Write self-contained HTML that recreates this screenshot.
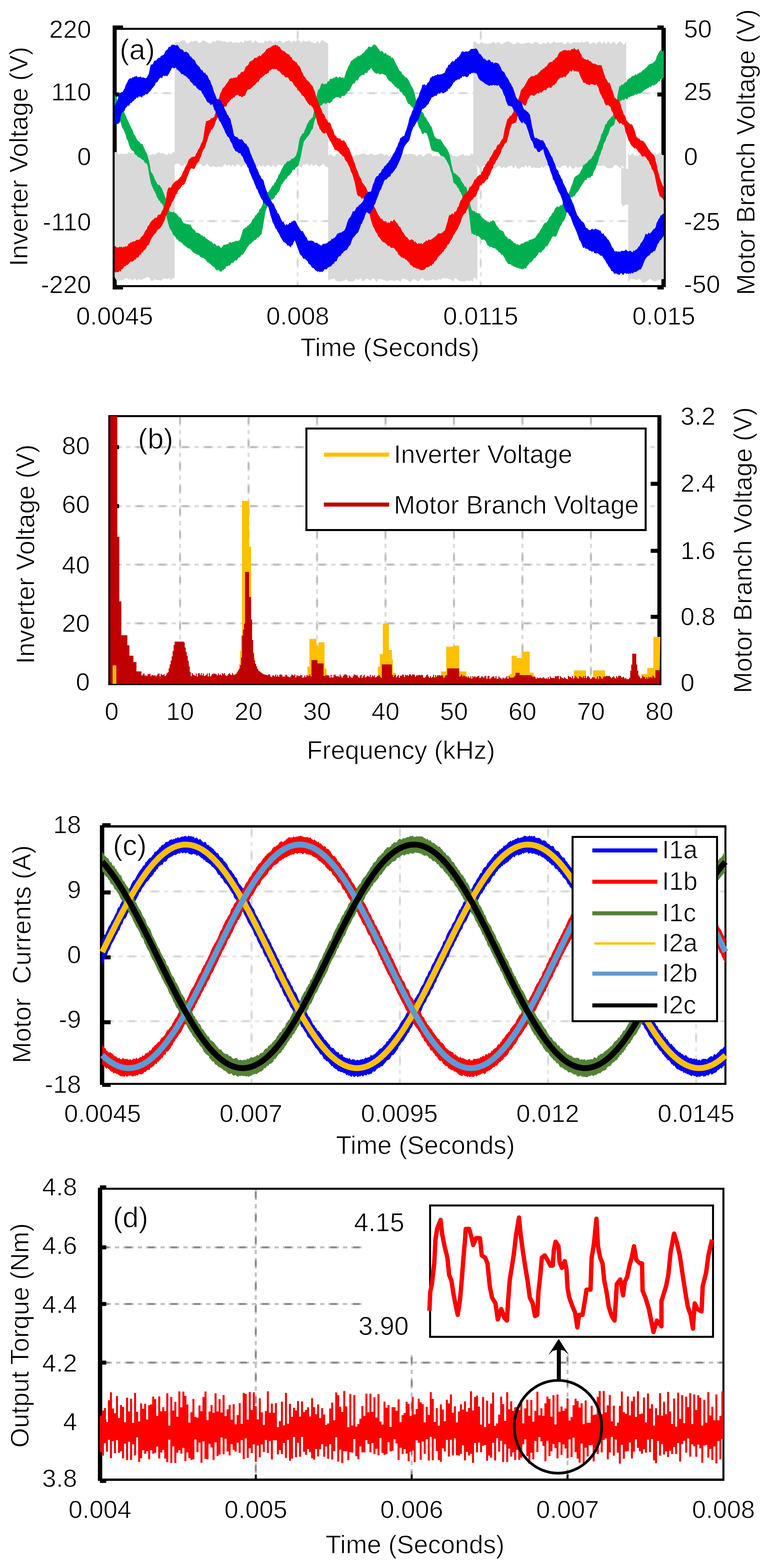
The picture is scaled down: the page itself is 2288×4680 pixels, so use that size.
<!DOCTYPE html>
<html><head><meta charset="utf-8"><title>figure</title>
<style>
html,body{margin:0;padding:0;background:#fff;}
svg{display:block;}
svg text{font-family:"Liberation Sans",Arial,sans-serif;fill:#000;stroke:#fff;stroke-width:1.2px;}
</style></head><body>
<svg width="2288" height="4680" viewBox="0 0 2288 4680">
<rect x="0" y="0" width="2288" height="4680" fill="#fff"/>
<line x1="888" y1="89" x2="888" y2="851" stroke="#E8E8E8" stroke-width="6" stroke-dasharray="31 12 13 12" stroke-dashoffset="-0"/>
<line x1="888" y1="89" x2="888" y2="851" stroke="#D6D6D6" stroke-width="6" stroke-dasharray="19 49" stroke-dashoffset="-6"/>
<line x1="1434" y1="89" x2="1434" y2="851" stroke="#E8E8E8" stroke-width="6" stroke-dasharray="31 12 13 12" stroke-dashoffset="-0"/>
<line x1="1434" y1="89" x2="1434" y2="851" stroke="#D6D6D6" stroke-width="6" stroke-dasharray="19 49" stroke-dashoffset="-6"/>
<line x1="348" y1="278" x2="1980" y2="278" stroke="#E8E8E8" stroke-width="6" stroke-dasharray="31 12 13 12" stroke-dashoffset="-65.8"/>
<line x1="348" y1="278" x2="1980" y2="278" stroke="#D6D6D6" stroke-width="6" stroke-dasharray="19 49" stroke-dashoffset="-71.8"/>
<line x1="348" y1="660" x2="1980" y2="660" stroke="#E8E8E8" stroke-width="6" stroke-dasharray="31 12 13 12" stroke-dashoffset="-65.8"/>
<line x1="348" y1="660" x2="1980" y2="660" stroke="#D6D6D6" stroke-width="6" stroke-dasharray="19 49" stroke-dashoffset="-71.8"/>
<rect x="336" y="76" width="12" height="788" fill="#000"/>
<rect x="1973" y="83" width="13" height="774" fill="#000"/>
<rect x="336" y="83" width="1650" height="6" fill="#000"/>
<rect x="336" y="851" width="1650" height="6" fill="#000"/>
<rect x="336" y="76" width="31" height="13" fill="#000"/>
<rect x="336" y="851" width="31" height="13" fill="#000"/>
<rect x="1961" y="76" width="19" height="7" fill="#000"/>
<rect x="1961" y="857" width="19" height="7" fill="#000"/>
<rect x="348" y="276" width="7" height="12" fill="#000"/>
<rect x="1961" y="276" width="12" height="12" fill="#000"/>
<rect x="348" y="463" width="7" height="12" fill="#000"/>
<rect x="1961" y="463" width="12" height="12" fill="#000"/>
<rect x="348" y="654" width="7" height="12" fill="#000"/>
<rect x="1961" y="654" width="12" height="12" fill="#000"/>
<polygon points="342,454 342,454 348,454 354,461 360,458 366,459 372,459 378,460 384,453 390,458 396,454 402,457 408,463 414,459 420,453 426,458 432,454 438,461 444,463 450,463 456,459 462,462 468,457 474,454 480,458 486,457 492,460 498,463 504,456 510,462 516,454 521,454 521,830 516,830 510,836 504,829 498,834 492,831 486,832 480,838 474,836 468,836 462,833 456,838 450,838 444,827 438,828 432,830 426,833 420,836 414,832 408,838 402,830 396,838 390,833 384,835 378,829 372,833 366,836 360,837 354,837 348,838 342,827 342,827" fill="#D9D9D9"/>
<polygon points="521,128 521,128 527,125 533,127 539,123 545,120 551,120 557,130 563,129 569,123 575,124 581,122 587,121 593,129 599,127 605,120 611,122 617,126 623,129 629,130 635,122 641,126 647,120 653,121 659,122 665,124 671,123 677,127 683,125 689,123 695,129 701,126 707,127 713,128 719,123 725,129 731,120 737,123 743,121 749,120 755,130 761,120 767,125 773,129 779,127 785,129 791,120 797,125 803,120 809,122 815,129 821,120 827,126 833,120 839,123 845,130 851,123 857,123 863,120 869,128 875,121 881,125 887,120 893,120 899,129 905,120 911,125 917,124 923,121 929,127 935,128 941,130 947,122 953,130 959,120 965,121 971,126 977,129 979,129 979,499 977,499 971,497 965,488 959,493 953,498 947,494 941,490 935,496 929,489 923,497 917,488 911,492 905,491 899,500 893,497 887,496 881,494 875,491 869,499 863,500 857,490 851,491 845,492 839,494 833,491 827,493 821,500 815,492 809,500 803,494 797,492 791,500 785,493 779,498 773,492 767,500 761,497 755,499 749,488 743,489 737,488 731,494 725,493 719,500 713,491 707,490 701,498 695,491 689,497 683,491 677,495 671,489 665,496 659,499 653,496 647,499 641,498 635,495 629,500 623,494 617,489 611,495 605,496 599,490 593,489 587,496 581,493 575,494 569,498 563,496 557,499 551,490 545,497 539,495 533,488 527,488 521,492 521,492" fill="#D9D9D9"/>
<polygon points="979,465 979,465 985,459 991,463 997,468 1003,459 1009,459 1015,468 1021,460 1027,467 1033,461 1039,466 1045,458 1051,464 1057,467 1063,461 1069,464 1075,460 1081,459 1087,458 1093,463 1099,463 1105,458 1111,460 1117,464 1123,462 1129,460 1135,458 1141,458 1147,465 1153,459 1159,467 1165,464 1171,460 1177,465 1183,459 1189,461 1195,463 1201,465 1207,459 1213,461 1219,459 1225,459 1231,460 1237,461 1243,467 1249,462 1255,459 1261,468 1267,464 1273,459 1279,458 1285,458 1291,468 1297,464 1303,465 1309,468 1315,462 1321,467 1327,462 1333,465 1339,467 1345,458 1351,466 1357,466 1363,468 1369,465 1375,463 1381,459 1387,466 1393,463 1399,466 1405,458 1411,461 1412,461 1412,840 1411,840 1405,837 1399,839 1393,837 1387,840 1381,840 1375,839 1369,838 1363,833 1357,830 1351,840 1345,834 1339,833 1333,830 1327,831 1321,830 1315,835 1309,833 1303,836 1297,837 1291,833 1285,836 1279,837 1273,838 1267,837 1261,830 1255,833 1249,840 1243,838 1237,833 1231,834 1225,842 1219,839 1213,834 1207,833 1201,831 1195,840 1189,838 1183,835 1177,839 1171,837 1165,836 1159,838 1153,839 1147,836 1141,835 1135,833 1129,833 1123,842 1117,832 1111,831 1105,838 1099,834 1093,831 1087,837 1081,839 1075,830 1069,836 1063,832 1057,837 1051,840 1045,840 1039,840 1033,833 1027,838 1021,838 1015,841 1009,839 1003,839 997,831 991,833 985,834 979,838 979,838" fill="#D9D9D9"/>
<polygon points="1410,498 1410,498 1416,492 1422,494 1424,494 1424,835 1422,835 1416,828 1410,831 1410,831" fill="#D9D9D9"/>
<polygon points="1412,125 1412,125 1418,124 1424,130 1430,132 1436,124 1442,130 1448,130 1454,131 1460,130 1466,129 1472,124 1478,131 1484,125 1490,127 1496,133 1502,129 1508,126 1514,123 1520,125 1526,129 1532,132 1538,131 1544,125 1550,130 1556,130 1562,131 1568,128 1574,128 1580,127 1586,132 1592,128 1598,124 1604,128 1610,132 1616,132 1622,127 1628,132 1634,124 1640,131 1646,129 1652,123 1658,128 1664,127 1670,127 1676,125 1682,132 1688,132 1694,124 1700,131 1706,129 1712,125 1718,127 1724,126 1730,128 1736,124 1742,128 1748,124 1754,124 1760,132 1766,128 1772,126 1778,132 1784,126 1790,124 1796,132 1802,123 1808,133 1814,123 1820,131 1826,128 1832,124 1838,133 1844,127 1850,123 1856,130 1862,133 1868,124 1868,124 1868,498 1868,498 1862,504 1856,493 1850,502 1844,497 1838,492 1832,494 1826,503 1820,501 1814,503 1808,499 1802,493 1796,495 1790,495 1784,495 1778,493 1772,503 1766,493 1760,501 1754,501 1748,497 1742,500 1736,497 1730,498 1724,501 1718,497 1712,504 1706,502 1700,493 1694,503 1688,494 1682,494 1676,496 1670,502 1664,498 1658,501 1652,492 1646,501 1640,492 1634,495 1628,494 1622,502 1616,497 1610,502 1604,501 1598,501 1592,499 1586,503 1580,492 1574,500 1568,492 1562,500 1556,497 1550,504 1544,503 1538,492 1532,503 1526,494 1520,496 1514,498 1508,503 1502,496 1496,504 1490,495 1484,497 1478,504 1472,501 1466,500 1460,496 1454,492 1448,493 1442,496 1436,499 1430,503 1424,493 1418,492 1412,500 1412,500" fill="#D9D9D9"/>
<polygon points="1853,497 1853,497 1859,503 1865,501 1871,505 1874,505 1874,611 1871,611 1865,611 1859,616 1853,607 1853,607" fill="#D9D9D9"/>
<polygon points="1874,458 1874,458 1880,465 1886,457 1892,465 1898,463 1904,466 1910,458 1916,462 1922,456 1928,463 1934,456 1940,460 1946,459 1952,458 1958,461 1964,459 1970,456 1976,463 1980,463 1980,833 1976,833 1970,835 1964,835 1958,839 1952,840 1946,837 1940,832 1934,836 1928,840 1922,843 1916,843 1910,833 1904,834 1898,837 1892,834 1886,833 1880,833 1874,843 1874,843" fill="#D9D9D9"/>
<polygon points="342,281.9 345,287 348,292.1 351,300.7 354,305.6 357,310 360,315.5 363,322.2 366,327.8 369,331.9 372,338.7 375,345 378,352.6 381,359.3 384,364.9 387,372.5 390,378.3 393,384.8 396,389.1 399,400.2 402,403.4 405,408.6 408,416.1 411,420.6 414,421.9 417,424.5 420,429.3 423,429.3 426,431.4 429,440.2 432,445.8 435,453.9 438,457.2 441,468.4 444,478.8 447,493.8 450,512.3 453,516 456,521.1 459,527.4 462,534.9 465,540.7 468,546.7 471,551.7 474,551.5 477,553.4 480,558.8 483,562.3 486,571.6 489,578.2 492,587 495,594 498,606 501,615.4 504,625.2 507,634.5 510,631.4 513,633.7 516,632.9 519,632 522,636.6 525,636.2 528,639.7 531,643.4 534,648.5 537,648.3 540,652.1 543,657.7 546,663.5 549,666.9 552,666.4 555,667.9 558,670.3 561,667.2 564,671.8 567,669.3 570,674 573,680.4 576,683.7 579,685.5 582,688.3 585,695 588,694.3 591,694.4 594,697.2 597,697.3 600,703.5 603,700.9 606,707.5 609,705.2 612,708.3 615,712.5 618,713.3 621,716.2 624,717.1 627,721.2 630,720.5 633,723.2 636,728.8 639,726.5 642,728 645,731.9 648,734.6 651,732.6 654,734.6 657,738.1 660,740.1 663,736.8 666,731.9 669,729.7 672,730.9 675,729 678,729.2 681,727.5 684,724.3 687,721.6 690,725.1 693,723 696,721.7 699,721.8 702,719.5 705,718.8 708,719.7 711,718.6 714,717.8 717,710.9 720,702.1 723,691.1 726,682.7 729,683.1 732,678.4 735,679.3 738,673.6 741,673.3 744,669.5 747,667.1 750,663.3 753,654.7 756,653.3 759,649.1 762,642 765,641.8 768,635.8 771,634 774,625 777,622.8 780,617.3 783,610.2 786,601 789,591.4 792,581.3 795,576.7 798,572.9 801,573 804,567.4 807,564.4 810,558.6 813,554 816,553.7 819,545.4 822,543.2 825,535.6 828,531.9 831,521 834,519.6 837,512.6 840,505.4 843,500.3 846,494.3 849,489.6 852,488.5 855,483.8 858,480.3 861,482 864,478.5 867,478.9 870,472.8 873,473.8 876,471.9 879,468.4 882,465.8 885,458 888,447.7 891,428.5 894,413.2 897,407.2 900,402.9 903,397.6 906,398.6 909,388.3 912,382.4 915,373.9 918,368.1 921,362.8 924,358 927,356.6 930,351.8 933,350.6 936,334.7 939,317.9 942,300.8 945,285 948,271.7 951,266.4 954,264.2 957,254 960,248.7 963,248.3 966,252.4 969,250.2 972,250 975,249.4 978,242 981,243.2 984,236.1 987,235 990,235.3 993,235.2 996,231.2 999,231.8 1002,228.4 1005,229.1 1008,232.6 1011,231.3 1014,229 1017,231 1020,232.4 1023,229.7 1026,234.4 1029,224.9 1032,215 1035,208.9 1038,201.1 1041,194.7 1044,190 1047,181.7 1050,180.8 1053,178 1056,174.7 1059,175 1062,170.7 1065,171 1068,165.5 1071,168.5 1074,164.3 1077,165.4 1080,160.6 1083,158.7 1086,156.2 1089,151.7 1092,147.4 1095,147 1098,140.2 1101,138.8 1104,140 1107,140.9 1110,138.2 1113,134.8 1116,132.5 1119,133.4 1122,136 1125,140 1128,145 1131,147.1 1134,154.3 1137,152.2 1140,152.6 1143,155.6 1146,160.6 1149,157.5 1152,159.7 1155,165.1 1158,163.1 1161,167.9 1164,165.5 1167,172.9 1170,171.4 1173,173.5 1176,179.3 1179,185.9 1182,191.8 1185,196.5 1188,203.5 1191,209.9 1194,212.8 1197,214.1 1200,222.1 1203,223.1 1206,226.4 1209,230.7 1212,230.9 1215,233.8 1218,238.3 1221,244 1224,250.2 1227,256.7 1230,261.1 1233,267.1 1236,276.5 1239,289.1 1242,300.2 1245,309.2 1248,317.4 1251,325.3 1254,325.7 1257,333 1260,334.8 1263,337.3 1266,345.9 1269,350.4 1272,353.4 1275,359.4 1278,364.2 1281,368.9 1284,375.6 1287,377.3 1290,387.2 1293,396.4 1296,406.7 1299,409.9 1302,413 1305,414.4 1308,415.3 1311,415.7 1314,416.6 1317,421.2 1320,425 1323,430.3 1326,435.1 1329,438.3 1332,442.3 1335,447.2 1338,453.4 1341,460.9 1344,476.2 1347,492.1 1350,504.6 1353,515.1 1356,516.9 1359,518.6 1362,522.3 1365,523.3 1368,528.1 1371,529 1374,534.5 1377,541.6 1380,545.4 1383,549.6 1386,556.4 1389,556.2 1392,561.2 1395,572.9 1398,586.4 1401,602.4 1404,615.9 1407,625.8 1410,629.1 1413,630.9 1416,629.8 1419,634.9 1422,634.8 1425,636.7 1428,636.9 1431,637.6 1434,644.6 1437,647.6 1440,651.5 1443,652.5 1446,657 1449,657 1452,660.3 1455,662.5 1458,662.8 1461,664 1464,659.2 1467,661.1 1470,656.9 1473,658.6 1476,660.7 1479,668.5 1482,673.8 1485,677.8 1488,681.8 1491,686.2 1494,687.1 1497,688.9 1500,689.3 1503,694.1 1506,701.2 1509,705.7 1512,705.9 1515,711.8 1518,714.1 1521,712.4 1524,715 1527,719.8 1530,719.7 1533,725.8 1536,724.5 1539,729 1542,730.1 1545,727.9 1548,732.5 1551,730.1 1554,728.8 1557,726.2 1560,726.4 1563,725.2 1566,720.8 1569,723.1 1572,718.9 1575,721.7 1578,716 1581,716.4 1584,714.3 1587,714.5 1590,712.4 1593,711.2 1596,710.4 1599,705.1 1602,701.5 1605,696.4 1608,694.5 1611,687.4 1614,683.6 1617,679.4 1620,672.3 1623,668.3 1626,664.2 1629,665.1 1632,661.3 1635,657.6 1638,649.7 1641,646.5 1644,644.6 1647,636.3 1650,635.2 1653,629.1 1656,622.6 1659,619.1 1662,615.3 1665,618.1 1668,617.7 1671,612.8 1674,612.8 1677,611.1 1680,603.2 1683,600.7 1686,597.8 1689,590.8 1692,582.1 1695,580.8 1698,573.8 1701,566 1704,556.3 1707,549.6 1710,540.2 1713,530.3 1716,527.4 1719,524.7 1722,523.2 1725,521.4 1728,519.8 1731,513.5 1734,507.5 1737,502.9 1740,492.6 1743,492.1 1746,488 1749,487.8 1752,483.5 1755,480.3 1758,476.8 1761,474.8 1764,473.2 1767,466.4 1770,464 1773,455.6 1776,450.7 1779,446.6 1782,436.4 1785,429.7 1788,421.5 1791,413.9 1794,400.7 1797,397.6 1800,388.8 1803,381.3 1806,370.6 1809,370.4 1812,362.3 1815,359.4 1818,354.9 1821,353.1 1824,348.3 1827,347.6 1830,340.1 1833,339.6 1836,322.8 1839,304.4 1842,287.1 1845,268.6 1848,256.7 1851,257 1854,252.2 1857,253 1860,251.4 1863,246.9 1866,246.1 1869,243.7 1872,237.4 1875,235.9 1878,232.2 1881,233.2 1884,227.8 1887,226.5 1890,226.4 1893,224.9 1896,220.9 1899,224.9 1902,219 1905,219.8 1908,216 1911,216.7 1914,213.4 1917,210.2 1920,208.2 1923,205.9 1926,202.9 1929,201 1932,196.3 1935,193 1938,191.7 1941,190.1 1944,190.3 1947,187.7 1950,185.5 1953,182.8 1956,178.9 1959,168.5 1962,163.4 1965,157 1968,152.4 1971,149.6 1974,150.8 1977,154.3 1980,149.2 1980,230.7 1977,233.4 1974,238.5 1971,235.6 1968,243.4 1965,241.8 1962,246.6 1959,249.9 1956,251.3 1953,253.6 1950,255.7 1947,254.1 1944,255.9 1941,260.5 1938,258.2 1935,261.8 1932,263 1929,265.1 1926,266.3 1923,267.7 1920,272.5 1917,272.5 1914,277.6 1911,277.3 1908,279.2 1905,278.8 1902,280.3 1899,283.7 1896,280.5 1893,283.1 1890,285.6 1887,285.8 1884,287.4 1881,287.6 1878,291.3 1875,289.4 1872,295 1869,296.7 1866,292.5 1863,296.6 1860,299.2 1857,296.8 1854,299.3 1851,303 1848,299.5 1845,308.3 1842,322.8 1839,338.4 1836,354.8 1833,370.3 1830,374.1 1827,376.6 1824,377.9 1821,381.1 1818,389.1 1815,400 1812,404.4 1809,411 1806,420.7 1803,425 1800,432.1 1797,445.3 1794,449.5 1791,461 1788,466.8 1785,479.8 1782,489 1779,495.2 1776,504.9 1773,508.8 1770,515.3 1767,526.6 1764,524.5 1761,530.7 1758,529.6 1755,531.6 1752,530.4 1749,538 1746,536.3 1743,540.2 1740,546.1 1737,549.9 1734,555 1731,559.2 1728,565.2 1725,570.3 1722,573.4 1719,576.5 1716,581.6 1713,586.5 1710,584.7 1707,591.1 1704,587.5 1701,591.4 1698,603.4 1695,611.5 1692,628 1689,641.1 1686,651.2 1683,657.4 1680,661 1677,664.5 1674,673.3 1671,675.6 1668,684.1 1665,690.3 1662,698.8 1659,705.7 1656,706 1653,705.5 1650,705.2 1647,708 1644,714 1641,719.7 1638,724.3 1635,730.7 1632,735.9 1629,734.3 1626,739.3 1623,744.8 1620,745.8 1617,749.7 1614,753.5 1611,754.3 1608,751.9 1605,759.6 1602,762.6 1599,767.1 1596,770.2 1593,770.8 1590,775.9 1587,779.5 1584,783.7 1581,782.5 1578,788.7 1575,790.8 1572,795.1 1569,801.7 1566,800.8 1563,801.1 1560,804.3 1557,802.9 1554,803.1 1551,800.8 1548,801.9 1545,798.6 1542,800.1 1539,797.5 1536,796.2 1533,796.5 1530,792.5 1527,793.8 1524,788.6 1521,789.3 1518,788.2 1515,787 1512,781.4 1509,779 1506,770.4 1503,767.5 1500,759.5 1497,760.9 1494,758.3 1491,752.8 1488,753.3 1485,747.4 1482,745.9 1479,744.3 1476,739.7 1473,741.2 1470,739.8 1467,737 1464,736.8 1461,738.3 1458,732.9 1455,733 1452,727.6 1449,719.4 1446,717.4 1443,714.2 1440,715.9 1437,715.8 1434,711 1431,708.8 1428,705.5 1425,703.9 1422,705.5 1419,700.2 1416,701.2 1413,700.2 1410,696.5 1407,699.2 1404,679.9 1401,651.5 1398,629.7 1395,609.2 1392,596.1 1389,592.5 1386,589 1383,588.4 1380,587.5 1377,581.2 1374,573.3 1371,571 1368,561.2 1365,560.4 1362,553.6 1359,550.9 1356,546.8 1353,546.2 1350,528.9 1347,517.1 1344,509.5 1341,497.1 1338,491 1335,485.1 1332,478.9 1329,475.4 1326,469.7 1323,467.2 1320,466.7 1317,464.4 1314,464.1 1311,459.3 1308,455 1305,453.3 1302,454.1 1299,452.5 1296,451.6 1293,451.7 1290,448.5 1287,447.6 1284,437.5 1281,423.6 1278,413.2 1275,404.1 1272,397 1269,397.4 1266,394.5 1263,399.9 1260,400.8 1257,393.2 1254,386.1 1251,382 1248,375.5 1245,364.8 1242,352.8 1239,342.7 1236,336.3 1233,326.3 1230,319.5 1227,317.4 1224,313.5 1221,310.8 1218,310.3 1215,304.5 1212,296.9 1209,289.6 1206,285.3 1203,283.8 1200,278.4 1197,273.8 1194,275 1191,267.5 1188,263.4 1185,264.9 1182,258.9 1179,260 1176,254.9 1173,251.7 1170,248.2 1167,244.8 1164,243.4 1161,241.4 1158,237.4 1155,233.9 1152,226.3 1149,223.3 1146,223.9 1143,220.1 1140,221.2 1137,220 1134,222.2 1131,222 1128,217.5 1125,220.3 1122,219.7 1119,218 1116,215 1113,212 1110,207.1 1107,202.3 1104,207 1101,209.2 1098,210.8 1095,219.3 1092,217.2 1089,217.9 1086,224.2 1083,222.8 1080,224.6 1077,225.3 1074,228.8 1071,231.2 1068,239.6 1065,240.1 1062,240 1059,246.8 1056,249.8 1053,249.4 1050,255.1 1047,260.6 1044,267.6 1041,271.9 1038,272.1 1035,278 1032,280 1029,284.8 1026,286.7 1023,285.9 1020,286 1017,291.6 1014,293.4 1011,290.2 1008,289.8 1005,290.3 1002,290.1 999,293.1 996,294.8 993,297.3 990,303.6 987,304.7 984,308.3 981,308.1 978,306.3 975,307.5 972,311.4 969,307.7 966,308 963,309.7 960,313.8 957,315.3 954,319.7 951,324.5 948,327.6 945,336.5 942,351.6 939,357.7 936,369.7 933,385 930,386.8 927,393.1 924,400.1 921,404.1 918,407.5 915,410.6 912,415.4 909,418.5 906,423.4 903,438.5 900,452.8 897,468.7 894,479.9 891,492.6 888,496.3 885,499 882,500.6 879,507 876,506.1 873,507.2 870,515.3 867,518 864,522.8 861,524.2 858,527 855,534.1 852,533.9 849,539 846,542.6 843,548.1 840,550.4 837,557.8 834,568.9 831,573.3 828,575.5 825,582.3 822,582.9 819,590.2 816,592.2 813,595.7 810,595 807,599.2 804,602.1 801,611.9 798,614.9 795,623.3 792,630.9 789,648.9 786,667.3 783,683.4 780,699.4 777,701.3 774,704.7 771,709.7 768,707.8 765,713.7 762,716.3 759,716.4 756,720.1 753,721.9 750,726 747,728.4 744,729.2 741,734.5 738,738.3 735,743.6 732,748.1 729,752.9 726,758 723,761.1 720,760 717,767.2 714,768 711,769.4 708,774.8 705,777.9 702,776.4 699,779.8 696,784.2 693,784.1 690,785.3 687,790.8 684,793.2 681,793.1 678,794.7 675,794.3 672,802.3 669,802.2 666,807 663,806.2 660,812.1 657,809.2 654,808.6 651,804.4 648,807.5 645,805.9 642,802.3 639,797 636,796.2 633,793.1 630,790.4 627,786.4 624,787.2 621,782.7 618,782.5 615,777.7 612,773.7 609,772.8 606,768.6 603,770.1 600,766.7 597,767.4 594,761.3 591,760.3 588,759.5 585,758.3 582,756.7 579,754.7 576,753.1 573,749.7 570,745.8 567,743.5 564,741 561,742.7 558,737.2 555,737.5 552,732.4 549,733.5 546,729 543,725.3 540,724 537,720.6 534,721.2 531,714.8 528,715.4 525,711 522,705 519,703.3 516,700.1 513,691.9 510,686.5 507,683.3 504,674.8 501,664 498,651.6 495,634.9 492,620.7 489,617 486,613.7 483,606.3 480,607.3 477,599.4 474,598.8 471,592.3 468,588.4 465,578.9 462,573.4 459,567.7 456,560.9 453,554.6 450,546.1 447,531.2 444,515.5 441,497.1 438,488.2 435,486.5 432,486.3 429,480 426,476.4 423,476 420,472.5 417,470.7 414,469.6 411,468.7 408,463.6 405,462.2 402,459.7 399,451.8 396,450.3 393,448.2 390,444.5 387,438.2 384,429.1 381,418.6 378,415.2 375,403.5 372,395.6 369,387.8 366,383.6 363,377.3 360,365.4 357,360.4 354,349.4 351,342.7 348,335.7 345,326.3 342,319.4" fill="#00B050"/>
<polygon points="342,734.8 345,735 348,738.3 351,738.5 354,738.7 357,736.2 360,738 363,735.8 366,739.8 369,735.6 372,737.7 375,734.6 378,735.8 381,733.2 384,726.4 387,727.1 390,722 393,724.2 396,720.4 399,720.6 402,720.6 405,718 408,715.6 411,716 414,715.2 417,714.4 420,708.4 423,706 426,702.9 429,698.6 432,691.5 435,686.8 438,683.7 441,674.5 444,673.2 447,666.6 450,661.7 453,658.7 456,656 459,653.8 462,649.5 465,650 468,649.7 471,642.1 474,640.3 477,641.1 480,637.2 483,629.3 486,626.3 489,614.7 492,610.9 495,595.7 498,574.2 501,562.8 504,559.5 507,560 510,559.9 513,552.6 516,548.8 519,545.1 522,542.8 525,538.4 528,539.8 531,535.7 534,533.6 537,528.5 540,526.9 543,520.3 546,511.8 549,507.9 552,499.7 555,494.8 558,490.9 561,481.3 564,475 567,473.7 570,470.6 573,468.1 576,468.2 579,467.3 582,466.7 585,458.2 588,454.9 591,446.2 594,443 597,436.8 600,428.7 603,424.1 606,415.1 609,395.2 612,375.6 615,361.1 618,361.3 621,360 624,358.6 627,357.2 630,351.6 633,354 636,350.3 639,349.6 642,339.7 645,329.4 648,313.5 651,299.2 654,291.5 657,278.8 660,274.3 663,265.9 666,261.6 669,259.4 672,255.3 675,250.6 678,246.4 681,243 684,236.2 687,234.6 690,232.9 693,234.3 696,232 699,232.2 702,231.1 705,231.3 708,229.4 711,222 714,223.2 717,219 720,214.8 723,214.6 726,214.3 729,209.9 732,201.3 735,197.4 738,195.8 741,193.5 744,185.1 747,182.2 750,182.8 753,179.4 756,177.5 759,172.2 762,172.7 765,173.2 768,169.4 771,168.3 774,164.8 777,168.1 780,164.7 783,160.5 786,158.4 789,155.9 792,152.2 795,146.3 798,145.9 801,142.5 804,143.3 807,141 810,138.2 813,137.2 816,135.1 819,135.4 822,133 825,136.2 828,135.1 831,139.7 834,139.3 837,144.7 840,149 843,151.1 846,152.7 849,152.8 852,157.3 855,159.3 858,160.9 861,162.1 864,164.4 867,170.4 870,171 873,179.8 876,180 879,182.2 882,185.6 885,186 888,193 891,196 894,198.6 897,204.6 900,214.3 903,218.1 906,226.5 909,228.7 912,233.2 915,239.2 918,240.6 921,243.2 924,246.9 927,251.2 930,254.8 933,257.6 936,266.4 939,272.9 942,284 945,294.4 948,300 951,307.8 954,318.5 957,322 960,329.8 963,338.8 966,339.9 969,346.2 972,355.1 975,356.6 978,362.7 981,366.2 984,365.5 987,370.8 990,382.5 993,386.4 996,394.4 999,405.1 1002,404.2 1005,411.6 1008,411.9 1011,414 1014,412.3 1017,417.6 1020,420.3 1023,419.2 1026,418.8 1029,423 1032,427.1 1035,433.7 1038,440.6 1041,441.5 1044,451.1 1047,458.6 1050,466.1 1053,474.3 1056,482.5 1059,488.8 1062,500.6 1065,507.2 1068,513.8 1071,524.2 1074,529.4 1077,532.9 1080,544.5 1083,547.4 1086,551.2 1089,555.8 1092,560.1 1095,567.6 1098,575.4 1101,583.2 1104,594.6 1107,599.6 1110,603.2 1113,610.2 1116,616.6 1119,620.5 1122,628.3 1125,633.8 1128,641.5 1131,643.8 1134,650.1 1137,653.1 1140,653 1143,658.4 1146,660.7 1149,660.2 1152,660.1 1155,666.7 1158,662 1161,666.7 1164,661.8 1167,658.3 1170,661.8 1173,658.2 1176,654.8 1179,660.3 1182,663.7 1185,666.2 1188,672.2 1191,676.5 1194,677.4 1197,685.1 1200,690.8 1203,694 1206,699.1 1209,704.2 1212,706.8 1215,708.6 1218,712.9 1221,716.9 1224,716.8 1227,714.2 1230,714.9 1233,716.9 1236,722.2 1239,720.9 1242,723.7 1245,729 1248,726.1 1251,727 1254,726.9 1257,725.6 1260,729.8 1263,725 1266,723.3 1269,720.6 1272,716.7 1275,720 1278,715 1281,715.1 1284,717 1287,713.8 1290,712.5 1293,709.2 1296,708.4 1299,704.7 1302,703.2 1305,698.3 1308,696.1 1311,696.8 1314,696.6 1317,696.2 1320,693.5 1323,690.3 1326,689.5 1329,681.2 1332,671 1335,662.1 1338,647.7 1341,641.1 1344,642.3 1347,638.2 1350,636.7 1353,640.8 1356,631.4 1359,632.2 1362,627.8 1365,618.8 1368,616.5 1371,606.2 1374,598.6 1377,595.4 1380,587.3 1383,583.6 1386,578.6 1389,578.9 1392,573.4 1395,572 1398,566 1401,557.4 1404,557.5 1407,553.2 1410,549 1413,542.9 1416,534.9 1419,535.4 1422,529.7 1425,526.1 1428,523.9 1431,521.6 1434,522.2 1437,511.8 1440,510.8 1443,499.4 1446,497.7 1449,489.9 1452,487.1 1455,480.6 1458,480.4 1461,471.2 1464,467.8 1467,463.4 1470,457.2 1473,450.5 1476,446.4 1479,445.8 1482,436.4 1485,431.3 1488,432.1 1491,427.5 1494,421.8 1497,416 1500,414.4 1503,398.4 1506,383.2 1509,373 1512,360.8 1515,353.6 1518,352.7 1521,344.7 1524,346.5 1527,341.2 1530,337.2 1533,330.1 1536,324.1 1539,319.1 1542,310 1545,300.6 1548,290.9 1551,281.8 1554,268.7 1557,265.9 1560,261.9 1563,259.1 1566,253.9 1569,248.3 1572,243.4 1575,236.8 1578,233.7 1581,230.4 1584,228.7 1587,226 1590,227.9 1593,226.9 1596,224.5 1599,222.9 1602,223.7 1605,218.7 1608,216.6 1611,213.3 1614,209.1 1617,208.4 1620,204.5 1623,204.6 1626,199.7 1629,198.9 1632,195.2 1635,190.8 1638,186.4 1641,186.1 1644,184 1647,186.1 1650,179.5 1653,179.5 1656,174.6 1659,172.5 1662,170.2 1665,163 1668,157.7 1671,153.9 1674,154.3 1677,152 1680,150.4 1683,149.5 1686,149.1 1689,150.1 1692,151 1695,149.3 1698,150.7 1701,151.1 1704,147.8 1707,145.7 1710,147.6 1713,142.6 1716,147.2 1719,148.7 1722,148.8 1725,145.5 1728,151.5 1731,158.8 1734,162.5 1737,171.1 1740,173 1743,175.9 1746,176.8 1749,179 1752,177.5 1755,178.1 1758,183.1 1761,181.8 1764,185.5 1767,188.2 1770,190.9 1773,189.5 1776,191 1779,192.5 1782,193.2 1785,195.7 1788,193.4 1791,194.8 1794,194.1 1797,204.2 1800,213.5 1803,222.3 1806,233.1 1809,236.1 1812,242.1 1815,247.4 1818,246.6 1821,253.1 1824,263.6 1827,269.9 1830,279.5 1833,291.1 1836,292.4 1839,296.9 1842,296.4 1845,299 1848,301.4 1851,310.6 1854,322.5 1857,330 1860,340.8 1863,343.6 1866,349.5 1869,359.6 1872,363.1 1875,366.2 1878,368.8 1881,371.4 1884,370.2 1887,374.2 1890,381.4 1893,389.4 1896,399.9 1899,409.3 1902,410.6 1905,414.7 1908,413.7 1911,420 1914,419.2 1917,420.2 1920,422.3 1923,426.3 1926,429.9 1929,435.6 1932,440.6 1935,445.4 1938,448.3 1941,453.7 1944,457 1947,459.2 1950,462.5 1953,467.3 1956,481.5 1959,491.6 1962,508.1 1965,518 1968,529.4 1971,539.1 1974,546.7 1977,553.2 1980,559.4 1980,599.1 1977,592.6 1974,590.7 1971,586.8 1968,586.9 1965,575.8 1962,566.1 1959,551.8 1956,538.3 1953,523.1 1950,513.7 1947,507.7 1944,504 1941,493.4 1938,489.9 1935,480.5 1932,478.8 1929,472.6 1926,470 1923,465.2 1920,466.5 1917,468 1914,466.2 1911,459.9 1908,456.2 1905,453.7 1902,448.5 1899,445.3 1896,441.7 1893,443.5 1890,440.2 1887,437 1884,433.9 1881,430.4 1878,423.1 1875,419.4 1872,410.2 1869,400.1 1866,394.1 1863,379.1 1860,371.8 1857,372.5 1854,368.3 1851,366.7 1848,370.4 1845,364.3 1842,362 1839,356 1836,356.2 1833,348.7 1830,341.1 1827,334.1 1824,330.3 1821,318.2 1818,317.8 1815,313.9 1812,313 1809,315.4 1806,311.7 1803,306.4 1800,296.2 1797,293.1 1794,284.5 1791,281 1788,272.5 1785,261.5 1782,256.6 1779,251.1 1776,253.7 1773,253.9 1770,252 1767,251.2 1764,250.6 1761,252 1758,254.4 1755,252.2 1752,251.7 1749,251.7 1746,246.4 1743,247.5 1740,246.8 1737,238.9 1734,233.9 1731,227.4 1728,217.9 1725,212.2 1722,215 1719,211.5 1716,212.8 1713,212.6 1710,209.6 1707,209.6 1704,214.4 1701,210.1 1698,215.2 1695,219.8 1692,222.3 1689,225.9 1686,230.9 1683,227.9 1680,229.8 1677,232.3 1674,231.1 1671,232.6 1668,234.4 1665,237.9 1662,242.2 1659,248.8 1656,249.5 1653,254.8 1650,253.8 1647,258.3 1644,262.4 1641,262.5 1638,260.1 1635,262.6 1632,263.4 1629,269.9 1626,268.5 1623,268.3 1620,271.1 1617,274.5 1614,277.6 1611,274.1 1608,279.4 1605,277.5 1602,278.3 1599,281 1596,283.7 1593,286.6 1590,284.9 1587,282.7 1584,284 1581,286 1578,292.7 1575,295.8 1572,304.4 1569,313.8 1566,315.1 1563,315.1 1560,310.5 1557,306.9 1554,303.2 1551,315.4 1548,326 1545,343.6 1542,356.2 1539,367.5 1536,365.8 1533,368.3 1530,369.3 1527,369.7 1524,378.5 1521,387.3 1518,398.8 1515,412.2 1512,423.3 1509,426.5 1506,428.8 1503,436.1 1500,439.2 1497,445.5 1494,456 1491,461.5 1488,466.7 1485,472.7 1482,477.8 1479,482 1476,489.4 1473,490.9 1470,502.9 1467,505.6 1464,514.7 1461,522.2 1458,525.3 1455,535.5 1452,535.8 1449,539.2 1446,542.5 1443,548.5 1440,546 1437,552.6 1434,553 1431,555 1428,566.5 1425,571.3 1422,579.6 1419,587.5 1416,587.3 1413,590.5 1410,595.3 1407,596.8 1404,600.4 1401,605.6 1398,613.3 1395,623.8 1392,627 1389,635.4 1386,637.6 1383,640.5 1380,645.6 1377,653.3 1374,663.7 1371,670.2 1368,676.5 1365,684.2 1362,687.6 1359,691.9 1356,698.8 1353,701.5 1350,708.7 1347,715.3 1344,718.4 1341,725.2 1338,729.7 1335,730 1332,738.5 1329,742.2 1326,744.4 1323,751.4 1320,752 1317,757.2 1314,759.2 1311,762.8 1308,765.8 1305,769.4 1302,776.4 1299,779.2 1296,781 1293,788.3 1290,787.4 1287,794.3 1284,791.6 1281,795.7 1278,796.2 1275,798.3 1272,796.8 1269,801.4 1266,804.6 1263,806.3 1260,805.4 1257,807 1254,805.7 1251,804.2 1248,801.5 1245,801.9 1242,800.9 1239,799.4 1236,797.4 1233,798.5 1230,794.1 1227,791.7 1224,790.6 1221,783.9 1218,782 1215,778.6 1212,775.1 1209,774.3 1206,770.1 1203,771.5 1200,767.7 1197,769.3 1194,764 1191,762 1188,759.3 1185,750.8 1182,749.9 1179,745 1176,741.2 1173,739.5 1170,739.4 1167,739.9 1164,737.2 1161,732.4 1158,735.4 1155,731.4 1152,728 1149,725.5 1146,723.3 1143,722.6 1140,720.2 1137,716.1 1134,712.1 1131,707.9 1128,705.7 1125,696.3 1122,694.1 1119,688.2 1116,680.8 1113,676.5 1110,667.7 1107,658.7 1104,645.4 1101,634.3 1098,619.7 1095,605.3 1092,593.3 1089,594.5 1086,595.5 1083,589.5 1080,594.3 1077,590 1074,586.2 1071,585.9 1068,584.6 1065,579.2 1062,563.6 1059,547.9 1056,537.6 1053,526.5 1050,516.8 1047,513.4 1044,502.2 1041,496.1 1038,490.3 1035,483.1 1032,481.4 1029,475.9 1026,467 1023,467 1020,463.1 1017,460.6 1014,458.4 1011,453.1 1008,451.2 1005,448.8 1002,447.6 999,448.2 996,440.6 993,435.4 990,430 987,422.8 984,419.9 981,413.3 978,407.8 975,399.3 972,395.7 969,397.4 966,398.8 963,396.8 960,394 957,388 954,385.9 951,376.2 948,372.2 945,359.9 942,349.1 939,337.6 936,328.5 933,320.7 930,319.1 927,312.6 924,315.6 921,310.1 918,307.9 915,302.7 912,299 909,291.9 906,288 903,285.5 900,284.3 897,277.1 894,274.8 891,270.3 888,270.5 885,261.2 882,260.3 879,256 876,253 873,246 870,242.8 867,242.2 864,240.6 861,233.9 858,231.1 855,230.7 852,231.6 849,228.4 846,223.2 843,223.9 840,221 837,217 834,212.9 831,212.3 828,210.1 825,205.7 822,206.6 819,204.9 816,207 813,204.9 810,207.3 807,210.7 804,209.8 801,218.2 798,218.2 795,221.7 792,220.4 789,224.3 786,227.3 783,228.5 780,232.7 777,232.8 774,238.1 771,244.3 768,244.2 765,246.9 762,252.1 759,254.7 756,256.7 753,259.3 750,262.8 747,265.3 744,266.2 741,267.5 738,268.8 735,274.7 732,283.2 729,286.4 726,286.3 723,290.6 720,288.9 717,286.5 714,287.7 711,283.3 708,282.6 705,284.2 702,285.2 699,291.2 696,290.4 693,295 690,295 687,299.4 684,302.3 681,306.3 678,309.5 675,318.2 672,317.7 669,319.1 666,324 663,323.5 660,328 657,325.2 654,332.9 651,344.1 648,352.7 645,358.2 642,366.7 639,376.7 636,381.8 633,386.2 630,387.3 627,395.6 624,400.2 621,410.6 618,420 615,428.2 612,439.2 609,444.3 606,447.7 603,456 600,466.7 597,471.1 594,480.2 591,484.1 588,487.1 585,492.5 582,500.3 579,504.8 576,503.6 573,502.6 570,502.6 567,506.4 564,514.2 561,522.4 558,528.7 555,539.7 552,545.3 549,551.8 546,551.1 543,553.4 540,558.8 537,562.9 534,565.4 531,569 528,579.1 525,579.1 522,588.9 519,594.2 516,601.1 513,603.2 510,614 507,617.3 504,625 501,631.4 498,639.3 495,643.8 492,654.5 489,661.8 486,667.4 483,673.2 480,678 477,681.2 474,683.4 471,684.9 468,690.1 465,695.8 462,697.8 459,700.8 456,705.4 453,709.8 450,715.4 447,722.6 444,730.4 441,732.2 438,735.2 435,743.3 432,746.1 429,747.2 426,753.8 423,752.9 420,761.3 417,758.9 414,765.9 411,769.8 408,767.5 405,775.3 402,774.1 399,778.6 396,779.6 393,781.9 390,779.8 387,783.4 384,786.8 381,791 378,789.8 375,794.2 372,793.9 369,797.9 366,803.2 363,802.8 360,811.2 357,807.3 354,812.1 351,812.5 348,811.2 345,814 342,810.2" fill="#FF0000"/>
<polygon points="342,316.4 345,309.4 348,304.1 351,298.8 354,284.6 357,276.3 360,277.9 363,274.2 366,274.8 369,268.4 372,263.5 375,253.9 378,248.5 381,242.3 384,236.6 387,234.6 390,233.2 393,234.3 396,229 399,231.7 402,227.2 405,228.8 408,225.7 411,231.5 414,229.5 417,229.9 420,228 423,232.8 426,230.2 429,231.5 432,233 435,233.4 438,231 441,225.4 444,219.9 447,204.5 450,192.3 453,192.7 456,191.2 459,183.5 462,180.3 465,181.1 468,177.9 471,174 474,172 477,173 480,166.6 483,165.9 486,164.6 489,163.1 492,155.9 495,149.8 498,149.5 501,145.3 504,139.3 507,140.2 510,137 513,132.8 516,133.8 519,133.3 522,135.1 525,136 528,133.9 531,135.8 534,140.8 537,145.6 540,146.9 543,147.8 546,149.6 549,154.9 552,155.6 555,153.6 558,156.1 561,158.1 564,160.7 567,168.5 570,168.7 573,173.9 576,176.3 579,177.9 582,181.6 585,189.5 588,193.1 591,196.3 594,198.4 597,203.4 600,208.4 603,209.1 606,213.8 609,217.9 612,216.4 615,223.4 618,223.4 621,230.4 624,237.8 627,239.9 630,251.1 633,256 636,266.4 639,276.3 642,281.9 645,291.3 648,296.7 651,295.3 654,298.2 657,298.9 660,301.6 663,310 666,313 669,322.2 672,328.7 675,333.9 678,341.9 681,344.2 684,352.1 687,353.8 690,368 693,378 696,394.4 699,405.3 702,407.3 705,409.2 708,408.8 711,414.3 714,415.4 717,416.4 720,415.6 723,417.1 726,421.7 729,426.5 732,428.6 735,429.8 738,436.2 741,438.3 744,446.3 747,457 750,463 753,471.3 756,477.8 759,485.3 762,490.7 765,501.2 768,505.6 771,512.7 774,521.7 777,525.1 780,532.8 783,534.9 786,537.9 789,550.3 792,560.3 795,567.9 798,578.4 801,585.1 804,591.2 807,595 810,600.9 813,606.2 816,608 819,615.3 822,623 825,627.3 828,636.6 831,637.7 834,644.1 837,651.3 840,657.4 843,663.3 846,661.4 849,669.3 852,673.2 855,668.1 858,672 861,668.8 864,664.1 867,666.8 870,661 873,661.1 876,658.8 879,658.1 882,659.7 885,666.4 888,672.7 891,677.4 894,682.5 897,687.7 900,690.4 903,689 906,695.7 909,700.9 912,706.8 915,708.9 918,717.4 921,718.7 924,718.1 927,718.4 930,717.8 933,719.5 936,720.5 939,724.9 942,724.6 945,724.4 948,726.6 951,728.9 954,730 957,732.8 960,732.2 963,728.2 966,727.5 969,727.4 972,727.4 975,725.4 978,723.5 981,719.7 984,720.1 987,716.5 990,712.4 993,713.6 996,709.9 999,708.9 1002,705 1005,699.8 1008,696.2 1011,696.3 1014,693.9 1017,694.2 1020,692.6 1023,689.9 1026,689.2 1029,684.4 1032,677.5 1035,666.8 1038,658.6 1041,651.6 1044,649.5 1047,644.3 1050,637.4 1053,629.6 1056,631.6 1059,628.2 1062,621.8 1065,617.1 1068,617 1071,612 1074,610.3 1077,607.4 1080,603.9 1083,600.7 1086,590.8 1089,582.4 1092,578.4 1095,576.9 1098,572.2 1101,573.1 1104,571.6 1107,571.6 1110,559.7 1113,549.6 1116,544.1 1119,533.5 1122,528.1 1125,525.5 1128,524.9 1131,517.4 1134,516.8 1137,512.7 1140,504.4 1143,504.4 1146,497.3 1149,494.2 1152,492.5 1155,487.1 1158,486.1 1161,479.3 1164,477.8 1167,470.5 1170,467.3 1173,459.5 1176,455.9 1179,449.7 1182,442.3 1185,437.5 1188,427.5 1191,422.9 1194,412.2 1197,410.5 1200,408.1 1203,405.8 1206,406 1209,394.4 1212,387.4 1215,378.1 1218,367.9 1221,353.2 1224,346.8 1227,340.5 1230,330.4 1233,326.9 1236,318.1 1239,310.4 1242,301.3 1245,293.2 1248,290.3 1251,280.3 1254,270.6 1257,265.5 1260,252.7 1263,253.6 1266,250.9 1269,254.5 1272,254.3 1275,247.5 1278,245.4 1281,241 1284,231.4 1287,231 1290,226.5 1293,228 1296,226.2 1299,224.3 1302,225.1 1305,220.8 1308,223 1311,222.2 1314,222.1 1317,221.4 1320,220.6 1323,218.6 1326,217.6 1329,210.2 1332,203.3 1335,201.3 1338,192.4 1341,193.6 1344,188.6 1347,185 1350,181.4 1353,184 1356,181.7 1359,175.2 1362,176.8 1365,170.4 1368,170.8 1371,165.4 1374,161.5 1377,154 1380,153.4 1383,154.1 1386,155.2 1389,153.3 1392,153.2 1395,154 1398,152.7 1401,150.8 1404,146.7 1407,145.7 1410,145.9 1413,145.5 1416,146.3 1419,143.9 1422,145.9 1425,150 1428,156.8 1431,161.6 1434,161.4 1437,167.2 1440,170.5 1443,176 1446,174.6 1449,179.1 1452,180.6 1455,181.1 1458,177.8 1461,179 1464,183.4 1467,186.2 1470,184.2 1473,190.4 1476,186.7 1479,187.1 1482,187.7 1485,188.7 1488,191.2 1491,196.6 1494,201.4 1497,210 1500,213.5 1503,213.8 1506,218.8 1509,226.3 1512,230.3 1515,234.3 1518,239.4 1521,246.6 1524,250.3 1527,257.2 1530,261.2 1533,270 1536,278.8 1539,289.5 1542,293.7 1545,297.6 1548,300 1551,301.8 1554,302.2 1557,307.3 1560,319 1563,326 1566,327.3 1569,329.9 1572,332.4 1575,335 1578,338.6 1581,343.3 1584,360.3 1587,377 1590,388.9 1593,405.4 1596,412.5 1599,411.4 1602,412.6 1605,414.5 1608,415.6 1611,417.4 1614,419.1 1617,418.3 1620,419.1 1623,424.8 1626,428.8 1629,437.9 1632,440.5 1635,446.5 1638,452.2 1641,458.6 1644,465.6 1647,468.3 1650,477.3 1653,483.8 1656,491.3 1659,502 1662,506.6 1665,508.8 1668,519.9 1671,523.7 1674,532.6 1677,534.3 1680,546.1 1683,551 1686,557.6 1689,563 1692,571.8 1695,577 1698,581.1 1701,586.8 1704,594.3 1707,602.4 1710,608.1 1713,615.9 1716,626 1719,634.1 1722,642.4 1725,645.4 1728,651.9 1731,654.1 1734,659.8 1737,660.8 1740,663.9 1743,666.9 1746,675.6 1749,681.1 1752,680.8 1755,684.9 1758,686.7 1761,687.2 1764,684.1 1767,682.3 1770,685.8 1773,684.7 1776,682 1779,684.8 1782,684.5 1785,685.8 1788,688.2 1791,687.4 1794,695.1 1797,698.3 1800,696.3 1803,702.9 1806,704.8 1809,707.9 1812,713.5 1815,715.2 1818,721.1 1821,726 1824,734.1 1827,739.2 1830,742.2 1833,749.7 1836,750.3 1839,749.4 1842,751.2 1845,750.7 1848,751 1851,751 1854,748.3 1857,748.7 1860,749 1863,748.4 1866,745.6 1869,746 1872,750.1 1875,750.3 1878,748.4 1881,748.4 1884,751.4 1887,753.6 1890,747.3 1893,749.4 1896,745.4 1899,744 1902,741.6 1905,735.5 1908,734.5 1911,726.1 1914,723.6 1917,718.7 1920,713.6 1923,706 1926,697.4 1929,699.6 1932,699.6 1935,693.4 1938,698 1941,694.7 1944,691.6 1947,687.3 1950,683 1953,682.6 1956,677.3 1959,664.6 1962,660.3 1965,653.3 1968,649.8 1971,642.2 1974,642.1 1977,638.3 1980,637.2 1980,703.7 1977,708.4 1974,712.3 1971,716.2 1968,718.5 1965,725 1962,727.8 1959,736.4 1956,743.9 1953,750.4 1950,748.7 1947,753.7 1944,754.2 1941,756.6 1938,761.1 1935,763.4 1932,764.9 1929,767.8 1926,772.5 1923,777.6 1920,785.6 1917,793.2 1914,799.3 1911,805 1908,803.8 1905,807.1 1902,807.8 1899,810.9 1896,811.7 1893,811.2 1890,813.9 1887,816.3 1884,813.8 1881,817.7 1878,816 1875,817.2 1872,816.2 1869,817.2 1866,815.6 1863,815.1 1860,820.7 1857,819.5 1854,815.6 1851,816 1848,821.2 1845,819.2 1842,818.4 1839,816.3 1836,816 1833,818.2 1830,813 1827,809.1 1824,809.1 1821,802.6 1818,798 1815,794.8 1812,788.1 1809,785.1 1806,778.3 1803,774.2 1800,769.8 1797,765 1794,762.5 1791,763.4 1788,760 1785,757.1 1782,755.6 1779,756.8 1776,756.2 1773,755.4 1770,749.6 1767,751.5 1764,750.7 1761,747.4 1758,749 1755,744.9 1752,742.4 1749,742.3 1746,741.9 1743,737.5 1740,741.1 1737,733.8 1734,725.7 1731,719.3 1728,716.1 1725,705.7 1722,697.9 1719,690 1716,683.2 1713,676.1 1710,670.2 1707,661.6 1704,653.4 1701,645.6 1698,642.7 1695,635.4 1692,634.2 1689,632.2 1686,626.4 1683,621.2 1680,609.3 1677,595.9 1674,588.2 1671,579.5 1668,575.4 1665,570.3 1662,561 1659,553.3 1656,548.2 1653,538.9 1650,536.3 1647,523.7 1644,517 1641,507.9 1638,497.3 1635,492.7 1632,480.3 1629,474 1626,465.7 1623,456.7 1620,443.3 1617,449.6 1614,448.2 1611,452.5 1608,454.3 1605,453.5 1602,449.9 1599,442.5 1596,444.1 1593,439 1590,427.1 1587,421 1584,417.7 1581,408.9 1578,399 1575,389.3 1572,381.6 1569,371.8 1566,370.1 1563,365.8 1560,364.4 1557,368.5 1554,364.6 1551,360.8 1548,355.5 1545,345.5 1542,345.2 1539,334 1536,331.3 1533,330.8 1530,324.3 1527,318 1524,317.8 1521,315.5 1518,316.6 1515,314.5 1512,307.2 1509,300 1506,287.3 1503,283.4 1500,274.3 1497,266.4 1494,264.4 1491,259.9 1488,254.1 1485,255.2 1482,256.1 1479,252.9 1476,255.8 1473,252.5 1470,254.3 1467,255.5 1464,253.5 1461,256.4 1458,255.7 1455,254 1452,252.2 1449,250.9 1446,249.2 1443,245.9 1440,244.8 1437,241.7 1434,241 1431,237.7 1428,234.6 1425,227.6 1422,219.5 1419,219.3 1416,218 1413,216.2 1410,218.4 1407,217.1 1404,221.4 1401,220.4 1398,226.4 1395,229.4 1392,230.1 1389,229.2 1386,226.7 1383,229.2 1380,226.5 1377,232.9 1374,231.9 1371,237 1368,236.8 1365,237.1 1362,239.7 1359,240.6 1356,244.6 1353,245.8 1350,252.1 1347,257.2 1344,260.2 1341,265.8 1338,264.3 1335,271.6 1332,272.6 1329,275 1326,276.6 1323,278.5 1320,278.2 1317,274.7 1314,277.3 1311,279.9 1308,278.3 1305,280.8 1302,286.3 1299,285.4 1296,286.5 1293,289 1290,290.5 1287,291.9 1284,299.3 1281,302.9 1278,310.9 1275,312.4 1272,316.1 1269,321.1 1266,321.7 1263,325.5 1260,324.3 1257,333 1254,339.6 1251,350.4 1248,357 1245,361.1 1242,365.5 1239,371.3 1236,376.7 1233,379.5 1230,387.8 1227,395.8 1224,408.8 1221,418.3 1218,422.4 1215,425.7 1212,430.1 1209,432.9 1206,438.4 1203,446.9 1200,460.3 1197,467 1194,475.7 1191,481.8 1188,489.3 1185,494.7 1182,502.6 1179,504.3 1176,510 1173,513.1 1170,517.7 1167,518.5 1164,527.3 1161,527.1 1158,529.2 1155,533 1152,536.1 1149,536.5 1146,539 1143,548.5 1140,554.7 1137,564.7 1134,567.7 1131,575 1128,584.5 1125,591.5 1122,599.8 1119,609.1 1116,612 1113,623.5 1110,624.8 1107,633.1 1104,636.5 1101,637.7 1098,636.9 1095,632.8 1092,635.9 1089,642.1 1086,653.7 1083,657.6 1080,666.7 1077,669.3 1074,679.5 1071,687.1 1068,694.5 1065,695.7 1062,700 1059,703 1056,707.6 1053,709.7 1050,716.1 1047,725.2 1044,733 1041,734.3 1038,739.6 1035,745.7 1032,746.5 1029,748.8 1026,749.9 1023,754.9 1020,756.4 1017,761.8 1014,765.2 1011,765 1008,769.2 1005,777.6 1002,781.2 999,779.8 996,788.1 993,787 990,791.6 987,795.8 984,795.2 981,797.3 978,798.5 975,803.3 972,803.9 969,802.9 966,806.9 963,810.9 960,811.6 957,810.2 954,812.9 951,809.3 948,811.6 945,808.7 942,808 939,804 936,800.3 933,800 930,797.8 927,791.6 924,789.3 921,787.9 918,780.5 915,777.8 912,774.8 909,772.1 906,772.7 903,769 900,763.3 897,761.7 894,757.5 891,747.5 888,740.7 885,732.3 882,723.4 879,717 876,722.4 873,731.4 870,731.8 867,739 864,735.3 861,732.5 858,733.8 855,728.5 852,725.4 849,723.5 846,722.2 843,717.8 840,712.2 837,707.9 834,700.7 831,695.3 828,691.5 825,684.3 822,681.9 819,674.1 816,667.5 813,662.8 810,651.8 807,642.6 804,631.1 801,618.9 798,614 795,614.7 792,607.4 789,606.6 786,606.5 783,596.9 780,594.1 777,588.2 774,580.8 771,574.7 768,566.1 765,563.2 762,554.2 759,548.2 756,539.2 753,533.3 750,526.6 747,519.1 744,512.8 741,501.2 738,498.5 735,489.7 732,486.8 729,481.9 726,473 723,466.2 720,464.5 717,456.8 714,457.6 711,456.5 708,452.4 705,452.6 702,451 699,444.8 696,441 693,431 690,426 687,421.2 684,412.5 681,408.6 678,407.4 675,400.5 672,396.1 669,387.2 666,381.9 663,375.3 660,368.9 657,363.2 654,360.6 651,351.3 648,349.8 645,338.2 642,331.2 639,326.9 636,317.5 633,309.6 630,313.7 627,312.4 624,306.9 621,306.3 618,304.4 615,298.6 612,291.9 609,288.7 606,281.7 603,278.9 600,270.9 597,269.8 594,268.7 591,265.7 588,264.1 585,258.9 582,255 579,256.2 576,252.2 573,247.3 570,246 567,241.8 564,235.8 561,234.9 558,230.2 555,228.7 552,225.2 549,226 546,220.4 543,222 540,219.8 537,214.7 534,212.7 531,208.6 528,208.8 525,202 522,201.9 519,204.8 516,201.9 513,202 510,208.9 507,213.7 504,220.3 501,224.2 498,228.2 495,224.9 492,228 489,225.1 486,227.4 483,234.2 480,231 477,233.6 474,236.8 471,242.4 468,246.1 465,246.1 462,254.6 459,257.9 456,261.5 453,264.9 450,269.8 447,273.1 444,275.9 441,279.3 438,282.3 435,279.5 432,283.7 429,285.3 426,285.6 423,291.9 420,287.4 417,289.2 414,287.6 411,293.8 408,290.1 405,295.6 402,296.6 399,301 396,302.3 393,307.3 390,306.2 387,311.7 384,316.7 381,314.7 378,319.7 375,320.7 372,329.5 369,333 366,334.5 363,337.7 360,349.2 357,365.3 354,367.8 351,370.7 348,368.8 345,367.7 342,372.1" fill="#0000FF"/>
<text x="357" y="177" font-size="86" text-anchor="start">(a)</text>
<text x="272" y="112.8" font-size="75" text-anchor="end">220</text>
<text x="272" y="299.9" font-size="75" text-anchor="end">110</text>
<text x="272" y="493.4" font-size="75" text-anchor="end">0</text>
<text x="272" y="687.9" font-size="75" text-anchor="end">-110</text>
<text x="272" y="874.9" font-size="75" text-anchor="end">-220</text>
<text x="2040" y="112.4" font-size="75" text-anchor="start">50</text>
<text x="2040" y="299.4" font-size="75" text-anchor="start">25</text>
<text x="2040" y="493.4" font-size="75" text-anchor="start">0</text>
<text x="2040" y="687.2" font-size="75" text-anchor="start">-25</text>
<text x="2040" y="874.2" font-size="75" text-anchor="start">-50</text>
<text x="342" y="968.9" font-size="75" text-anchor="middle">0.0045</text>
<text x="888" y="968.9" font-size="75" text-anchor="middle">0.008</text>
<text x="1434" y="968.9" font-size="75" text-anchor="middle">0.0115</text>
<text x="1980" y="968.9" font-size="75" text-anchor="middle">0.015</text>
<text x="1163" y="1063" font-size="76" text-anchor="middle">Time (Seconds)</text>
<text transform="translate(82 467) rotate(-90)" font-size="76" text-anchor="middle">Inverter Voltage (V)</text>
<text transform="translate(2251 454) rotate(-90)" font-size="76" text-anchor="middle">Motor Branch Voltage (V)</text>
<line x1="537.2" y1="1245" x2="537.2" y2="2036" stroke="#DCDCDC" stroke-width="6" stroke-dasharray="31 12 13 12" stroke-dashoffset="-63"/>
<line x1="537.2" y1="1245" x2="537.2" y2="2036" stroke="#BEBEBE" stroke-width="6" stroke-dasharray="19 49" stroke-dashoffset="-69"/>
<line x1="741.5" y1="1245" x2="741.5" y2="2036" stroke="#DCDCDC" stroke-width="6" stroke-dasharray="31 12 13 12" stroke-dashoffset="-63"/>
<line x1="741.5" y1="1245" x2="741.5" y2="2036" stroke="#BEBEBE" stroke-width="6" stroke-dasharray="19 49" stroke-dashoffset="-69"/>
<line x1="945.8" y1="1245" x2="945.8" y2="2036" stroke="#DCDCDC" stroke-width="6" stroke-dasharray="31 12 13 12" stroke-dashoffset="-63"/>
<line x1="945.8" y1="1245" x2="945.8" y2="2036" stroke="#BEBEBE" stroke-width="6" stroke-dasharray="19 49" stroke-dashoffset="-69"/>
<line x1="1150" y1="1245" x2="1150" y2="2036" stroke="#DCDCDC" stroke-width="6" stroke-dasharray="31 12 13 12" stroke-dashoffset="-63"/>
<line x1="1150" y1="1245" x2="1150" y2="2036" stroke="#BEBEBE" stroke-width="6" stroke-dasharray="19 49" stroke-dashoffset="-69"/>
<line x1="1354.2" y1="1245" x2="1354.2" y2="2036" stroke="#DCDCDC" stroke-width="6" stroke-dasharray="31 12 13 12" stroke-dashoffset="-63"/>
<line x1="1354.2" y1="1245" x2="1354.2" y2="2036" stroke="#BEBEBE" stroke-width="6" stroke-dasharray="19 49" stroke-dashoffset="-69"/>
<line x1="1558.5" y1="1245" x2="1558.5" y2="2036" stroke="#DCDCDC" stroke-width="6" stroke-dasharray="31 12 13 12" stroke-dashoffset="-63"/>
<line x1="1558.5" y1="1245" x2="1558.5" y2="2036" stroke="#BEBEBE" stroke-width="6" stroke-dasharray="19 49" stroke-dashoffset="-69"/>
<line x1="1762.8" y1="1245" x2="1762.8" y2="2036" stroke="#DCDCDC" stroke-width="6" stroke-dasharray="31 12 13 12" stroke-dashoffset="-63"/>
<line x1="1762.8" y1="1245" x2="1762.8" y2="2036" stroke="#BEBEBE" stroke-width="6" stroke-dasharray="19 49" stroke-dashoffset="-69"/>
<line x1="335" y1="1334.5" x2="1961" y2="1334.5" stroke="#DCDCDC" stroke-width="6" stroke-dasharray="31 12 13 12" stroke-dashoffset="-66"/>
<line x1="335" y1="1334.5" x2="1961" y2="1334.5" stroke="#BEBEBE" stroke-width="6" stroke-dasharray="19 49" stroke-dashoffset="-72"/>
<line x1="335" y1="1510.7" x2="1961" y2="1510.7" stroke="#DCDCDC" stroke-width="6" stroke-dasharray="31 12 13 12" stroke-dashoffset="-66"/>
<line x1="335" y1="1510.7" x2="1961" y2="1510.7" stroke="#BEBEBE" stroke-width="6" stroke-dasharray="19 49" stroke-dashoffset="-72"/>
<line x1="335" y1="1685.3" x2="1961" y2="1685.3" stroke="#DCDCDC" stroke-width="6" stroke-dasharray="31 12 13 12" stroke-dashoffset="-66"/>
<line x1="335" y1="1685.3" x2="1961" y2="1685.3" stroke="#BEBEBE" stroke-width="6" stroke-dasharray="19 49" stroke-dashoffset="-72"/>
<line x1="335" y1="1860.6" x2="1961" y2="1860.6" stroke="#DCDCDC" stroke-width="6" stroke-dasharray="31 12 13 12" stroke-dashoffset="-66"/>
<line x1="335" y1="1860.6" x2="1961" y2="1860.6" stroke="#BEBEBE" stroke-width="6" stroke-dasharray="19 49" stroke-dashoffset="-72"/>
<rect x="323" y="1239" width="1650" height="6" fill="#000"/>
<rect x="323" y="1245" width="12" height="800" fill="#000"/>
<rect x="1961" y="1239" width="12" height="806" fill="#000"/>
<rect x="323" y="2036" width="1650" height="9" fill="#000"/>
<rect x="335" y="1328.5" width="20" height="12" fill="#000"/>
<rect x="335" y="1504.7" width="20" height="12" fill="#000"/>
<rect x="335" y="1679.3" width="20" height="12" fill="#000"/>
<rect x="335" y="1854.6" width="20" height="12" fill="#000"/>
<rect x="1941" y="1438" width="20" height="12" fill="#000"/>
<rect x="1941" y="1638" width="20" height="12" fill="#000"/>
<rect x="1941" y="1835" width="20" height="12" fill="#000"/>
<polygon points="329,2041 329,2031 332,2031 332,2027 335,2027 335,1983 338,1983 338,1983 341,1983 341,1983 344,1983 344,1983 347,1983 347,2026 350,2026 350,2030 353,2030 353,2024 356,2024 356,2028 359,2028 359,2025 362,2025 362,2033 365,2033 365,2027 368,2027 368,2032 371,2032 371,2027 374,2027 374,2032 377,2032 377,2024 380,2024 380,2024 383,2024 383,2026 386,2026 386,2029 389,2029 389,2025 392,2025 392,2030 395,2030 395,2029 398,2029 398,2024 401,2024 401,2027 404,2027 404,2028 407,2028 407,2033 410,2033 410,2027 413,2027 413,2027 416,2027 416,2026 419,2026 419,2028 422,2028 422,2031 425,2031 425,2027 428,2027 428,2028 431,2028 431,2030 434,2030 434,2025 437,2025 437,2029 440,2029 440,2027 443,2027 443,2029 446,2029 446,2033 449,2033 449,2026 452,2026 452,2027 455,2027 455,2028 458,2028 458,2025 461,2025 461,2027 464,2027 464,2024 467,2024 467,2026 470,2026 470,2029 473,2029 473,2028 476,2028 476,2030 479,2030 479,2033 482,2033 482,2028 485,2028 485,2033 488,2033 488,2032 491,2032 491,2027 494,2027 494,2029 497,2029 497,2030 500,2030 500,2031 503,2031 503,2027 506,2027 506,2029 509,2029 509,2032 512,2032 512,2029 515,2029 515,2033 518,2033 518,2028 521,2028 521,2030 524,2030 524,2025 527,2025 527,2026 530,2026 530,2031 533,2031 533,2024 536,2024 536,2032 539,2032 539,2028 542,2028 542,2031 545,2031 545,2032 548,2032 548,2028 551,2028 551,2026 554,2026 554,2024 557,2024 557,2025 560,2025 560,2025 563,2025 563,2024 566,2024 566,2029 569,2029 569,2030 572,2030 572,2030 575,2030 575,2030 578,2030 578,2024 581,2024 581,2028 584,2028 584,2033 587,2033 587,2029 590,2029 590,2031 593,2031 593,2026 596,2026 596,2031 599,2031 599,2031 602,2031 602,2033 605,2033 605,2024 608,2024 608,2030 611,2030 611,2031 614,2031 614,2028 617,2028 617,2025 620,2025 620,2026 623,2026 623,2027 626,2027 626,2030 629,2030 629,2032 632,2032 632,2030 635,2030 635,2028 638,2028 638,2033 641,2033 641,2027 644,2027 644,2033 647,2033 647,2029 650,2029 650,2028 653,2028 653,2032 656,2032 656,2032 659,2032 659,2025 662,2025 662,2033 665,2033 665,2025 668,2025 668,2028 671,2028 671,2029 674,2029 674,2030 677,2030 677,2032 680,2032 680,2021.5 683,2021.5 683,2020.6 686,2020.6 686,2019.7 689,2019.7 689,2018.8 692,2018.8 692,2017.6 695,2017.6 695,2015 698,2015 698,2012.5 701,2012.5 701,2010 704,2010 704,2007.4 707,2007.4 707,2003.1 710,2003.1 710,1998.4 713,1998.4 713,1981.5 716,1981.5 716,1941.9 719,1941.9 719,1896.6 722,1896.6 722,1495 725,1495 725,1495 728,1495 728,1495 731,1495 731,1495 734,1495 734,1495 737,1495 737,1495 740,1495 740,1495 743,1495 743,1632 746,1632 746,1632 749,1632 749,1859.8 752,1859.8 752,1915.3 755,1915.3 755,1945.9 758,1945.9 758,1964.6 761,1964.6 761,1980.9 764,1980.9 764,1992.9 767,1992.9 767,2000.6 770,2000.6 770,2007.5 773,2007.5 773,2010.5 776,2010.5 776,2013.5 779,2013.5 779,2016.1 782,2016.1 782,2016.7 785,2016.7 785,2017.3 788,2017.3 788,2017.9 791,2017.9 791,2018.5 794,2018.5 794,2019.1 797,2019.1 797,2019.7 800,2019.7 800,2020 803,2020 803,2033 806,2033 806,2030 809,2030 809,2032 812,2032 812,2027 815,2027 815,2027 818,2027 818,2026 821,2026 821,2031 824,2031 824,2031 827,2031 827,2031 830,2031 830,2031 833,2031 833,2029 836,2029 836,2031 839,2031 839,2025 842,2025 842,2025 845,2025 845,2031 848,2031 848,2033 851,2033 851,2024 854,2024 854,2030 857,2030 857,2030 860,2030 860,2028 863,2028 863,2027 866,2027 866,2033 869,2033 869,2033 872,2033 872,2025 875,2025 875,2033 878,2033 878,2027 881,2027 881,2025 884,2025 884,2025 887,2025 887,2028 890,2028 890,2027 893,2027 893,2032 896,2032 896,2031 899,2031 899,2032 902,2032 902,2025 905,2025 905,2028 908,2028 908,2031 911,2031 911,2024 914,2024 914,2029 917,2029 917,1990 920,1990 920,1990 923,1990 923,1907 926,1907 926,1907 929,1907 929,1907 932,1907 932,1907 935,1907 935,1907 938,1907 938,1907 941,1907 941,1907 944,1907 944,1932 947,1932 947,1932 950,1932 950,1917 953,1917 953,1917 956,1917 956,1917 959,1917 959,1917 962,1917 962,1917 965,1917 965,1917 968,1917 968,1995 971,1995 971,1995 974,1995 974,2030 977,2030 977,2031 980,2031 980,2028 983,2028 983,2025 986,2025 986,2025 989,2025 989,2027 992,2027 992,2025 995,2025 995,2030 998,2030 998,2031 1001,2031 1001,2033 1004,2033 1004,2031 1007,2031 1007,2033 1010,2033 1010,2033 1013,2033 1013,2033 1016,2033 1016,2026 1019,2026 1019,2029 1022,2029 1022,2027 1025,2027 1025,2032 1028,2032 1028,2027 1031,2027 1031,2025 1034,2025 1034,2029 1037,2029 1037,2027 1040,2027 1040,2024 1043,2024 1043,2033 1046,2033 1046,2031 1049,2031 1049,2031 1052,2031 1052,2031 1055,2031 1055,2029 1058,2029 1058,2024 1061,2024 1061,2029 1064,2029 1064,2031 1067,2031 1067,2031 1070,2031 1070,2027 1073,2027 1073,2031 1076,2031 1076,2028 1079,2028 1079,2027 1082,2027 1082,2026 1085,2026 1085,2030 1088,2030 1088,2030 1091,2030 1091,2033 1094,2033 1094,2029 1097,2029 1097,2033 1100,2033 1100,2024 1103,2024 1103,2026 1106,2026 1106,2025 1109,2025 1109,2029 1112,2029 1112,2031 1115,2031 1115,2028 1118,2028 1118,2025 1121,2025 1121,2027 1124,2027 1124,2028 1127,2028 1127,1990 1130,1990 1130,1990 1133,1990 1133,1952 1136,1952 1136,1952 1139,1952 1139,1952 1142,1952 1142,1861 1145,1861 1145,1861 1148,1861 1148,1861 1151,1861 1151,1861 1154,1861 1154,1861 1157,1861 1157,1861 1160,1861 1160,1940 1163,1940 1163,1940 1166,1940 1166,1940 1169,1940 1169,1968 1172,1968 1172,2008 1175,2008 1175,2008 1178,2008 1178,2008 1181,2008 1181,2033 1184,2033 1184,2027 1187,2027 1187,2030 1190,2030 1190,2026 1193,2026 1193,2026 1196,2026 1196,2032 1199,2032 1199,2033 1202,2033 1202,2033 1205,2033 1205,2032 1208,2032 1208,2025 1211,2025 1211,2032 1214,2032 1214,2030 1217,2030 1217,2028 1220,2028 1220,2024 1223,2024 1223,2024 1226,2024 1226,2027 1229,2027 1229,2027 1232,2027 1232,2026 1235,2026 1235,2030 1238,2030 1238,2030 1241,2030 1241,2027 1244,2027 1244,2026 1247,2026 1247,2030 1250,2030 1250,2030 1253,2030 1253,2030 1256,2030 1256,2033 1259,2033 1259,2027 1262,2027 1262,2026 1265,2026 1265,2031 1268,2031 1268,2025 1271,2025 1271,2025 1274,2025 1274,2032 1277,2032 1277,2033 1280,2033 1280,2024 1283,2024 1283,2028 1286,2028 1286,2031 1289,2031 1289,2033 1292,2033 1292,2032 1295,2032 1295,2026 1298,2026 1298,2025 1301,2025 1301,2018 1304,2018 1304,2018 1307,2018 1307,2018 1310,2018 1310,2018 1313,2018 1313,2018 1316,2018 1316,2004 1319,2004 1319,2004 1322,2004 1322,2004 1325,2004 1325,2004 1328,2004 1328,2004 1331,2004 1331,1930 1334,1930 1334,1930 1337,1930 1337,1930 1340,1930 1340,1930 1343,1930 1343,1930 1346,1930 1346,1930 1349,1930 1349,1930 1352,1930 1352,1927 1355,1927 1355,1927 1358,1927 1358,1927 1361,1927 1361,1927 1364,1927 1364,1927 1367,1927 1367,1927 1370,1927 1370,2004 1373,2004 1373,2004 1376,2004 1376,2004 1379,2004 1379,2004 1382,2004 1382,2004 1385,2004 1385,2004 1388,2004 1388,2004 1391,2004 1391,2018 1394,2018 1394,2018 1397,2018 1397,2018 1400,2018 1400,2029 1403,2029 1403,2031 1406,2031 1406,2025 1409,2025 1409,2028 1412,2028 1412,2029 1415,2029 1415,2031 1418,2031 1418,2024 1421,2024 1421,2027 1424,2027 1424,2025 1427,2025 1427,2033 1430,2033 1430,2027 1433,2027 1433,2031 1436,2031 1436,2031 1439,2031 1439,2024 1442,2024 1442,2032 1445,2032 1445,2027 1448,2027 1448,2025 1451,2025 1451,2031 1454,2031 1454,2029 1457,2029 1457,2029 1460,2029 1460,2032 1463,2032 1463,2024 1466,2024 1466,2029 1469,2029 1469,2027 1472,2027 1472,2031 1475,2031 1475,2025 1478,2025 1478,2032 1481,2032 1481,2025 1484,2025 1484,2027 1487,2027 1487,2032 1490,2032 1490,2030 1493,2030 1493,2033 1496,2033 1496,2029 1499,2029 1499,2030 1502,2030 1502,2026 1505,2026 1505,2031 1508,2031 1508,2031 1511,2031 1511,2030 1514,2030 1514,2032 1517,2032 1517,2024 1520,2024 1520,2012 1523,2012 1523,2012 1526,2012 1526,1957 1529,1957 1529,1957 1532,1957 1532,1957 1535,1957 1535,1957 1538,1957 1538,1957 1541,1957 1541,1964 1544,1964 1544,1964 1547,1964 1547,1964 1550,1964 1550,1964 1553,1964 1553,1964 1556,1964 1556,1945 1559,1945 1559,1945 1562,1945 1562,1945 1565,1945 1565,1945 1568,1945 1568,1945 1571,1945 1571,1945 1574,1945 1574,1945 1577,1945 1577,1945 1580,1945 1580,2008 1583,2008 1583,2008 1586,2008 1586,2008 1589,2008 1589,2008 1592,2008 1592,2025 1595,2025 1595,2033 1598,2033 1598,2029 1601,2029 1601,2024 1604,2024 1604,2024 1607,2024 1607,2028 1610,2028 1610,2030 1613,2030 1613,2024 1616,2024 1616,2024 1619,2024 1619,2031 1622,2031 1622,2029 1625,2029 1625,2032 1628,2032 1628,2026 1631,2026 1631,2033 1634,2033 1634,2024 1637,2024 1637,2030 1640,2030 1640,2028 1643,2028 1643,2026 1646,2026 1646,2027 1649,2027 1649,2031 1652,2031 1652,2024 1655,2024 1655,2027 1658,2027 1658,2031 1661,2031 1661,2026 1664,2026 1664,2026 1667,2026 1667,2033 1670,2033 1670,2030 1673,2030 1673,2026 1676,2026 1676,2028 1679,2028 1679,2027 1682,2027 1682,2031 1685,2031 1685,2024 1688,2024 1688,2027 1691,2027 1691,2027 1694,2027 1694,2025 1697,2025 1697,2032 1700,2032 1700,2027 1703,2027 1703,2027 1706,2027 1706,2030 1709,2030 1709,2027 1712,2027 1712,2001 1715,2001 1715,2001 1718,2001 1718,2001 1721,2001 1721,2001 1724,2001 1724,2001 1727,2001 1727,2001 1730,2001 1730,2001 1733,2001 1733,2001 1736,2001 1736,2001 1739,2001 1739,2001 1742,2001 1742,2001 1745,2001 1745,2001 1748,2001 1748,2029 1751,2029 1751,2031 1754,2031 1754,2024 1757,2024 1757,2029 1760,2029 1760,2029 1763,2029 1763,2031 1766,2031 1766,2029 1769,2029 1769,2001 1772,2001 1772,2001 1775,2001 1775,2001 1778,2001 1778,2001 1781,2001 1781,2001 1784,2001 1784,2001 1787,2001 1787,2001 1790,2001 1790,2001 1793,2001 1793,2001 1796,2001 1796,2001 1799,2001 1799,2001 1802,2001 1802,2001 1805,2001 1805,2025 1808,2025 1808,2027 1811,2027 1811,2030 1814,2030 1814,2026 1817,2026 1817,2024 1820,2024 1820,2029 1823,2029 1823,2024 1826,2024 1826,2024 1829,2024 1829,2032 1832,2032 1832,2032 1835,2032 1835,2033 1838,2033 1838,2033 1841,2033 1841,2029 1844,2029 1844,2024 1847,2024 1847,2031 1850,2031 1850,2027 1853,2027 1853,2025 1856,2025 1856,2024 1859,2024 1859,2032 1862,2032 1862,2025 1865,2025 1865,2025 1868,2025 1868,2031 1871,2031 1871,2031 1874,2031 1874,2030 1877,2030 1877,2026 1880,2026 1880,2026 1883,2026 1883,2024 1886,2024 1886,2024 1889,2024 1889,2032 1892,2032 1892,2030 1895,2030 1895,2029 1898,2029 1898,2028 1901,2028 1901,2024 1904,2024 1904,2031 1907,2031 1907,2033 1910,2033 1910,2031 1913,2031 1913,2012 1916,2012 1916,2012 1919,2012 1919,2012 1922,2012 1922,2012 1925,2012 1925,2012 1928,2012 1928,2012 1931,2012 1931,1994 1934,1994 1934,1994 1937,1994 1937,1994 1940,1994 1940,1994 1943,1994 1943,1994 1946,1994 1946,1994 1949,1994 1949,1901 1952,1901 1952,1901 1955,1901 1955,1901 1958,1901 1958,1901 1961,1901 1961,1901 1964,1901 1964,1901 1967,1901 1967,1901 1970,1901 1967,2041" fill="#FFC000"/>
<polygon points="329,2041 329,1242 332,1242 332,1242 335,1242 335,1242 338,1242 338,1242 341,1242 341,1242 344,1242 344,1242 347,1242 347,1242 350,1242 350,1602 353,1602 353,1602 356,1602 356,1795 359,1795 359,1795 362,1795 362,1896 365,1896 365,1896 368,1896 368,1896 371,1896 371,1896 374,1896 374,1896 377,1896 377,1896 380,1896 380,1926 383,1926 383,1926 386,1926 386,1957 389,1957 389,1957 392,1957 392,1957 395,1957 395,1957 398,1957 398,1976 401,1976 401,1976 404,1976 404,1976 407,1976 407,2004 410,2004 410,2004 413,2004 413,2004 416,2004 416,2004 419,2004 419,2004 422,2004 422,2016 425,2016 425,2012 428,2012 428,2010 431,2010 431,2016 434,2016 434,2016 437,2016 437,2018 440,2018 440,2012 443,2012 443,2012 446,2012 446,2011 449,2011 449,2018 452,2018 452,2014 455,2014 455,2015 458,2015 458,2017 461,2017 461,2015 464,2015 464,2019 467,2019 467,2015 470,2015 470,2011 473,2011 473,2010 476,2010 476,2019 479,2019 479,2011 482,2011 482,2014 485,2014 485,2015 488,2015 488,2012 491,2012 491,2018 494,2018 494,2015 497,2015 497,2009 500,2009 500,2006.2 503,2006.2 503,1994.7 506,1994.7 506,1983.2 509,1983.2 509,1971.7 512,1971.7 512,1958.7 515,1958.7 515,1942.9 518,1942.9 518,1925 521,1925 521,1915 524,1915 524,1915 527,1915 527,1915 530,1915 530,1915 533,1915 533,1915 536,1915 536,1915 539,1915 539,1915 542,1915 542,1915 545,1915 545,1915 548,1915 548,1917.5 551,1917.5 551,1932.5 554,1932.5 554,1945.4 557,1945.4 557,1957.8 560,1957.8 560,1972.2 563,1972.2 563,1988.8 566,1988.8 566,2005.2 569,2005.2 569,2018 572,2018 572,2009 575,2009 575,2014 578,2014 578,2015 581,2015 581,2017 584,2017 584,2010 587,2010 587,2019 590,2019 590,2010 593,2010 593,2009 596,2009 596,2015 599,2015 599,2009 602,2009 602,2016 605,2016 605,2010 608,2010 608,2018 611,2018 611,2016 614,2016 614,2014 617,2014 617,2010 620,2010 620,2019 623,2019 623,2009 626,2009 626,2019 629,2019 629,2016 632,2016 632,2012 635,2012 635,2011 638,2011 638,2010 641,2010 641,2011 644,2011 644,2013 647,2013 647,2016 650,2016 650,2010 653,2010 653,2015 656,2015 656,2013 659,2013 659,2016 662,2016 662,2009 665,2009 665,2012 668,2012 668,2009 671,2009 671,2015 674,2015 674,2018 677,2018 677,2016 680,2016 680,2012 683,2012 683,2009 686,2009 686,2013 689,2013 689,2015 692,2015 692,2009 695,2009 695,2014 698,2014 698,2014.9 701,2014.9 701,2013.3 704,2013.3 704,2011.2 707,2011.2 707,2006 710,2006 710,2001 713,2001 713,1995.8 716,1995.8 716,1985 719,1985 719,1962.5 722,1962.5 722,1897 725,1897 725,1879.1 728,1879.1 728,1861.2 731,1861.2 731,1707 734,1707 734,1707 737,1707 737,1707 740,1707 740,1707 743,1707 743,1782 746,1782 746,1782 749,1782 749,1848.9 752,1848.9 752,1910 755,1910 755,1950.5 758,1950.5 758,1971.5 761,1971.5 761,1981.2 764,1981.2 764,1988.8 767,1988.8 767,1996.2 770,1996.2 770,2001.2 773,2001.2 773,2003.6 776,2003.6 776,2006 779,2006 779,2008.4 782,2008.4 782,2010.8 785,2010.8 785,2012.4 788,2012.4 788,2013.2 791,2013.2 791,2014 794,2014 794,2014.8 797,2014.8 797,2015.6 800,2015.6 800,2013 803,2013 803,2013 806,2013 806,2019 809,2019 809,2021 812,2021 812,2016 815,2016 815,2016 818,2016 818,2019 821,2019 821,2013 824,2013 824,2019 827,2019 827,2015 830,2015 830,2020 833,2020 833,2014 836,2014 836,2013 839,2013 839,2014 842,2014 842,2019 845,2019 845,2020 848,2020 848,2019 851,2019 851,2014 854,2014 854,2014 857,2014 857,2019 860,2019 860,2020 863,2020 863,2022 866,2022 866,2018 869,2018 869,2013 872,2013 872,2015 875,2015 875,2017 878,2017 878,2013 881,2013 881,2022 884,2022 884,2016 887,2016 887,2016 890,2016 890,2018 893,2018 893,2018 896,2018 896,2014 899,2014 899,2016 902,2016 902,2023 905,2023 905,2021 908,2021 908,2016 911,2016 911,2021 914,2021 914,2015 917,2015 917,2017 920,2017 920,2017 923,2017 923,2013 926,2013 926,2019 929,2019 929,1970 932,1970 932,1970 935,1970 935,1970 938,1970 938,1970 941,1970 941,1970 944,1970 944,1970 947,1970 947,1980 950,1980 950,1980 953,1980 953,1980 956,1980 956,1980 959,1980 959,1980 962,1980 962,1980 965,1980 965,2017 968,2017 968,2018 971,2018 971,2014 974,2014 974,2016 977,2016 977,2015 980,2015 980,2017 983,2017 983,2023 986,2023 986,2014 989,2014 989,2022 992,2022 992,2022 995,2022 995,2015 998,2015 998,2013 1001,2013 1001,2018 1004,2018 1004,2019 1007,2019 1007,2018 1010,2018 1010,2020 1013,2020 1013,2013 1016,2013 1016,2018 1019,2018 1019,2023 1022,2023 1022,2018 1025,2018 1025,2014 1028,2014 1028,2013 1031,2013 1031,2013 1034,2013 1034,2016 1037,2016 1037,2023 1040,2023 1040,2016 1043,2016 1043,2019 1046,2019 1046,2022 1049,2022 1049,2023 1052,2023 1052,2018 1055,2018 1055,2013 1058,2013 1058,2014 1061,2014 1061,2016 1064,2016 1064,2015 1067,2015 1067,2020 1070,2020 1070,2023 1073,2023 1073,2017 1076,2017 1076,2014 1079,2014 1079,2023 1082,2023 1082,2018 1085,2018 1085,2014 1088,2014 1088,2022 1091,2022 1091,2021 1094,2021 1094,2017 1097,2017 1097,2018 1100,2018 1100,2020 1103,2020 1103,2014 1106,2014 1106,2022 1109,2022 1109,2016 1112,2016 1112,2019 1115,2019 1115,2015 1118,2015 1118,2022 1121,2022 1121,2021 1124,2021 1124,2018 1127,2018 1127,2016 1130,2016 1130,2015 1133,2015 1133,2020 1136,2020 1136,2023 1139,2023 1139,1983 1142,1983 1142,1983 1145,1983 1145,1983 1148,1983 1148,1983 1151,1983 1151,1983 1154,1983 1154,1983 1157,1983 1157,1983 1160,1983 1160,1983 1163,1983 1163,1983 1166,1983 1166,1983 1169,1983 1169,2014 1172,2014 1172,2021 1175,2021 1175,2016 1178,2016 1178,2014 1181,2014 1181,2022 1184,2022 1184,2018 1187,2018 1187,2015 1190,2015 1190,2023 1193,2023 1193,2017 1196,2017 1196,2017 1199,2017 1199,2013 1202,2013 1202,2014 1205,2014 1205,2021 1208,2021 1208,2014 1211,2014 1211,2016 1214,2016 1214,2015 1217,2015 1217,2017 1220,2017 1220,2013 1223,2013 1223,2013 1226,2013 1226,2017 1229,2017 1229,2013 1232,2013 1232,2013 1235,2013 1235,2014 1238,2014 1238,2020 1241,2020 1241,2016 1244,2016 1244,2016 1247,2016 1247,2015 1250,2015 1250,2014 1253,2014 1253,2016 1256,2016 1256,2014 1259,2014 1259,2015 1262,2015 1262,2022 1265,2022 1265,2023 1268,2023 1268,2020 1271,2020 1271,2015 1274,2015 1274,2013 1277,2013 1277,2019 1280,2019 1280,2023 1283,2023 1283,2018 1286,2018 1286,2023 1289,2023 1289,2020 1292,2020 1292,2014 1295,2014 1295,2022 1298,2022 1298,2015 1301,2015 1301,2021 1304,2021 1304,2015 1307,2015 1307,2016 1310,2016 1310,2015 1313,2015 1313,2017 1316,2017 1316,2015 1319,2015 1319,2016 1322,2016 1322,2023 1325,2023 1325,2021 1328,2021 1328,2016 1331,2016 1331,2015 1334,2015 1334,1995 1337,1995 1337,1995 1340,1995 1340,1995 1343,1995 1343,1995 1346,1995 1346,1995 1349,1995 1349,1995 1352,1995 1352,1995 1355,1995 1355,1995 1358,1995 1358,1995 1361,1995 1361,1995 1364,1995 1364,1995 1367,1995 1367,1995 1370,1995 1370,2020 1373,2020 1373,2017 1376,2017 1376,2013 1379,2013 1379,2019 1382,2019 1382,2016 1385,2016 1385,2018 1388,2018 1388,2020 1391,2020 1391,2020 1394,2020 1394,2023 1397,2023 1397,2020 1400,2020 1400,2024 1403,2024 1403,2018 1406,2018 1406,2026 1409,2026 1409,2018 1412,2018 1412,2021 1415,2021 1415,2018 1418,2018 1418,2022 1421,2022 1421,2020 1424,2020 1424,2018 1427,2018 1427,2017 1430,2017 1430,2024 1433,2024 1433,2022 1436,2022 1436,2018 1439,2018 1439,2020 1442,2020 1442,2023 1445,2023 1445,2018 1448,2018 1448,2017 1451,2017 1451,2026 1454,2026 1454,2018 1457,2018 1457,2017 1460,2017 1460,2026 1463,2026 1463,2024 1466,2024 1466,2021 1469,2021 1469,2019 1472,2019 1472,2019 1475,2019 1475,2024 1478,2024 1478,2018 1481,2018 1481,2026 1484,2026 1484,2026 1487,2026 1487,2019 1490,2019 1490,2023 1493,2023 1493,2024 1496,2024 1496,2027 1499,2027 1499,2022 1502,2022 1502,2025 1505,2025 1505,2025 1508,2025 1508,2022 1511,2022 1511,2018 1514,2018 1514,2026 1517,2026 1517,2017 1520,2017 1520,2022 1523,2022 1523,2023 1526,2023 1526,2022 1529,2022 1529,2023 1532,2023 1532,2020 1535,2020 1535,2017 1538,2017 1538,2008 1541,2008 1541,2008 1544,2008 1544,2008 1547,2008 1547,2008 1550,2008 1550,2015 1553,2015 1553,2015 1556,2015 1556,2015 1559,2015 1559,2015 1562,2015 1562,2015 1565,2015 1565,2015 1568,2015 1568,2015 1571,2015 1571,2015 1574,2015 1574,2015 1577,2015 1577,2015 1580,2015 1580,2015 1583,2015 1583,2015 1586,2015 1586,2018 1589,2018 1589,2021 1592,2021 1592,2018 1595,2018 1595,2021 1598,2021 1598,2026 1601,2026 1601,2022 1604,2022 1604,2024 1607,2024 1607,2024 1610,2024 1610,2022 1613,2022 1613,2025 1616,2025 1616,2024 1619,2024 1619,2021 1622,2021 1622,2023 1625,2023 1625,2026 1628,2026 1628,2024 1631,2024 1631,2026 1634,2026 1634,2021 1637,2021 1637,2027 1640,2027 1640,2019 1643,2019 1643,2023 1646,2023 1646,2024 1649,2024 1649,2023 1652,2023 1652,2025 1655,2025 1655,2018 1658,2018 1658,2019 1661,2019 1661,2018 1664,2018 1664,2017 1667,2017 1667,2027 1670,2027 1670,2018 1673,2018 1673,2022 1676,2022 1676,2023 1679,2023 1679,2025 1682,2025 1682,2021 1685,2021 1685,2024 1688,2024 1688,2026 1691,2026 1691,2027 1694,2027 1694,2017 1697,2017 1697,2020 1700,2020 1700,2020 1703,2020 1703,2024 1706,2024 1706,2018 1709,2018 1709,2025 1712,2025 1712,2023 1715,2023 1715,2017 1718,2017 1718,2021 1721,2021 1721,2024 1724,2024 1724,2026 1727,2026 1727,2018 1730,2018 1730,2019 1733,2019 1733,2021 1736,2021 1736,2023 1739,2023 1739,2018 1742,2018 1742,2024 1745,2024 1745,2017 1748,2017 1748,2024 1751,2024 1751,2019 1754,2019 1754,2018 1757,2018 1757,2022 1760,2022 1760,2027 1763,2027 1763,2025 1766,2025 1766,2021 1769,2021 1769,2022 1772,2022 1772,2022 1775,2022 1775,2026 1778,2026 1778,2025 1781,2025 1781,2019 1784,2019 1784,2027 1787,2027 1787,2018 1790,2018 1790,2020 1793,2020 1793,2025 1796,2025 1796,2026 1799,2026 1799,2020 1802,2020 1802,2019 1805,2019 1805,2019 1808,2019 1808,2017 1811,2017 1811,2018 1814,2018 1814,2018 1817,2018 1817,2017 1820,2017 1820,2021 1823,2021 1823,2024 1826,2024 1826,2021 1829,2021 1829,2018 1832,2018 1832,2022 1835,2022 1835,2025 1838,2025 1838,2018 1841,2018 1841,2022 1844,2022 1844,2017 1847,2017 1847,2017 1850,2017 1850,2017 1853,2017 1853,2022 1856,2022 1856,2022 1859,2022 1859,2020 1862,2020 1862,2025 1865,2025 1865,2023 1868,2023 1868,2027 1871,2027 1871,2027 1874,2027 1874,2027 1877,2027 1877,2023 1880,2023 1880,2001.7 1883,2001.7 1883,1983.5 1886,1983.5 1886,1951 1889,1951 1889,1951 1892,1951 1892,1951 1895,1951 1895,1951 1898,1951 1898,1983.5 1901,1983.5 1901,2001.7 1904,2001.7 1904,2015.7 1907,2015.7 1907,2020 1910,2020 1910,2025 1913,2025 1913,2023 1916,2023 1916,2017 1919,2017 1919,2020 1922,2020 1922,2021 1925,2021 1925,2026 1928,2026 1928,2021 1931,2021 1931,2026 1934,2026 1934,2020 1937,2020 1937,2023 1940,2023 1940,2020 1943,2020 1943,2023 1946,2023 1946,2017 1949,2017 1949,2019 1952,2019 1952,2023 1955,2023 1955,2000 1958,2000 1958,2000 1961,2000 1961,2000 1964,2000 1964,2000 1967,2000 1967,2000 1970,2000 1967,2041" fill="#C00000"/>
<rect x="336" y="1986" width="11" height="55" fill="#FFC000"/>
<rect x="911" y="1276" width="1018" height="309" fill="#000"/>
<rect x="917" y="1282" width="1006" height="297" fill="#fff"/>
<rect x="966" y="1351" width="195" height="12" fill="#FFC000"/>
<rect x="966" y="1500" width="195" height="12" fill="#C00000"/>
<text x="1175" y="1382" font-size="76" text-anchor="start">Inverter Voltage</text>
<text x="1175" y="1533" font-size="76" text-anchor="start">Motor Branch Voltage</text>
<text x="411.5" y="1339" font-size="86" text-anchor="start">(b)</text>
<text x="268" y="1356" font-size="75" text-anchor="end">80</text>
<text x="268" y="1530.6" font-size="75" text-anchor="end">60</text>
<text x="268" y="1711.8" font-size="75" text-anchor="end">40</text>
<text x="268" y="1886.4" font-size="75" text-anchor="end">20</text>
<text x="268" y="2061.3" font-size="75" text-anchor="end">0</text>
<text x="2030" y="1268.4" font-size="75" text-anchor="start">3.2</text>
<text x="2030" y="1468.4" font-size="75" text-anchor="start">2.4</text>
<text x="2030" y="1668.5" font-size="75" text-anchor="start">1.6</text>
<text x="2030" y="1865.8" font-size="75" text-anchor="start">0.8</text>
<text x="2030" y="2062.8" font-size="75" text-anchor="start">0</text>
<text x="333" y="2149.3" font-size="75" text-anchor="middle">0</text>
<text x="537.2" y="2149.3" font-size="75" text-anchor="middle">10</text>
<text x="741.5" y="2149.3" font-size="75" text-anchor="middle">20</text>
<text x="945.8" y="2149.3" font-size="75" text-anchor="middle">30</text>
<text x="1150" y="2149.3" font-size="75" text-anchor="middle">40</text>
<text x="1354.2" y="2149.3" font-size="75" text-anchor="middle">50</text>
<text x="1558.5" y="2149.3" font-size="75" text-anchor="middle">60</text>
<text x="1762.8" y="2149.3" font-size="75" text-anchor="middle">70</text>
<text x="1967" y="2149.3" font-size="75" text-anchor="middle">80</text>
<text x="1196" y="2265" font-size="76" text-anchor="middle">Frequency (kHz)</text>
<text transform="translate(102 1654) rotate(-90)" font-size="76" text-anchor="middle">Inverter Voltage (V)</text>
<text transform="translate(2242 1642) rotate(-90)" font-size="76" text-anchor="middle">Motor Branch Voltage (V)</text>
<line x1="750.5" y1="2470" x2="750.5" y2="3232" stroke="#E9E9E9" stroke-width="6" stroke-dasharray="31 12 13 12" stroke-dashoffset="-0"/>
<line x1="750.5" y1="2470" x2="750.5" y2="3232" stroke="#D8D8D8" stroke-width="6" stroke-dasharray="19 49" stroke-dashoffset="-6"/>
<line x1="1193" y1="2470" x2="1193" y2="3232" stroke="#E9E9E9" stroke-width="6" stroke-dasharray="31 12 13 12" stroke-dashoffset="-0"/>
<line x1="1193" y1="2470" x2="1193" y2="3232" stroke="#D8D8D8" stroke-width="6" stroke-dasharray="19 49" stroke-dashoffset="-6"/>
<line x1="1635" y1="2470" x2="1635" y2="3232" stroke="#E9E9E9" stroke-width="6" stroke-dasharray="31 12 13 12" stroke-dashoffset="-0"/>
<line x1="1635" y1="2470" x2="1635" y2="3232" stroke="#D8D8D8" stroke-width="6" stroke-dasharray="19 49" stroke-dashoffset="-6"/>
<line x1="2076.5" y1="2470" x2="2076.5" y2="3232" stroke="#E9E9E9" stroke-width="6" stroke-dasharray="31 12 13 12" stroke-dashoffset="-0"/>
<line x1="2076.5" y1="2470" x2="2076.5" y2="3232" stroke="#D8D8D8" stroke-width="6" stroke-dasharray="19 49" stroke-dashoffset="-6"/>
<line x1="311" y1="2660.7" x2="2161" y2="2660.7" stroke="#E9E9E9" stroke-width="6" stroke-dasharray="31 12 13 12" stroke-dashoffset="-67"/>
<line x1="311" y1="2660.7" x2="2161" y2="2660.7" stroke="#D8D8D8" stroke-width="6" stroke-dasharray="19 49" stroke-dashoffset="-73"/>
<line x1="311" y1="2854.4" x2="2161" y2="2854.4" stroke="#E9E9E9" stroke-width="6" stroke-dasharray="31 12 13 12" stroke-dashoffset="-67"/>
<line x1="311" y1="2854.4" x2="2161" y2="2854.4" stroke="#D8D8D8" stroke-width="6" stroke-dasharray="19 49" stroke-dashoffset="-73"/>
<line x1="311" y1="3048.1" x2="2161" y2="3048.1" stroke="#E9E9E9" stroke-width="6" stroke-dasharray="31 12 13 12" stroke-dashoffset="-67"/>
<line x1="311" y1="3048.1" x2="2161" y2="3048.1" stroke="#D8D8D8" stroke-width="6" stroke-dasharray="19 49" stroke-dashoffset="-73"/>
<rect x="298" y="2463" width="1869" height="7" fill="#000"/>
<rect x="298" y="2463" width="13" height="775" fill="#000"/>
<rect x="2161" y="2463" width="6" height="775" fill="#000"/>
<rect x="298" y="3232" width="1869" height="6" fill="#000"/>
<rect x="305" y="2457" width="25" height="13" fill="#000"/>
<rect x="305" y="3232" width="25" height="12" fill="#000"/>
<rect x="311" y="2657.7" width="19" height="12" fill="#000"/>
<rect x="311" y="2851.4" width="19" height="12" fill="#000"/>
<rect x="311" y="3045.1" width="19" height="12" fill="#000"/>
<polygon points="305,2806 308,2799.1 311,2791 314,2788.8 317,2780.7 320,2776 323,2767.5 326,2762.8 329,2758.8 332,2750.9 335,2746.6 338,2741.9 341,2735.6 344,2728.3 347,2724.5 350,2714.2 353,2708.2 356,2707.2 359,2698.5 362,2693.5 365,2688.1 368,2684.6 371,2673.9 374,2672.3 377,2663.2 380,2661 383,2657 386,2651.5 389,2646.4 392,2638.1 395,2632.9 398,2628.1 401,2626.5 404,2621.6 407,2615.4 410,2609.7 413,2605.2 416,2599.9 419,2596 422,2593.1 425,2587.8 428,2583.2 431,2582.6 434,2573.9 437,2572.6 440,2568.2 443,2564.2 446,2560.4 449,2560.5 452,2557.2 455,2552.4 458,2550.2 461,2543.3 464,2541.9 467,2540.6 470,2536.4 473,2534.8 476,2528.8 479,2528.3 482,2523.1 485,2521.6 488,2520.7 491,2517.9 494,2513.2 497,2512.9 500,2512.8 503,2511.2 506,2506.8 509,2506.5 512,2504.7 515,2506.5 518,2503.5 521,2504.9 524,2500.7 527,2502.8 530,2498.2 533,2500.5 536,2500.2 539,2499.1 542,2497.1 545,2496.4 548,2497.5 551,2495.1 554,2495.2 557,2497.6 560,2496.7 563,2493.7 566,2496.7 569,2495.2 572,2496.6 575,2497.4 578,2496.8 581,2502.7 584,2500.6 587,2499.6 590,2502.9 593,2507.3 596,2503.2 599,2505.9 602,2509.6 605,2512.5 608,2515.2 611,2511.7 614,2514.2 617,2520.6 620,2522.6 623,2521.6 626,2527.4 629,2527.3 632,2531.1 635,2532.6 638,2535 641,2539.9 644,2542.9 647,2546.7 650,2545.2 653,2551.6 656,2557.2 659,2558.1 662,2560.7 665,2562.9 668,2570.1 671,2571.1 674,2575.7 677,2578.2 680,2585.8 683,2590.8 686,2596.2 689,2597.2 692,2601.4 695,2607.1 698,2608.6 701,2617.2 704,2618.5 707,2622.6 710,2630.3 713,2637.6 716,2639.4 719,2644 722,2647.4 725,2653 728,2660.8 731,2664.7 734,2672.9 737,2675.6 740,2680.3 743,2687.4 746,2694 749,2701.5 752,2704.7 755,2711.1 758,2713.4 761,2723.4 764,2730.3 767,2734.5 770,2739.4 773,2746.5 776,2749.7 779,2758.1 782,2764.9 785,2770.9 788,2773.2 791,2783.5 794,2786.6 797,2793.4 800,2800.8 803,2803.7 806,2810.8 809,2816 812,2825.2 815,2828.8 818,2836.4 821,2841.3 824,2847.2 827,2855.8 830,2860.5 833,2865.1 836,2875.8 839,2877 842,2886.9 845,2890.1 848,2899.6 851,2900.9 854,2909.5 857,2918.5 860,2922.3 863,2926.9 866,2932.4 869,2940.4 872,2942.6 875,2951.6 878,2958.7 881,2960.7 884,2965.6 887,2972.5 890,2981 893,2986.1 896,2988.9 899,2998.6 902,3002.4 905,3006.5 908,3013.7 911,3014.7 914,3020.1 917,3025.7 920,3033.1 923,3034.8 926,3040.1 929,3046.6 932,3053.1 935,3058.5 938,3060 941,3067.6 944,3068.9 947,3076.5 950,3076.2 953,3079.8 956,3084 959,3088 962,3092.9 965,3095.7 968,3103.1 971,3103.6 974,3107.2 977,3111.6 980,3115.4 983,3117.2 986,3124.5 989,3126.4 992,3128.3 995,3127.9 998,3132.8 1001,3136.4 1004,3139 1007,3141.2 1010,3140 1013,3147.5 1016,3147.4 1019,3146.5 1022,3148.2 1025,3154.9 1028,3154.8 1031,3157.9 1034,3157.6 1037,3158.6 1040,3160.7 1043,3156.9 1046,3163.4 1049,3162.9 1052,3160.9 1055,3162.3 1058,3162.1 1061,3165.8 1064,3163.8 1067,3162.8 1070,3165.3 1073,3163.5 1076,3161.9 1079,3161.8 1082,3160.6 1085,3162.1 1088,3158.7 1091,3156.1 1094,3158.6 1097,3155.8 1100,3155.4 1103,3154.5 1106,3148.4 1109,3149.9 1112,3150.4 1115,3147 1118,3145.5 1121,3143.1 1124,3139.2 1127,3137.1 1130,3133 1133,3129.8 1136,3129.8 1139,3127.4 1142,3123.9 1145,3120.3 1148,3117.7 1151,3114.4 1154,3107.1 1157,3108.6 1160,3100.8 1163,3099.2 1166,3094.8 1169,3089.5 1172,3087.7 1175,3081.3 1178,3080.6 1181,3074.1 1184,3073.5 1187,3066.8 1190,3063.8 1193,3055.8 1196,3051 1199,3046 1202,3043.3 1205,3039.2 1208,3034 1211,3027.8 1214,3021.6 1217,3019.7 1220,3010.6 1223,3008.3 1226,3002.4 1229,3000.4 1232,2993.8 1235,2986.1 1238,2979.6 1241,2976.8 1244,2969.7 1247,2966.3 1250,2961.1 1253,2952.2 1256,2946.8 1259,2940.7 1262,2937.9 1265,2930.2 1268,2923.1 1271,2915.3 1274,2913.7 1277,2903.8 1280,2898 1283,2896.3 1286,2886.4 1289,2879 1292,2874.9 1295,2869.7 1298,2862 1301,2857.4 1304,2850.6 1307,2843.4 1310,2839.6 1313,2834.1 1316,2827.1 1319,2821.9 1322,2811.8 1325,2808.2 1328,2804.4 1331,2794.1 1334,2787.1 1337,2781.6 1340,2775.8 1343,2772.2 1346,2766.7 1349,2758 1352,2753.4 1355,2749.8 1358,2743.7 1361,2735.2 1364,2728.8 1367,2723.9 1370,2715.3 1373,2714.8 1376,2706.4 1379,2702.5 1382,2693.5 1385,2691.3 1388,2685.2 1391,2677.9 1394,2671.2 1397,2670.1 1400,2663.1 1403,2656 1406,2653 1409,2649.1 1412,2641.1 1415,2636.7 1418,2633.8 1421,2626.4 1424,2621.8 1427,2618.1 1430,2612 1433,2605.2 1436,2606.3 1439,2597.3 1442,2592 1445,2588 1448,2588 1451,2584.3 1454,2575.9 1457,2573.7 1460,2569.2 1463,2566.8 1466,2562.7 1469,2558.6 1472,2555.4 1475,2550.2 1478,2548.5 1481,2547.9 1484,2539.8 1487,2541.8 1490,2534.8 1493,2536.2 1496,2531.9 1499,2531.3 1502,2524.6 1505,2524.7 1508,2521.9 1511,2521 1514,2517 1517,2513.7 1520,2512.4 1523,2508.8 1526,2512.1 1529,2507.6 1532,2507.8 1535,2505.4 1538,2503.5 1541,2503.9 1544,2499.6 1547,2500.2 1550,2501.8 1553,2500.2 1556,2499.3 1559,2498.7 1562,2495.7 1565,2494.4 1568,2494.4 1571,2496.8 1574,2497.1 1577,2495.9 1580,2493.3 1583,2497.2 1586,2493.9 1589,2497.3 1592,2495.1 1595,2495.3 1598,2501 1601,2500.4 1604,2501.6 1607,2500.6 1610,2501.6 1613,2504.2 1616,2508.2 1619,2509.2 1622,2507.8 1625,2509.1 1628,2510.5 1631,2514.4 1634,2518.4 1637,2518.6 1640,2521 1643,2525 1646,2525.5 1649,2524.5 1652,2527.5 1655,2534.6 1658,2537.5 1661,2540.2 1664,2539.9 1667,2541.7 1670,2546.4 1673,2552.4 1676,2555 1679,2559.9 1682,2558.5 1685,2562.3 1688,2570.1 1691,2571 1694,2577.1 1697,2579.9 1700,2585.6 1703,2587.7 1706,2593.7 1709,2597.8 1712,2601.6 1715,2607.5 1718,2607.9 1721,2611.2 1724,2617.9 1727,2625.7 1730,2628.9 1733,2633.2 1736,2640.2 1739,2641.2 1742,2649.8 1745,2651.8 1748,2660.1 1751,2665.9 1754,2667.5 1757,2673.4 1760,2681.2 1763,2686.2 1766,2689.6 1769,2697.2 1772,2702.4 1775,2705.6 1778,2714.8 1781,2722.6 1784,2725.9 1787,2731 1790,2734.2 1793,2740.2 1796,2751.4 1799,2756.9 1802,2759.5 1805,2765.7 1808,2774.2 1811,2778.3 1814,2785.2 1817,2792.3 1820,2796.1 1823,2802.3 1826,2807.4 1829,2814.1 1832,2819.9 1835,2827.4 1838,2836.2 1841,2841.9 1844,2845.4 1847,2851.1 1850,2859.1 1853,2867.7 1856,2871.3 1859,2878.4 1862,2881.5 1865,2887.5 1868,2895.2 1871,2901.3 1874,2905.1 1877,2915.7 1880,2920.6 1883,2925.9 1886,2930.2 1889,2934.5 1892,2942.2 1895,2947.1 1898,2954.6 1901,2959.7 1904,2963.4 1907,2971.4 1910,2978.9 1913,2986.1 1916,2987.4 1919,2994.4 1922,3000.7 1925,3006.4 1928,3007.6 1931,3015 1934,3019.5 1937,3022.4 1940,3033.3 1943,3037 1946,3041.8 1949,3044.5 1952,3051.8 1955,3053.4 1958,3061.7 1961,3061.5 1964,3070.6 1967,3073.9 1970,3075.8 1973,3082.4 1976,3082.8 1979,3089.1 1982,3094.1 1985,3093.9 1988,3102.1 1991,3101.3 1994,3108.4 1997,3112 2000,3117.1 2003,3114.9 2006,3119.8 2009,3123.7 2012,3125.4 2015,3130.3 2018,3134 2021,3135.3 2024,3139.2 2027,3139.9 2030,3141.5 2033,3145.8 2036,3145.7 2039,3149.3 2042,3151.5 2045,3148.8 2048,3150.5 2051,3154.3 2054,3156.4 2057,3158.8 2060,3157.8 2063,3158.2 2066,3161.3 2069,3159.9 2072,3159.2 2075,3162.6 2078,3159.6 2081,3164.5 2084,3163.4 2087,3163.1 2090,3165.7 2093,3162.1 2096,3160.5 2099,3160.2 2102,3160.7 2105,3159.8 2108,3161.9 2111,3159.8 2114,3157.1 2117,3154.4 2120,3152.6 2123,3152.5 2126,3154.3 2129,3148.2 2132,3145.2 2135,3148.8 2138,3145.8 2141,3141.3 2144,3140.1 2147,3135.9 2150,3132.1 2153,3130.7 2156,3129.8 2159,3124.4 2164,3122 2164,3175.2 2159,3182.1 2156,3184.3 2153,3189.7 2150,3187.1 2147,3190.1 2144,3193.3 2141,3193.5 2138,3199.1 2135,3201.2 2132,3201.9 2129,3203.6 2126,3205.7 2123,3208 2120,3203.2 2117,3205.5 2114,3210.4 2111,3209.3 2108,3208.7 2105,3211.9 2102,3212.4 2099,3214.1 2096,3210.8 2093,3210.9 2090,3212.4 2087,3214.6 2084,3212.4 2081,3214.2 2078,3214.9 2075,3211.8 2072,3211.8 2069,3210.5 2066,3209 2063,3212.4 2060,3210.5 2057,3208.5 2054,3206.7 2051,3206.3 2048,3204.2 2045,3203.1 2042,3201.1 2039,3202.8 2036,3196.8 2033,3197.4 2030,3195.8 2027,3194 2024,3192.1 2021,3191.6 2018,3189.9 2015,3185.8 2012,3180.1 2009,3182.2 2006,3176.2 2003,3176.7 2000,3170.5 1997,3165.9 1994,3164.2 1991,3163.9 1988,3159 1985,3155.7 1982,3152.4 1979,3147.7 1976,3146.3 1973,3138.8 1970,3137.3 1967,3133.9 1964,3130.1 1961,3125.9 1958,3119.8 1955,3120.1 1952,3115.4 1949,3109.9 1946,3102 1943,3100.2 1940,3098 1937,3093.2 1934,3088 1931,3080.9 1928,3076.2 1925,3072 1922,3068.3 1919,3059.1 1916,3058.8 1913,3051.5 1910,3042.8 1907,3040.6 1904,3033 1901,3026.7 1898,3023.3 1895,3018.6 1892,3011.2 1889,3009.3 1886,3000.8 1883,2994.2 1880,2989.4 1877,2981.9 1874,2979.3 1871,2971 1868,2967.1 1865,2959.5 1862,2955 1859,2951.7 1856,2941.4 1853,2933.7 1850,2932.8 1847,2924.4 1844,2918.8 1841,2914.9 1838,2907.5 1835,2899.9 1832,2892.2 1829,2890.1 1826,2884.4 1823,2874.2 1820,2869 1817,2865.6 1814,2857.3 1811,2848.8 1808,2845.8 1805,2836.7 1802,2835 1799,2825.7 1796,2822.2 1793,2813.4 1790,2808.7 1787,2802.3 1784,2793.7 1781,2788.3 1778,2781.4 1775,2781 1772,2771.3 1769,2767.4 1766,2763.2 1763,2753.5 1760,2748.3 1757,2742.4 1754,2736.4 1751,2732.2 1748,2724.1 1745,2722.4 1742,2718 1739,2709.6 1736,2706.2 1733,2699.9 1730,2693.5 1727,2689.8 1724,2687.1 1721,2677.3 1718,2675.1 1715,2670.5 1712,2662.1 1709,2659.3 1706,2655.6 1703,2649.6 1700,2647.9 1697,2639.9 1694,2639.7 1691,2633.2 1688,2626.3 1685,2624 1682,2620.3 1679,2619.4 1676,2610.3 1673,2610.8 1670,2602.9 1667,2603.1 1664,2597.3 1661,2594 1658,2593.9 1655,2590.6 1652,2583.7 1649,2582 1646,2582.9 1643,2577.3 1640,2577.2 1637,2571.6 1634,2571.9 1631,2568.4 1628,2564.7 1625,2563.9 1622,2559.4 1619,2559.8 1616,2558.2 1613,2555.3 1610,2552.6 1607,2555.1 1604,2552.5 1601,2549.9 1598,2550.2 1595,2548.5 1592,2546.6 1589,2548.8 1586,2547.6 1583,2545.3 1580,2545.7 1577,2548.4 1574,2543.8 1571,2544.1 1568,2545 1565,2544.5 1562,2548.8 1559,2544.9 1556,2549.7 1553,2550.3 1550,2550.8 1547,2554.2 1544,2549.8 1541,2553.2 1538,2552.9 1535,2559.4 1532,2556.1 1529,2558.9 1526,2561.2 1523,2566.3 1520,2566.6 1517,2571.8 1514,2573.1 1511,2575.7 1508,2576.7 1505,2580.8 1502,2580 1499,2585.7 1496,2585 1493,2590 1490,2591.5 1487,2594.6 1484,2600.4 1481,2602.1 1478,2606.9 1475,2614.3 1472,2613.8 1469,2617.4 1466,2623.2 1463,2630.4 1460,2634 1457,2637.8 1454,2637.9 1451,2645.5 1448,2647.3 1445,2655.8 1442,2658.1 1439,2665.7 1436,2666.7 1433,2670.9 1430,2677.9 1427,2684 1424,2689.3 1421,2694.3 1418,2696 1415,2704.6 1412,2706.1 1409,2716.1 1406,2719.5 1403,2721.9 1400,2729.2 1397,2734.9 1394,2742.8 1391,2749 1388,2752.7 1385,2755.7 1382,2761.8 1379,2772.8 1376,2774.9 1373,2780.7 1370,2786.3 1367,2795.3 1364,2797.9 1361,2807.3 1358,2810.4 1355,2817.4 1352,2825.4 1349,2827.8 1346,2834.9 1343,2841.4 1340,2850.7 1337,2857 1334,2858.2 1331,2868.8 1328,2872.1 1325,2880 1322,2884.6 1319,2891.4 1316,2895.4 1313,2903.2 1310,2908.5 1307,2916.1 1304,2919.9 1301,2931.5 1298,2932.9 1295,2940.8 1292,2949.5 1289,2952.6 1286,2956.8 1283,2966.3 1280,2971.4 1277,2975 1274,2979.8 1271,2989.9 1268,2992.9 1265,2997.8 1262,3003 1259,3011.7 1256,3019.1 1253,3023.9 1250,3029.9 1247,3031.4 1244,3038.2 1241,3041.5 1238,3051.3 1235,3053.7 1232,3056.7 1229,3066.1 1226,3068 1223,3073.5 1220,3082 1217,3083 1214,3089.5 1211,3093.4 1208,3098.5 1205,3104.1 1202,3108.5 1199,3110.3 1196,3115.1 1193,3120.2 1190,3122.5 1187,3130.9 1184,3134.4 1181,3138.8 1178,3143.2 1175,3147.1 1172,3149.4 1169,3148.9 1166,3156.1 1163,3160.2 1160,3163.2 1157,3163.8 1154,3165.5 1151,3169.8 1148,3173.8 1145,3176.3 1142,3181.4 1139,3182.8 1136,3182 1133,3187.6 1130,3185.9 1127,3189.6 1124,3190.1 1121,3195 1118,3199.1 1115,3198 1112,3198 1109,3204.6 1106,3205.5 1103,3204.9 1100,3208.6 1097,3204.2 1094,3209.1 1091,3210.2 1088,3207.3 1085,3211 1082,3213.4 1079,3208.9 1076,3211.4 1073,3213.1 1070,3212.1 1067,3215.8 1064,3210.9 1061,3211.4 1058,3214.7 1055,3214.5 1052,3209.6 1049,3214.3 1046,3213.1 1043,3209.2 1040,3211.1 1037,3207.1 1034,3210.1 1031,3205.2 1028,3202.5 1025,3203.2 1022,3200 1019,3199.7 1016,3200.1 1013,3197.1 1010,3198.1 1007,3196.2 1004,3191.1 1001,3191.1 998,3188.2 995,3187.1 992,3180.5 989,3183.3 986,3177.8 983,3174.5 980,3169.7 977,3166.9 974,3167.9 971,3163.7 968,3161.7 965,3159.7 962,3152 959,3147.4 956,3147.6 953,3143.1 950,3137.2 947,3133.5 944,3129.4 941,3128.1 938,3121.9 935,3117.5 932,3112.4 929,3107.8 926,3103.6 923,3099.1 920,3097.3 917,3093.7 914,3085.8 911,3080.3 908,3077.8 905,3071.8 902,3065.9 899,3065 896,3057.2 893,3049.7 890,3050.2 887,3042.9 884,3035.3 881,3029.3 878,3024.9 875,3019.4 872,3012.8 869,3008.5 866,3005.9 863,2997.5 860,2990.9 857,2988.7 854,2979.4 851,2974.1 848,2971.6 845,2964.6 842,2957.5 839,2948 836,2946.9 833,2938.1 830,2932.9 827,2926.4 824,2923.4 821,2915.5 818,2905.3 815,2901.9 812,2893.5 809,2887.1 806,2886 803,2874.6 800,2872 797,2865 794,2856 791,2855.2 788,2848.9 785,2842.2 782,2831.6 779,2830.5 776,2823.8 773,2817.1 770,2812 767,2805.1 764,2795.7 761,2794.6 758,2787.5 755,2778.9 752,2773.5 749,2767 746,2763.4 743,2757.6 740,2753.8 737,2746.2 734,2739.4 731,2733.4 728,2729.4 725,2720.2 722,2716.6 719,2714.7 716,2708.6 713,2702.4 710,2698.5 707,2693 704,2684.5 701,2682.8 698,2677.7 695,2668.5 692,2665.4 689,2660.3 686,2656 683,2649.9 680,2646.3 677,2641.4 674,2637.4 671,2636.6 668,2631.8 665,2625.2 662,2621.2 659,2620.5 656,2612 653,2611.5 650,2609.5 647,2602.7 644,2597.7 641,2593.8 638,2591.1 635,2587.2 632,2587.4 629,2581.1 626,2580.1 623,2577.1 620,2574.9 617,2572.8 614,2573.3 611,2565.2 608,2568.8 605,2561.8 602,2562.4 599,2559 596,2556.6 593,2553.5 590,2552.3 587,2555.2 584,2549.4 581,2551.1 578,2547.4 575,2549.3 572,2550.9 569,2549.7 566,2549.7 563,2547.8 560,2544.8 557,2544.8 554,2547.4 551,2545 548,2544.4 545,2547.8 542,2544 539,2544.7 536,2548.5 533,2547.1 530,2547.3 527,2550.1 524,2552.6 521,2550.9 518,2552.8 515,2554.4 512,2557.1 509,2557.7 506,2560.3 503,2560.8 500,2563.9 497,2570.1 494,2572.1 491,2571.7 488,2573.8 485,2581 482,2580.7 479,2582.9 476,2584.6 473,2587.1 470,2594.6 467,2594.4 464,2601.7 461,2602.7 458,2609.5 455,2612.7 452,2616.8 449,2618.1 446,2623.2 443,2627.5 440,2630.4 437,2632.3 434,2637.2 431,2642.2 428,2646.9 425,2649.6 422,2655.5 419,2662.6 416,2663.6 413,2672.2 410,2677.3 407,2683.2 404,2688.9 401,2692.1 398,2695 395,2700.2 392,2707.7 389,2711 386,2717.4 383,2722.9 380,2728.2 377,2736.7 374,2741.2 371,2742.6 368,2748.5 365,2758.5 362,2760 359,2768.3 356,2776.9 353,2779.1 350,2787.5 347,2790.9 344,2797.6 341,2803.9 338,2809.8 335,2814.6 332,2820.1 329,2829.6 326,2834.9 323,2839.5 320,2848.9 317,2852.5 314,2861.6 311,2864.5 308,2873.3 305,2876.1" fill="#0000FF"/>
<polygon points="305,3119.6 308,3121.6 311,3128.5 314,3127 317,3135 320,3137.1 323,3140.2 326,3141.8 329,3140.1 332,3143.6 335,3144.9 338,3146.9 341,3152.1 344,3152.8 347,3153.2 350,3156.9 353,3159.2 356,3156.4 359,3161.2 362,3161.9 365,3158.4 368,3158.5 371,3161.5 374,3160.4 377,3160.9 380,3160.2 383,3163.5 386,3162.5 389,3160.7 392,3164.7 395,3162.2 398,3159.4 401,3159.7 404,3161 407,3156.5 410,3161.1 413,3159.8 416,3156.7 419,3154.2 422,3155.6 425,3148.9 428,3152.1 431,3149.4 434,3143.6 437,3143.6 440,3142.1 443,3141.2 446,3134.4 449,3135.8 452,3132.7 455,3126.1 458,3125.5 461,3120.2 464,3119 467,3115.4 470,3112.2 473,3108.7 476,3109.5 479,3101.8 482,3096.8 485,3096.4 488,3092.7 491,3090.5 494,3084.6 497,3077.9 500,3073.7 503,3073.3 506,3067.8 509,3065.3 512,3060.9 515,3053.1 518,3050 521,3043 524,3038.2 527,3035.1 530,3028.2 533,3021.8 536,3020.6 539,3016.6 542,3011 545,3002.7 548,2997.6 551,2991.2 554,2989.1 557,2982.9 560,2977 563,2970.2 566,2963.1 569,2956.9 572,2951 575,2947.5 578,2942.9 581,2935.5 584,2930.6 587,2922.5 590,2917.7 593,2909.7 596,2905.5 599,2901.7 602,2892.8 605,2887.3 608,2880.8 611,2879.1 614,2869.4 617,2865.9 620,2858.7 623,2852 626,2846.9 629,2838.3 632,2831.5 635,2825.6 638,2820.5 641,2814.2 644,2811 647,2803.6 650,2799 653,2791.1 656,2782.4 659,2776.9 662,2772.8 665,2764 668,2758.6 671,2751.1 674,2745.2 677,2742.8 680,2735 683,2731.2 686,2726.5 689,2715.6 692,2709.9 695,2707.7 698,2699 701,2694.2 704,2692.4 707,2682.6 710,2681.9 713,2676.5 716,2665.4 719,2662 722,2660.2 725,2649.5 728,2649.6 731,2640.5 734,2636 737,2632.3 740,2628.3 743,2620.4 746,2617.3 749,2615.3 752,2607.5 755,2602.4 758,2600.3 761,2597.1 764,2588.2 767,2586.7 770,2581.1 773,2576.6 776,2576.2 779,2571.8 782,2567 785,2561.8 788,2560.1 791,2554.3 794,2553.5 797,2548.1 800,2546.6 803,2544.8 806,2542.1 809,2539.7 812,2533.4 815,2530.2 818,2526.7 821,2527.7 824,2524.2 827,2522.9 830,2521 833,2514.2 836,2513.2 839,2510.6 842,2513.7 845,2512.5 848,2510.3 851,2509 854,2504.6 857,2503.8 860,2500.1 863,2498.7 866,2500 869,2499.2 872,2500.8 875,2495.9 878,2498.7 881,2498.2 884,2496.9 887,2496.9 890,2495.8 893,2496.2 896,2493.9 899,2495.4 902,2496.2 905,2498 908,2498.6 911,2498.7 914,2498.8 917,2498.2 920,2499.7 923,2501 926,2499 929,2504 932,2505 935,2508.2 938,2505.3 941,2508.6 944,2511.1 947,2514.4 950,2511.2 953,2517.7 956,2516.3 959,2520.6 962,2523.1 965,2526.5 968,2525.3 971,2526.3 974,2533.8 977,2532.8 980,2534.5 983,2538.6 986,2541.1 989,2548 992,2552.3 995,2555.5 998,2554.6 1001,2558.4 1004,2562.4 1007,2569.8 1010,2572.1 1013,2574.7 1016,2579 1019,2585.1 1022,2590.1 1025,2590.9 1028,2595.6 1031,2601.1 1034,2605.2 1037,2606.5 1040,2615.2 1043,2619.4 1046,2622.3 1049,2629.5 1052,2635.3 1055,2637 1058,2643.1 1061,2649.1 1064,2651.8 1067,2659 1070,2661.9 1073,2666.5 1076,2673.9 1079,2679.6 1082,2684.4 1085,2691.3 1088,2696 1091,2700.4 1094,2707.4 1097,2712.4 1100,2721.3 1103,2726.6 1106,2729.2 1109,2736.8 1112,2745.4 1115,2746.4 1118,2756.9 1121,2762.1 1124,2764.1 1127,2772.6 1130,2777.7 1133,2781.7 1136,2793.7 1139,2794.2 1142,2802.7 1145,2809.1 1148,2817.3 1151,2820.9 1154,2825.2 1157,2832.9 1160,2841.9 1163,2844.3 1166,2849.4 1169,2858.8 1172,2861.6 1175,2869 1178,2876 1181,2882.9 1184,2888.1 1187,2895 1190,2903 1193,2909.6 1196,2913.6 1199,2921.4 1202,2926.2 1205,2928.7 1208,2935 1211,2944.5 1214,2951.1 1217,2951.8 1220,2957.1 1223,2967.5 1226,2973.7 1229,2977 1232,2980.7 1235,2987.9 1238,2992.5 1241,2996.3 1244,3004.2 1247,3008 1250,3015 1253,3016.8 1256,3021.9 1259,3031.9 1262,3035.3 1265,3036.7 1268,3046.2 1271,3047.9 1274,3056 1277,3059.5 1280,3061.3 1283,3068.2 1286,3069.4 1289,3074.5 1292,3081.3 1295,3082.6 1298,3089.3 1301,3091.8 1304,3096.9 1307,3100.8 1310,3100.8 1313,3108.8 1316,3111.2 1319,3112.2 1322,3115.4 1325,3119.2 1328,3125.7 1331,3128.5 1334,3130.1 1337,3133.8 1340,3136.3 1343,3136.2 1346,3139.8 1349,3139.6 1352,3141 1355,3148 1358,3146.5 1361,3149.4 1364,3151.7 1367,3154.4 1370,3157.5 1373,3153.1 1376,3158.1 1379,3158.1 1382,3158.5 1385,3160.6 1388,3161.4 1391,3162.8 1394,3164.9 1397,3162 1400,3159.9 1403,3164.4 1406,3164.8 1409,3165.4 1412,3160.4 1415,3159.9 1418,3161.1 1421,3160.1 1424,3160 1427,3158.3 1430,3160.1 1433,3154.6 1436,3155.4 1439,3152.5 1442,3150.7 1445,3154.1 1448,3147.2 1451,3145.8 1454,3148.2 1457,3142.2 1460,3144.2 1463,3142.6 1466,3136.5 1469,3136.5 1472,3131.4 1475,3129.6 1478,3127.7 1481,3126.6 1484,3119.1 1487,3117 1490,3117.2 1493,3109.6 1496,3109 1499,3101.3 1502,3099.8 1505,3095.5 1508,3090.3 1511,3086.5 1514,3084.4 1517,3079.3 1520,3078.4 1523,3069.9 1526,3066.6 1529,3062.3 1532,3059.5 1535,3056 1538,3052.5 1541,3044.2 1544,3039.6 1547,3035.1 1550,3028.8 1553,3028.1 1556,3020.9 1559,3016.3 1562,3011 1565,3006.3 1568,2998.6 1571,2993.5 1574,2986.5 1577,2985.8 1580,2978.8 1583,2973.4 1586,2969.1 1589,2961.5 1592,2957.6 1595,2948.7 1598,2943.2 1601,2936.1 1604,2933.7 1607,2928.6 1610,2920.9 1613,2917.4 1616,2911.4 1619,2899.7 1622,2898.2 1625,2891.1 1628,2887.2 1631,2875.5 1634,2872.5 1637,2865.1 1640,2857.2 1643,2856.4 1646,2846.9 1649,2840.7 1652,2835.4 1655,2829.8 1658,2822.2 1661,2815 1664,2812.2 1667,2802.7 1670,2800.1 1673,2791.4 1676,2787.6 1679,2780.7 1682,2772.1 1685,2770.7 1688,2761.7 1691,2755.6 1694,2748.5 1697,2741.2 1700,2738.5 1703,2731.1 1706,2724.5 1709,2718 1712,2714.3 1715,2709.7 1718,2705.2 1721,2696.6 1724,2694 1727,2687.8 1730,2679.7 1733,2672.6 1736,2669 1739,2665.7 1742,2661.1 1745,2655.9 1748,2651.8 1751,2641.5 1754,2639.2 1757,2631.8 1760,2631 1763,2624.6 1766,2619.9 1769,2617.2 1772,2608 1775,2605.1 1778,2601.2 1781,2599.1 1784,2593.5 1787,2587.9 1790,2586.5 1793,2577.9 1796,2577.2 1799,2571 1802,2567.7 1805,2566.8 1808,2562.2 1811,2559.9 1814,2553.3 1817,2548.3 1820,2545.9 1823,2546.3 1826,2540.2 1829,2536 1832,2534.5 1835,2530 1838,2531.6 1841,2528 1844,2526.1 1847,2525.2 1850,2522.2 1853,2520.4 1856,2514.2 1859,2512 1862,2511.6 1865,2509.1 1868,2509 1871,2509.1 1874,2504.9 1877,2502.9 1880,2500.3 1883,2501.5 1886,2503.5 1889,2499 1892,2498.8 1895,2500.5 1898,2499 1901,2496.2 1904,2498.2 1907,2497.5 1910,2495.6 1913,2498.3 1916,2494.6 1919,2495.7 1922,2496.4 1925,2495.6 1928,2498.8 1931,2499.7 1934,2496.8 1937,2495.9 1940,2498.7 1943,2498.6 1946,2499.2 1949,2504.2 1952,2502.9 1955,2504.2 1958,2507.2 1961,2508.6 1964,2512 1967,2511.2 1970,2515.4 1973,2511.7 1976,2518.7 1979,2516.3 1982,2519.7 1985,2523.2 1988,2527.2 1991,2527 1994,2533.6 1997,2531.5 2000,2538.9 2003,2537.5 2006,2543.4 2009,2548.2 2012,2547.9 2015,2553.1 2018,2553.4 2021,2559.8 2024,2563.7 2027,2567.4 2030,2568.6 2033,2576.5 2036,2579 2039,2584 2042,2587.1 2045,2592.5 2048,2596.6 2051,2601.1 2054,2605.7 2057,2605.5 2060,2611.8 2063,2616 2066,2619.4 2069,2624.1 2072,2630 2075,2634.8 2078,2639.1 2081,2646.9 2084,2648.6 2087,2653.7 2090,2659.3 2093,2669.9 2096,2671.5 2099,2675.7 2102,2685.3 2105,2690.4 2108,2695.5 2111,2702.5 2114,2706.5 2117,2714 2120,2717.5 2123,2724.9 2126,2729.7 2129,2731.7 2132,2742.9 2135,2744.1 2138,2750.7 2141,2756.3 2144,2765.7 2147,2771.1 2150,2774.8 2153,2779.8 2156,2788.4 2159,2792.5 2164,2804.3 2164,2873.9 2159,2865.9 2156,2860.1 2153,2853.2 2150,2845.1 2147,2843.5 2144,2834.6 2141,2828.3 2138,2826 2135,2818.3 2132,2812.1 2129,2804.2 2126,2800.6 2123,2791.1 2120,2789.2 2117,2778.6 2114,2777.6 2111,2769.3 2108,2763 2105,2759.8 2102,2754.6 2099,2749.5 2096,2740.3 2093,2734 2090,2729.3 2087,2724.4 2084,2716 2081,2711.1 2078,2708.7 2075,2700.5 2072,2699 2069,2695.1 2066,2684.9 2063,2685 2060,2679.1 2057,2674.1 2054,2665.4 2051,2664 2048,2657.6 2045,2651 2042,2645.7 2039,2641.5 2036,2637.5 2033,2635.2 2030,2633.3 2027,2627.9 2024,2625 2021,2618.5 2018,2612.1 2015,2611.4 2012,2605.7 2009,2606.6 2006,2599.4 2003,2598.8 2000,2596.2 1997,2588.9 1994,2586.1 1991,2581.7 1988,2579.9 1985,2579.4 1982,2578.9 1979,2576 1976,2571.7 1973,2566.2 1970,2563.9 1967,2565.7 1964,2564 1961,2559.6 1958,2557 1955,2558.5 1952,2557.8 1949,2555.1 1946,2552.7 1943,2550.6 1940,2550 1937,2547 1934,2550.5 1931,2548.8 1928,2544.8 1925,2543.9 1922,2544.7 1919,2543.6 1916,2548.5 1913,2548.6 1910,2548.6 1907,2544.2 1904,2547.2 1901,2550.2 1898,2550.1 1895,2548.9 1892,2551.9 1889,2553.1 1886,2549 1883,2554.9 1880,2553 1877,2555.1 1874,2560.2 1871,2561.2 1868,2558.7 1865,2560.8 1862,2565.2 1859,2568.9 1856,2569 1853,2572.5 1850,2575.2 1847,2577.6 1844,2578 1841,2581.1 1838,2585.2 1835,2588.7 1832,2590.5 1829,2592.7 1826,2597.1 1823,2599.8 1820,2606.2 1817,2612.3 1814,2615.2 1811,2615.4 1808,2619.8 1805,2625.4 1802,2627.2 1799,2630.5 1796,2635.7 1793,2643.5 1790,2648.1 1787,2649.8 1784,2656 1781,2661.2 1778,2666.8 1775,2667.9 1772,2674.6 1769,2680.1 1766,2683.6 1763,2687.7 1760,2694.5 1757,2699.3 1754,2702.9 1751,2709.8 1748,2714.9 1745,2719.6 1742,2727.9 1739,2732.9 1736,2739.9 1733,2743 1730,2748.4 1727,2757.6 1724,2762 1721,2766 1718,2771.2 1715,2778.4 1712,2784.6 1709,2793.6 1706,2799.2 1703,2805.2 1700,2810.8 1697,2815.4 1694,2822.5 1691,2826.3 1688,2832.4 1685,2837.8 1682,2844.6 1679,2849.3 1676,2855.1 1673,2863.2 1670,2867.3 1667,2876.3 1664,2884.2 1661,2885.9 1658,2892.9 1655,2901.1 1652,2904.4 1649,2915.3 1646,2919 1643,2924.2 1640,2929.9 1637,2934.6 1634,2945.4 1631,2947.1 1628,2958 1625,2960.3 1622,2967.1 1619,2972 1616,2977.8 1613,2984.6 1610,2989.7 1607,2996.3 1604,3001.9 1601,3009.4 1598,3015.6 1595,3018.1 1592,3027.4 1589,3030.6 1586,3034.3 1583,3038.1 1580,3044.6 1577,3051.1 1574,3057.4 1571,3064.8 1568,3067.1 1565,3071.9 1562,3077.8 1559,3080.9 1556,3086.9 1553,3089.5 1550,3094 1547,3097.6 1544,3104.7 1541,3109.5 1538,3115.9 1535,3117.7 1532,3121.9 1529,3126.8 1526,3132.1 1523,3134 1520,3135.4 1517,3143.5 1514,3148.6 1511,3151 1508,3154.5 1505,3154.3 1502,3161 1499,3164.6 1496,3165.7 1493,3169.9 1490,3169.7 1487,3172.7 1484,3179.7 1481,3181.3 1478,3180.2 1475,3185.6 1472,3184.8 1469,3187.1 1466,3191.4 1463,3192.8 1460,3195.4 1457,3195.3 1454,3198.4 1451,3198.2 1448,3204.5 1445,3205.9 1442,3203.1 1439,3203.4 1436,3205.3 1433,3206.9 1430,3208.1 1427,3208.5 1424,3210.7 1421,3213.6 1418,3209.1 1415,3212.2 1412,3215.1 1409,3213.6 1406,3212.7 1403,3213.7 1400,3214.7 1397,3211.6 1394,3215.3 1391,3212.1 1388,3212.6 1385,3210.6 1382,3207.6 1379,3211.7 1376,3210.8 1373,3210.1 1370,3207.8 1367,3206 1364,3202.4 1361,3199.9 1358,3198.1 1355,3199.2 1352,3194.6 1349,3193.9 1346,3194 1343,3191.1 1340,3189 1337,3189 1334,3181.6 1331,3182.3 1328,3181 1325,3177.7 1322,3175.1 1319,3169.5 1316,3165.5 1313,3167.1 1310,3164.5 1307,3160.7 1304,3154.5 1301,3153.1 1298,3150.3 1295,3143.6 1292,3142.8 1289,3135.1 1286,3136.4 1283,3132.3 1280,3122.7 1277,3123.8 1274,3118.2 1271,3111.3 1268,3108.4 1265,3106.7 1262,3097.5 1259,3096.2 1256,3088.6 1253,3083.1 1250,3079.1 1247,3073.9 1244,3069.7 1241,3066.2 1238,3061.7 1235,3057.2 1232,3053 1229,3046.3 1226,3041.2 1223,3033.8 1220,3027 1217,3022.6 1214,3017.1 1211,3014.9 1208,3007.2 1205,3000 1202,2995.5 1199,2990.5 1196,2984.8 1193,2978.4 1190,2970.7 1187,2967.8 1184,2959.8 1181,2955.4 1178,2946.2 1175,2939.6 1172,2935.9 1169,2932 1166,2922.8 1163,2917.8 1160,2910.9 1157,2908.1 1154,2900.2 1151,2894.2 1148,2888.7 1145,2879.7 1142,2876.7 1139,2866.2 1136,2865 1133,2853.9 1130,2851.9 1127,2842.5 1124,2835.4 1121,2830.3 1118,2822.9 1115,2819.5 1112,2815.9 1109,2809.3 1106,2800.1 1103,2792.6 1100,2791.2 1097,2785.6 1094,2778.8 1091,2770.2 1088,2763 1085,2762.3 1082,2755.5 1079,2751.2 1076,2742.6 1073,2738.3 1070,2732.9 1067,2725 1064,2720.8 1061,2714.5 1058,2707 1055,2706.7 1052,2696.7 1049,2692.5 1046,2690.6 1043,2684.5 1040,2680.8 1037,2676.5 1034,2666.8 1031,2666.6 1028,2657.3 1025,2656.1 1022,2652.9 1019,2646.3 1016,2638.4 1013,2634.7 1010,2634.8 1007,2631.3 1004,2624.5 1001,2619.9 998,2616.3 995,2613.5 992,2611 989,2602.4 986,2598.7 983,2601.1 980,2595.5 977,2593.9 974,2589.9 971,2587.7 968,2580.5 965,2580.5 962,2577 959,2574.9 956,2571.7 953,2570.8 950,2567.9 947,2565.2 944,2560.7 941,2559.5 938,2559.2 935,2557.1 932,2556 929,2551.4 926,2552.4 923,2549.8 920,2550.8 917,2550 914,2550.3 911,2546.3 908,2544.8 905,2548.9 902,2548.9 899,2545.8 896,2546.9 893,2545 890,2546.6 887,2548.5 884,2546.7 881,2545.3 878,2549.6 875,2551.3 872,2548.9 869,2552 866,2551.4 863,2554.4 860,2554.9 857,2557.2 854,2558.7 851,2559.5 848,2561.2 845,2565 842,2563.9 839,2569 836,2568.4 833,2570.3 830,2575.2 827,2578.3 824,2580.1 821,2581.2 818,2582.5 815,2585.4 812,2589.7 809,2596 806,2596 803,2598.5 800,2604.2 797,2610.6 794,2612.4 791,2617 788,2618.9 785,2622.9 782,2625.3 779,2629.8 776,2638.3 773,2643.2 770,2642.8 767,2647.6 764,2652.9 761,2658.8 758,2664.5 755,2669.7 752,2674 749,2675.4 746,2683.5 743,2687.4 740,2691.7 737,2701.1 734,2701.2 731,2709 728,2715.6 725,2719.4 722,2724.4 719,2733.8 716,2737.5 713,2745.1 710,2745.8 707,2754.8 704,2758.1 701,2763.9 698,2771.9 695,2778.9 692,2784.5 689,2789.4 686,2797.7 683,2802 680,2804.1 677,2812.6 674,2821.5 671,2824.9 668,2833.2 665,2836.6 662,2842.4 659,2850.8 656,2855 653,2861.8 650,2870.1 647,2874.7 644,2881.6 641,2886.8 638,2894.6 635,2901.7 632,2904.6 629,2910.1 626,2919 623,2925.7 620,2928.1 617,2935.5 614,2944.3 611,2944.9 608,2953.5 605,2958.8 602,2963.4 599,2970.6 596,2977.3 593,2981.4 590,2987.1 587,2994.8 584,2997.4 581,3007.2 578,3009.7 575,3016.4 572,3023.7 569,3029.4 566,3034.5 563,3037.4 560,3046.1 557,3050.5 554,3057.6 551,3057.4 548,3063.8 545,3070.4 542,3077.6 539,3081.4 536,3085.1 533,3088.4 530,3094.7 527,3098.4 524,3102 521,3107.9 518,3110.3 515,3119.1 512,3121.4 509,3127.5 506,3131.2 503,3135.4 500,3139.3 497,3138 494,3147.2 491,3147.2 488,3149.8 485,3157 482,3159 479,3161.9 476,3164.5 473,3169.4 470,3169 467,3176.2 464,3174.2 461,3177.7 458,3182.7 455,3183.3 452,3186.5 449,3186.5 446,3194 443,3193.1 440,3193.3 437,3196.3 434,3200.1 431,3199.1 428,3203.4 425,3205.8 422,3206.6 419,3206 416,3205.5 413,3206.1 410,3210.8 407,3208.1 404,3211.9 401,3210.5 398,3212.4 395,3213.4 392,3210.4 389,3210.5 386,3210.1 383,3211 380,3213.4 377,3213 374,3209.5 371,3214.5 368,3212.5 365,3212.7 362,3212.3 359,3211.4 356,3209.6 353,3207.9 350,3204.3 347,3206.2 344,3201.8 341,3203 338,3203.8 335,3198.1 332,3198.8 329,3195.9 326,3192 323,3190.1 320,3186.9 317,3189.8 314,3186.2 311,3181.5 308,3182.3 305,3176.8" fill="#FF0000"/>
<polygon points="305,2542 308,2544.7 311,2552.3 314,2554.7 317,2557.9 320,2561.4 323,2561.7 326,2568.9 329,2573.7 332,2572.5 335,2581 338,2584.8 341,2583.8 344,2593.6 347,2594 350,2600.4 353,2604 356,2609.2 359,2611.8 362,2615 365,2624.2 368,2629.6 371,2631.3 374,2638.2 377,2642.2 380,2646.5 383,2649.4 386,2657.8 389,2663.8 392,2666.7 395,2675.5 398,2679.3 401,2683.7 404,2692.6 407,2695 410,2702.8 413,2707.5 416,2714.4 419,2716.5 422,2723.2 425,2732 428,2736.5 431,2740.5 434,2745.4 437,2756.1 440,2762.2 443,2766.6 446,2770.7 449,2775 452,2784.3 455,2792.8 458,2797.8 461,2803.9 464,2810.4 467,2816.5 470,2823.6 473,2829.3 476,2832.7 479,2841.5 482,2847.4 485,2852.1 488,2859.7 491,2862.3 494,2868.3 497,2879.1 500,2881.8 503,2885.9 506,2893.9 509,2901.4 512,2908.4 515,2913.4 518,2916.5 521,2922.2 524,2931.7 527,2933.8 530,2940.8 533,2945.3 536,2952.9 539,2959.4 542,2967.8 545,2969.5 548,2974.8 551,2979.1 554,2988 557,2991.2 560,2998.6 563,3001.6 566,3006.9 569,3013.2 572,3016.8 575,3024.6 578,3031.9 581,3033.4 584,3041.7 587,3043.3 590,3050.4 593,3054.5 596,3056.8 599,3060.9 602,3069.7 605,3071.5 608,3075.3 611,3080.9 614,3084.5 617,3089.3 620,3093.6 623,3093.3 626,3100.6 629,3106 632,3105.6 635,3109.2 638,3110.6 641,3115.1 644,3119.3 647,3123.3 650,3125.4 653,3130.9 656,3132.9 659,3131.3 662,3136.6 665,3139.7 668,3143.5 671,3144.7 674,3145.6 677,3146.2 680,3147.1 683,3151.8 686,3152.7 689,3151.7 692,3157.2 695,3159.4 698,3160.4 701,3157.4 704,3158.1 707,3158.1 710,3163.3 713,3164.5 716,3163.2 719,3163.3 722,3165 725,3164.4 728,3162.8 731,3162.7 734,3164.7 737,3158.9 740,3161.5 743,3160 746,3156.8 749,3155.7 752,3156 755,3156.5 758,3154.5 761,3153.2 764,3152.7 767,3147.5 770,3151.2 773,3148.2 776,3144.2 779,3142.4 782,3142.7 785,3139.9 788,3134.8 791,3130.4 794,3128.9 797,3129.7 800,3121.4 803,3121.9 806,3117.3 809,3117.5 812,3111.3 815,3109.8 818,3105.1 821,3103.2 824,3099.4 827,3091.4 830,3090.1 833,3083.1 836,3081.1 839,3079.7 842,3071.5 845,3069.2 848,3066.5 851,3061.9 854,3052.5 857,3051.4 860,3045.1 863,3043.8 866,3035.9 869,3030.9 872,3024.7 875,3020.1 878,3016.3 881,3009.3 884,3007.7 887,2999.1 890,2992.8 893,2992.1 896,2986.2 899,2976 902,2971 905,2965 908,2959.6 911,2958.7 914,2948.5 917,2945 920,2938.5 923,2935.9 926,2924.5 929,2924 932,2918.1 935,2909.5 938,2905 941,2898.1 944,2892.9 947,2886.4 950,2877.8 953,2870.7 956,2865.2 959,2862.4 962,2854 965,2846.1 968,2842.5 971,2832.9 974,2829.7 977,2821.3 980,2815.6 983,2808.4 986,2807.4 989,2801.6 992,2793.1 995,2784.8 998,2779.1 1001,2772.6 1004,2768.2 1007,2760.3 1010,2755.4 1013,2752.8 1016,2743.1 1019,2736.3 1022,2731.1 1025,2728.9 1028,2720.3 1031,2716.5 1034,2712.4 1037,2705.7 1040,2697.5 1043,2694.5 1046,2689.6 1049,2678.8 1052,2675.8 1055,2669.5 1058,2665.8 1061,2661.2 1064,2652.4 1067,2646.6 1070,2642.4 1073,2637.9 1076,2636.9 1079,2627.8 1082,2623.4 1085,2618.2 1088,2617.3 1091,2612.4 1094,2608.4 1097,2602.2 1100,2599.8 1103,2594.3 1106,2587.4 1109,2586.3 1112,2579.3 1115,2573.8 1118,2573.4 1121,2571.1 1124,2564.9 1127,2558.6 1130,2557.7 1133,2552.7 1136,2553.1 1139,2546.4 1142,2547.1 1145,2540.8 1148,2537.1 1151,2533.5 1154,2530.2 1157,2527.7 1160,2529.8 1163,2527.6 1166,2525.4 1169,2519.3 1172,2518.8 1175,2513.2 1178,2514.5 1181,2515.1 1184,2512.8 1187,2507.2 1190,2505.2 1193,2502.8 1196,2505.7 1199,2505.9 1202,2501.4 1205,2502.3 1208,2502.3 1211,2500.8 1214,2498.8 1217,2498.3 1220,2498.7 1223,2494.3 1226,2496.4 1229,2494.8 1232,2494.6 1235,2498.3 1238,2497.6 1241,2497.8 1244,2494.8 1247,2497.8 1250,2495.5 1253,2496.9 1256,2495.9 1259,2497.4 1262,2497.2 1265,2502 1268,2500.4 1271,2506.1 1274,2502.9 1277,2505.5 1280,2510.3 1283,2506.2 1286,2510.4 1289,2515.5 1292,2515.2 1295,2516.3 1298,2519.1 1301,2522.2 1304,2522.9 1307,2527.4 1310,2526.5 1313,2527.9 1316,2533.9 1319,2535.2 1322,2540.2 1325,2544.9 1328,2543.5 1331,2550.2 1334,2553.8 1337,2553 1340,2557.5 1343,2560.2 1346,2565.8 1349,2571.7 1352,2572.8 1355,2575.1 1358,2583 1361,2586.6 1364,2589.6 1367,2596.5 1370,2596.7 1373,2604.3 1376,2608.6 1379,2611.4 1382,2613.7 1385,2620.9 1388,2622.8 1391,2632.7 1394,2633.9 1397,2639.1 1400,2644.2 1403,2653.3 1406,2655.5 1409,2662.1 1412,2663.6 1415,2672.1 1418,2675.4 1421,2681.2 1424,2686.4 1427,2691.2 1430,2700.8 1433,2703.9 1436,2708.5 1439,2716.3 1442,2720.2 1445,2729.9 1448,2731.4 1451,2740.7 1454,2748.6 1457,2753.4 1460,2758.3 1463,2761.9 1466,2767.3 1469,2777.6 1472,2780.2 1475,2786.5 1478,2791.4 1481,2801.3 1484,2806.6 1487,2812.5 1490,2815.7 1493,2824 1496,2828.2 1499,2838.1 1502,2843.9 1505,2848.1 1508,2858.2 1511,2861.3 1514,2866.2 1517,2871.2 1520,2881.9 1523,2887.2 1526,2890.2 1529,2900.5 1532,2905.2 1535,2913 1538,2914.2 1541,2923.3 1544,2927.3 1547,2936.8 1550,2938.9 1553,2946.4 1556,2953.9 1559,2955.8 1562,2961.3 1565,2966.5 1568,2972.7 1571,2981 1574,2984.7 1577,2991 1580,2993.6 1583,3004.1 1586,3007.3 1589,3014.9 1592,3019.4 1595,3022.5 1598,3027.5 1601,3033.6 1604,3039.1 1607,3042.3 1610,3048.2 1613,3049.5 1616,3053.8 1619,3059.8 1622,3064.7 1625,3069.3 1628,3071.6 1631,3076.4 1634,3085.1 1637,3087.8 1640,3093.4 1643,3095.7 1646,3096.6 1649,3103.7 1652,3107.4 1655,3108.8 1658,3110.5 1661,3115.2 1664,3121 1667,3119.3 1670,3124.5 1673,3129.4 1676,3129.3 1679,3131.5 1682,3138.1 1685,3138.6 1688,3142.6 1691,3144.1 1694,3147.9 1697,3147.1 1700,3151.4 1703,3149.7 1706,3152.4 1709,3155.6 1712,3157.9 1715,3156.5 1718,3159.1 1721,3155.9 1724,3157.7 1727,3157.9 1730,3163.4 1733,3162.3 1736,3161.3 1739,3163.2 1742,3161.5 1745,3162 1748,3165.7 1751,3162.4 1754,3162.5 1757,3163.1 1760,3161.4 1763,3161.2 1766,3161.8 1769,3161 1772,3155.5 1775,3156 1778,3158.3 1781,3157 1784,3149.9 1787,3150.4 1790,3146.6 1793,3145.4 1796,3145.1 1799,3143.9 1802,3139 1805,3137.9 1808,3135.1 1811,3133.8 1814,3129.6 1817,3129 1820,3123.6 1823,3123.3 1826,3119.9 1829,3115.4 1832,3110 1835,3107.4 1838,3105.7 1841,3103.4 1844,3095.9 1847,3097.7 1850,3090.7 1853,3088.1 1856,3083.6 1859,3076 1862,3076.7 1865,3072.2 1868,3067.1 1871,3061.1 1874,3056 1877,3050.4 1880,3048.7 1883,3042.4 1886,3039.8 1889,3035.7 1892,3027 1895,3026.1 1898,3016.3 1901,3009.9 1904,3010.1 1907,3004.6 1910,2997 1913,2993.3 1916,2985.6 1919,2982.1 1922,2976.2 1925,2970.7 1928,2962.5 1931,2956.3 1934,2953.4 1937,2944.1 1940,2943.4 1943,2936.7 1946,2930.3 1949,2920.1 1952,2916.3 1955,2909.9 1958,2906.3 1961,2898.9 1964,2892.8 1967,2885.1 1970,2882 1973,2876.5 1976,2869.4 1979,2864.6 1982,2855.7 1985,2848.7 1988,2845.9 1991,2837 1994,2833.8 1997,2827.4 2000,2821.5 2003,2811.5 2006,2807.4 2009,2801 2012,2795.2 2015,2789.2 2018,2782.1 2021,2779.1 2024,2770.9 2027,2762.7 2030,2760.4 2033,2751.4 2036,2746.7 2039,2741.1 2042,2735 2045,2728.7 2048,2723.3 2051,2714.1 2054,2711.1 2057,2703.3 2060,2697.8 2063,2694.9 2066,2690.9 2069,2682.8 2072,2677.3 2075,2670.6 2078,2667.1 2081,2659.4 2084,2653.5 2087,2650.5 2090,2643.4 2093,2639.3 2096,2637.2 2099,2633.3 2102,2624.6 2105,2621.5 2108,2616.7 2111,2611.5 2114,2608.4 2117,2605.2 2120,2600.1 2123,2596.7 2126,2589.2 2129,2584.6 2132,2579 2135,2578.3 2138,2574.8 2141,2568.8 2144,2566.6 2147,2560.5 2150,2561.4 2153,2556.8 2156,2553.3 2159,2546.2 2164,2544 2164,2601.5 2159,2607.4 2156,2610.7 2153,2614.3 2150,2617.6 2147,2622.1 2144,2625.5 2141,2630 2138,2634.4 2135,2640.3 2132,2645.7 2129,2650.2 2126,2652.2 2123,2656.5 2120,2662.3 2117,2669 2114,2671.7 2111,2678.3 2108,2683.7 2105,2687.5 2102,2695.2 2099,2698 2096,2703.7 2093,2707.4 2090,2710.6 2087,2718.3 2084,2726.5 2081,2728.7 2078,2732.9 2075,2743.3 2072,2749.3 2069,2754.1 2066,2757.8 2063,2765.3 2060,2771.7 2057,2777.8 2054,2779.2 2051,2789.3 2048,2792.3 2045,2802.1 2042,2804 2039,2811.1 2036,2817.2 2033,2825.4 2030,2828.4 2027,2837.5 2024,2839.1 2021,2846.3 2018,2853.7 2015,2857.9 2012,2865.1 2009,2875 2006,2876.3 2003,2887.9 2000,2888.5 1997,2894.4 1994,2900.7 1991,2911.7 1988,2918.1 1985,2921.8 1982,2926.1 1979,2936.4 1976,2941.6 1973,2944.4 1970,2951.9 1967,2957.9 1964,2964.2 1961,2968.2 1958,2977 1955,2980.2 1952,2986.6 1949,2990.5 1946,2998.4 1943,3003.6 1940,3007.8 1937,3014.4 1934,3018.7 1931,3025.3 1928,3031.8 1925,3037.3 1922,3041 1919,3046.3 1916,3055.7 1913,3056.5 1910,3066.2 1907,3069.9 1904,3074.6 1901,3080.4 1898,3086.2 1895,3089.6 1892,3092.1 1889,3096 1886,3103.2 1883,3105.7 1880,3113.9 1877,3114.7 1874,3117.1 1871,3123.8 1868,3125.8 1865,3133.7 1862,3134.5 1859,3142.3 1856,3140.8 1853,3150 1850,3147.9 1847,3154.6 1844,3156.5 1841,3163.6 1838,3164.2 1835,3166.2 1832,3169.4 1829,3171.5 1826,3173.2 1823,3178.8 1820,3182 1817,3182.6 1814,3183.5 1811,3185.8 1808,3192.7 1805,3194 1802,3195.5 1799,3196 1796,3197.7 1793,3200.9 1790,3204 1787,3202.5 1784,3204.5 1781,3206.1 1778,3208.9 1775,3208.1 1772,3210.3 1769,3212.2 1766,3208.7 1763,3209.7 1760,3211.9 1757,3211.3 1754,3213.9 1751,3215 1748,3215.5 1745,3213.6 1742,3214.9 1739,3212.8 1736,3214.4 1733,3210.2 1730,3210.7 1727,3213.5 1724,3212.3 1721,3212.6 1718,3205.9 1715,3207.7 1712,3206.5 1709,3205.5 1706,3202.4 1703,3201.4 1700,3199.8 1697,3201.7 1694,3199.1 1691,3195.3 1688,3193.3 1685,3193.4 1682,3189.9 1679,3188.6 1676,3185.3 1673,3186.2 1670,3183.2 1667,3177.6 1664,3172.8 1661,3174.7 1658,3169.3 1655,3164.3 1652,3165.9 1649,3160.7 1646,3157.4 1643,3154 1640,3151.8 1637,3144.5 1634,3141.3 1631,3139.6 1628,3138.4 1625,3133.1 1622,3129.7 1619,3124.4 1616,3117.9 1613,3115.8 1610,3111.7 1607,3105.6 1604,3102.6 1601,3098.3 1598,3091.1 1595,3089.9 1592,3084.9 1589,3080.1 1586,3074.7 1583,3069.4 1580,3061.4 1577,3058.4 1574,3053.1 1571,3045.3 1568,3044.7 1565,3036.1 1562,3034.9 1559,3028.4 1556,3021.4 1553,3012.8 1550,3010.2 1547,3003.6 1544,2997.4 1541,2995.6 1538,2986.9 1535,2980.3 1532,2975.8 1529,2968.9 1526,2966 1523,2955.1 1520,2951.2 1517,2944.2 1514,2940.7 1511,2934.1 1508,2926.5 1505,2922.3 1502,2914.6 1499,2906.6 1496,2900 1493,2898.2 1490,2888.1 1487,2884.3 1484,2877.8 1481,2873.2 1478,2863.7 1475,2859.5 1472,2853.5 1469,2847.9 1466,2842 1463,2834.7 1460,2826.8 1457,2825.8 1454,2819.6 1451,2809.1 1448,2806.3 1445,2798.2 1442,2791.1 1439,2789.4 1436,2780.3 1433,2774.1 1430,2767.5 1427,2765.6 1424,2755.9 1421,2751.7 1418,2747 1415,2739 1412,2732.6 1409,2728.6 1406,2725.7 1403,2717.2 1400,2711.4 1397,2706.5 1394,2704.6 1391,2694.6 1388,2694.2 1385,2685.8 1382,2682 1379,2674.9 1376,2672.8 1373,2664.8 1370,2661.7 1367,2657 1364,2650.5 1361,2647.6 1358,2644.3 1355,2638.6 1352,2632.4 1349,2629.2 1346,2627.8 1343,2625.4 1340,2616.4 1337,2615.8 1334,2608.7 1331,2608.5 1328,2603.4 1325,2601.6 1322,2596.5 1319,2590.9 1316,2592.6 1313,2588 1310,2584.6 1307,2578.8 1304,2580.2 1301,2574.1 1298,2572 1295,2569.3 1292,2570.8 1289,2567.6 1286,2563.1 1283,2561.7 1280,2562 1277,2556.4 1274,2553.9 1271,2552.9 1268,2554.2 1265,2553.9 1262,2551.4 1259,2551 1256,2546.4 1253,2548.5 1250,2545.8 1247,2546.2 1244,2544.8 1241,2545.7 1238,2543.3 1235,2547.5 1232,2547 1229,2548.8 1226,2545.4 1223,2546.5 1220,2550.2 1217,2549.4 1214,2549.4 1211,2550.1 1208,2552.3 1205,2554.3 1202,2550.6 1199,2553.2 1196,2553.8 1193,2558.3 1190,2559.6 1187,2560.3 1184,2561.7 1181,2567.9 1178,2569.8 1175,2571.1 1172,2571.5 1169,2573.5 1166,2578.6 1163,2580 1160,2584.5 1157,2584.9 1154,2587.3 1151,2590.9 1148,2595.7 1145,2599.5 1142,2603.6 1139,2609 1136,2612.1 1133,2611.5 1130,2619 1127,2624.4 1124,2626.7 1121,2631 1118,2634.3 1115,2635.5 1112,2643.7 1109,2645.4 1106,2650.1 1103,2657.1 1100,2659.9 1097,2665.1 1094,2669.2 1091,2673.1 1088,2681.8 1085,2687 1082,2693.4 1079,2698.3 1076,2703.4 1073,2706.6 1070,2709.7 1067,2714.7 1064,2719.5 1061,2727.3 1058,2733.8 1055,2737.5 1052,2742.3 1049,2748.6 1046,2755.7 1043,2760.4 1040,2765 1037,2772.6 1034,2777.9 1031,2787.5 1028,2794 1025,2795.9 1022,2802.9 1019,2811.3 1016,2814.9 1013,2819.6 1010,2829.4 1007,2831 1004,2837.7 1001,2847.4 998,2852.2 995,2858 992,2862.6 989,2868.2 986,2875.8 983,2881 980,2889.2 977,2898.3 974,2903.8 971,2908.8 968,2916.2 965,2918.9 962,2926.9 959,2933.6 956,2938.4 953,2943.8 950,2950.7 947,2958.1 944,2962.2 941,2965.3 938,2972.2 935,2981.1 932,2986.4 929,2993.7 926,2997.3 923,3000.3 920,3010.5 917,3015.5 914,3020.9 911,3023.3 908,3030.2 905,3036.4 902,3043.1 899,3047.2 896,3050 893,3059.8 890,3063.6 887,3067.6 884,3074.3 881,3077.8 878,3084.2 875,3087 872,3090.8 869,3098.8 866,3098.5 863,3105 860,3109.1 857,3112.4 854,3119.7 851,3121.5 848,3127.7 845,3132.2 842,3133.7 839,3141.4 836,3143.3 833,3145.3 830,3147.9 827,3152.7 824,3158 821,3161.3 818,3160.5 815,3168.9 812,3171.5 809,3174.4 806,3175.2 803,3175.7 800,3182.4 797,3180.2 794,3186 791,3188.8 788,3187.3 785,3194.4 782,3195.3 779,3198.9 776,3197.6 773,3201.1 770,3201.5 767,3205.2 764,3206 761,3205.5 758,3205.3 755,3208.1 752,3207.2 749,3212.2 746,3210.3 743,3213.7 740,3213.6 737,3211.8 734,3213.2 731,3211.4 728,3211.3 725,3211.7 722,3210.6 719,3210.5 716,3212.1 713,3210.5 710,3214.8 707,3211.9 704,3209.6 701,3208.4 698,3210.7 695,3210 692,3205.3 689,3203.6 686,3205.8 683,3206 680,3203.6 677,3200.5 674,3198 671,3194.5 668,3195.9 665,3192 662,3189.6 659,3187.6 656,3185.5 653,3184.8 650,3183.5 647,3178.2 644,3178.4 641,3176 638,3168.3 635,3168.7 632,3166.5 629,3161.7 626,3161.3 623,3152.4 620,3149.8 617,3148.2 614,3145.5 611,3141.7 608,3139.6 605,3132.2 602,3126.3 599,3123.6 596,3120.7 593,3114.4 590,3110.7 587,3110.6 584,3102.3 581,3098.5 578,3095.7 575,3091.9 572,3085.2 569,3081 566,3077.9 563,3071.8 560,3067.2 557,3060.5 554,3055.3 551,3048.6 548,3043.8 545,3039.9 542,3034 539,3029.8 536,3023.6 533,3018.3 530,3010.1 527,3008.6 524,3003.1 521,2993.9 518,2990.8 515,2982.9 512,2975.9 509,2969.8 506,2967 503,2959.8 500,2951.3 497,2945.2 494,2940.5 491,2935.8 488,2929.5 485,2923.9 482,2918.6 479,2910.3 476,2906.3 473,2899.9 470,2894.2 467,2887 464,2880.5 461,2874.3 458,2868 455,2864.1 452,2858 449,2850.1 446,2843.9 443,2837.8 440,2833.7 437,2827.7 434,2819.2 431,2815.4 428,2804.1 425,2799.4 422,2797.4 419,2789.7 416,2781.4 413,2776.5 410,2770.7 407,2767.5 404,2761.5 401,2754.5 398,2750.6 395,2742.3 392,2735.2 389,2731.5 386,2726.1 383,2721.1 380,2714.5 377,2711.3 374,2704.4 371,2700.5 368,2692.4 365,2687.7 362,2685.5 359,2680.4 356,2673.8 353,2666.7 350,2664.6 347,2657.7 344,2654.9 341,2652.4 338,2643.3 335,2640.6 332,2638.6 329,2634.9 326,2626.4 323,2625.6 320,2618.6 317,2616.8 314,2614.4 311,2607.5 308,2603 305,2600.4" fill="#548235"/>
<polyline points="305,2841.6 308,2835.4 311,2829.3 314,2823.1 317,2817 320,2810.9 323,2804.8 326,2798.7 329,2792.7 332,2786.6 335,2780.6 338,2774.6 341,2768.6 344,2762.7 347,2756.8 350,2750.9 353,2745.1 356,2739.3 359,2733.5 362,2727.8 365,2722.1 368,2716.5 371,2710.9 374,2705.4 377,2699.9 380,2694.5 383,2689.1 386,2683.8 389,2678.5 392,2673.3 395,2668.2 398,2663.1 401,2658.1 404,2653.1 407,2648.3 410,2643.5 413,2638.7 416,2634.1 419,2629.5 422,2625 425,2620.5 428,2616.2 431,2611.9 434,2607.7 437,2603.6 440,2599.6 443,2595.7 446,2591.8 449,2588.1 452,2584.4 455,2580.9 458,2577.4 461,2574 464,2570.7 467,2567.5 470,2564.4 473,2561.4 476,2558.5 479,2555.7 482,2553.1 485,2550.5 488,2548 491,2545.6 494,2543.3 497,2541.2 500,2539.1 503,2537.1 506,2535.3 509,2533.5 512,2531.9 515,2530.4 518,2529 521,2527.7 524,2526.5 527,2525.4 530,2524.5 533,2523.6 536,2522.9 539,2522.3 542,2521.7 545,2521.4 548,2521.1 551,2520.9 554,2520.8 557,2520.9 560,2521.1 563,2521.4 566,2521.7 569,2522.3 572,2522.9 575,2523.6 578,2524.5 581,2525.4 584,2526.5 587,2527.7 590,2529 593,2530.4 596,2531.9 599,2533.5 602,2535.3 605,2537.1 608,2539.1 611,2541.2 614,2543.3 617,2545.6 620,2548 623,2550.5 626,2553.1 629,2555.7 632,2558.5 635,2561.4 638,2564.4 641,2567.5 644,2570.7 647,2574 650,2577.4 653,2580.9 656,2584.4 659,2588.1 662,2591.8 665,2595.7 668,2599.6 671,2603.6 674,2607.7 677,2611.9 680,2616.2 683,2620.5 686,2625 689,2629.5 692,2634.1 695,2638.7 698,2643.5 701,2648.3 704,2653.1 707,2658.1 710,2663.1 713,2668.2 716,2673.3 719,2678.5 722,2683.8 725,2689.1 728,2694.5 731,2699.9 734,2705.4 737,2710.9 740,2716.5 743,2722.1 746,2727.8 749,2733.5 752,2739.3 755,2745.1 758,2750.9 761,2756.8 764,2762.7 767,2768.6 770,2774.6 773,2780.6 776,2786.6 779,2792.7 782,2798.7 785,2804.8 788,2810.9 791,2817 794,2823.1 797,2829.3 800,2835.4 803,2841.6 806,2847.7 809,2853.9 812,2860 815,2866.2 818,2872.4 821,2878.5 824,2884.6 827,2890.8 830,2896.9 833,2903 836,2909.1 839,2915.1 842,2921.2 845,2927.2 848,2933.2 851,2939.2 854,2945.1 857,2951 860,2956.9 863,2962.7 866,2968.5 869,2974.3 872,2980 875,2985.7 878,2991.4 881,2996.9 884,3002.5 887,3008 890,3013.4 893,3018.8 896,3024.1 899,3029.4 902,3034.6 905,3039.8 908,3044.9 911,3049.9 914,3054.8 917,3059.7 920,3064.5 923,3069.3 926,3074 929,3078.6 932,3083.1 935,3087.5 938,3091.9 941,3096.2 944,3100.4 947,3104.5 950,3108.5 953,3112.5 956,3116.3 959,3120.1 962,3123.8 965,3127.4 968,3130.9 971,3134.2 974,3137.6 977,3140.8 980,3143.9 983,3146.9 986,3149.8 989,3152.6 992,3155.3 995,3157.9 998,3160.4 1001,3162.8 1004,3165.1 1007,3167.3 1010,3169.4 1013,3171.3 1016,3173.2 1019,3175 1022,3176.6 1025,3178.2 1028,3179.6 1031,3180.9 1034,3182.1 1037,3183.2 1040,3184.2 1043,3185 1046,3185.8 1049,3186.4 1052,3187 1055,3187.4 1058,3187.7 1061,3187.9 1064,3188 1067,3187.9 1070,3187.8 1073,3187.5 1076,3187.1 1079,3186.6 1082,3186 1085,3185.3 1088,3184.5 1091,3183.5 1094,3182.5 1097,3181.3 1100,3180 1103,3178.6 1106,3177.1 1109,3175.5 1112,3173.8 1115,3172 1118,3170 1121,3168 1124,3165.8 1127,3163.6 1130,3161.2 1133,3158.8 1136,3156.2 1139,3153.5 1142,3150.7 1145,3147.9 1148,3144.9 1151,3141.8 1154,3138.6 1157,3135.4 1160,3132 1163,3128.5 1166,3125 1169,3121.3 1172,3117.6 1175,3113.8 1178,3109.8 1181,3105.8 1184,3101.8 1187,3097.6 1190,3093.3 1193,3089 1196,3084.6 1199,3080.1 1202,3075.5 1205,3070.9 1208,3066.1 1211,3061.3 1214,3056.5 1217,3051.5 1220,3046.5 1223,3041.5 1226,3036.3 1229,3031.2 1232,3025.9 1235,3020.6 1238,3015.2 1241,3009.8 1244,3004.3 1247,2998.8 1250,2993.2 1253,2987.6 1256,2981.9 1259,2976.2 1262,2970.5 1265,2964.7 1268,2958.8 1271,2953 1274,2947.1 1277,2941.1 1280,2935.2 1283,2929.2 1286,2923.2 1289,2917.1 1292,2911.1 1295,2905 1298,2898.9 1301,2892.8 1304,2886.7 1307,2880.5 1310,2874.4 1313,2868.3 1316,2862.1 1319,2855.9 1322,2849.8 1325,2843.6 1328,2837.5 1331,2831.3 1334,2825.2 1337,2819.1 1340,2812.9 1343,2806.8 1346,2800.8 1349,2794.7 1352,2788.6 1355,2782.6 1358,2776.6 1361,2770.6 1364,2764.7 1367,2758.8 1370,2752.9 1373,2747 1376,2741.2 1379,2735.5 1382,2729.7 1385,2724 1388,2718.4 1391,2712.8 1394,2707.2 1397,2701.7 1400,2696.3 1403,2690.9 1406,2685.6 1409,2680.3 1412,2675 1415,2669.9 1418,2664.8 1421,2659.8 1424,2654.8 1427,2649.9 1430,2645.1 1433,2640.3 1436,2635.6 1439,2631 1442,2626.5 1445,2622 1448,2617.6 1451,2613.3 1454,2609.1 1457,2605 1460,2600.9 1463,2597 1466,2593.1 1469,2589.3 1472,2585.6 1475,2582 1478,2578.5 1481,2575.1 1484,2571.8 1487,2568.6 1490,2565.4 1493,2562.4 1496,2559.5 1499,2556.7 1502,2553.9 1505,2551.3 1508,2548.8 1511,2546.4 1514,2544.1 1517,2541.9 1520,2539.8 1523,2537.8 1526,2535.9 1529,2534.1 1532,2532.5 1535,2530.9 1538,2529.4 1541,2528.1 1544,2526.9 1547,2525.8 1550,2524.8 1553,2523.9 1556,2523.1 1559,2522.5 1562,2521.9 1565,2521.5 1568,2521.1 1571,2520.9 1574,2520.8 1577,2520.9 1580,2521 1583,2521.2 1586,2521.6 1589,2522.1 1592,2522.7 1595,2523.4 1598,2524.2 1601,2525.1 1604,2526.1 1607,2527.3 1610,2528.5 1613,2529.9 1616,2531.4 1619,2533 1622,2534.7 1625,2536.5 1628,2538.4 1631,2540.5 1634,2542.6 1637,2544.8 1640,2547.2 1643,2549.6 1646,2552.2 1649,2554.8 1652,2557.6 1655,2560.5 1658,2563.4 1661,2566.5 1664,2569.6 1667,2572.9 1670,2576.2 1673,2579.7 1676,2583.2 1679,2586.9 1682,2590.6 1685,2594.4 1688,2598.3 1691,2602.3 1694,2606.4 1697,2610.5 1700,2614.8 1703,2619.1 1706,2623.5 1709,2628 1712,2632.5 1715,2637.2 1718,2641.9 1721,2646.7 1724,2651.5 1727,2656.4 1730,2661.4 1733,2666.5 1736,2671.6 1739,2676.8 1742,2682 1745,2687.3 1748,2692.7 1751,2698.1 1754,2703.6 1757,2709.1 1760,2714.6 1763,2720.3 1766,2725.9 1769,2731.6 1772,2737.4 1775,2743.2 1778,2749 1781,2754.8 1784,2760.7 1787,2766.7 1790,2772.6 1793,2778.6 1796,2784.6 1799,2790.6 1802,2796.7 1805,2802.8 1808,2808.9 1811,2815 1814,2821.1 1817,2827.2 1820,2833.4 1823,2839.5 1826,2845.7 1829,2851.8 1832,2858 1835,2864.1 1838,2870.3 1841,2876.5 1844,2882.6 1847,2888.7 1850,2894.8 1853,2900.9 1856,2907 1859,2913.1 1862,2919.2 1865,2925.2 1868,2931.2 1871,2937.2 1874,2943.1 1877,2949 1880,2954.9 1883,2960.8 1886,2966.6 1889,2972.4 1892,2978.1 1895,2983.8 1898,2989.5 1901,2995.1 1904,3000.6 1907,3006.2 1910,3011.6 1913,3017 1916,3022.4 1919,3027.7 1922,3032.9 1925,3038.1 1928,3043.2 1931,3048.2 1934,3053.2 1937,3058.1 1940,3062.9 1943,3067.7 1946,3072.4 1949,3077 1952,3081.6 1955,3086.1 1958,3090.4 1961,3094.8 1964,3099 1967,3103.1 1970,3107.2 1973,3111.2 1976,3115.1 1979,3118.8 1982,3122.6 1985,3126.2 1988,3129.7 1991,3133.1 1994,3136.5 1997,3139.7 2000,3142.8 2003,3145.9 2006,3148.8 2009,3151.7 2012,3154.4 2015,3157.1 2018,3159.6 2021,3162 2024,3164.4 2027,3166.6 2030,3168.7 2033,3170.7 2036,3172.6 2039,3174.4 2042,3176.1 2045,3177.7 2048,3179.1 2051,3180.5 2054,3181.7 2057,3182.8 2060,3183.9 2063,3184.8 2066,3185.6 2069,3186.2 2072,3186.8 2075,3187.3 2078,3187.6 2081,3187.8 2084,3187.9 2087,3187.9 2090,3187.8 2093,3187.6 2096,3187.3 2099,3186.8 2102,3186.2 2105,3185.6 2108,3184.8 2111,3183.9 2114,3182.8 2117,3181.7 2120,3180.5 2123,3179.1 2126,3177.7 2129,3176.1 2132,3174.4 2135,3172.6 2138,3170.7 2141,3168.7 2144,3166.6 2147,3164.4 2150,3162 2153,3159.6 2156,3157.1 2159,3154.4 2164,3149.8" fill="none" stroke="#FFC000" stroke-width="17.5" stroke-linejoin="round"/>
<polyline points="305,3149.5 308,3152.3 311,3155 314,3157.6 317,3160.1 320,3162.6 323,3164.9 326,3167.1 329,3169.1 332,3171.1 335,3173 338,3174.8 341,3176.4 344,3178 347,3179.4 350,3180.8 353,3182 356,3183.1 359,3184.1 362,3185 365,3185.7 368,3186.4 371,3186.9 374,3187.3 377,3187.7 380,3187.9 383,3188 386,3187.9 389,3187.8 392,3187.5 395,3187.2 398,3186.7 401,3186.1 404,3185.4 407,3184.6 410,3183.6 413,3182.6 416,3181.4 419,3180.2 422,3178.8 425,3177.3 428,3175.7 431,3174 434,3172.2 437,3170.3 440,3168.2 443,3166.1 446,3163.8 449,3161.5 452,3159 455,3156.5 458,3153.8 461,3151.1 464,3148.2 467,3145.2 470,3142.2 473,3139 476,3135.7 479,3132.4 482,3128.9 485,3125.4 488,3121.7 491,3118 494,3114.2 497,3110.3 500,3106.3 503,3102.2 506,3098.1 509,3093.8 512,3089.5 515,3085.1 518,3080.6 521,3076 524,3071.4 527,3066.7 530,3061.9 533,3057 536,3052.1 539,3047.1 542,3042 545,3036.9 548,3031.7 551,3026.5 554,3021.2 557,3015.8 560,3010.4 563,3004.9 566,2999.4 569,2993.8 572,2988.2 575,2982.6 578,2976.9 581,2971.1 584,2965.3 587,2959.5 590,2953.6 593,2947.7 596,2941.8 599,2935.8 602,2929.9 605,2923.9 608,2917.8 611,2911.8 614,2905.7 617,2899.6 620,2893.5 623,2887.4 626,2881.2 629,2875.1 632,2868.9 635,2862.8 638,2856.6 641,2850.5 644,2844.3 647,2838.2 650,2832 653,2825.9 656,2819.7 659,2813.6 662,2807.5 665,2801.4 668,2795.4 671,2789.3 674,2783.3 677,2777.3 680,2771.3 683,2765.3 686,2759.4 689,2753.5 692,2747.7 695,2741.9 698,2736.1 701,2730.4 704,2724.7 707,2719 710,2713.4 713,2707.8 716,2702.3 719,2696.9 722,2691.5 725,2686.1 728,2680.9 731,2675.6 734,2670.5 737,2665.3 740,2660.3 743,2655.3 746,2650.4 749,2645.6 752,2640.8 755,2636.1 758,2631.5 761,2627 764,2622.5 767,2618.1 770,2613.8 773,2609.6 776,2605.4 779,2601.4 782,2597.4 785,2593.5 788,2589.7 791,2586 794,2582.4 797,2578.9 800,2575.5 803,2572.2 806,2568.9 809,2565.8 812,2562.7 815,2559.8 818,2557 821,2554.2 824,2551.6 827,2549.1 830,2546.6 833,2544.3 836,2542.1 839,2540 842,2538 845,2536.1 848,2534.3 851,2532.6 854,2531.1 857,2529.6 860,2528.3 863,2527 866,2525.9 869,2524.9 872,2524 875,2523.2 878,2522.5 881,2522 884,2521.5 887,2521.2 890,2521 893,2520.9 896,2520.9 899,2521 902,2521.2 905,2521.6 908,2522 911,2522.6 914,2523.3 917,2524.1 920,2525 923,2526 926,2527.2 929,2528.4 932,2529.8 935,2531.2 938,2532.8 941,2534.5 944,2536.3 947,2538.2 950,2540.2 953,2542.3 956,2544.6 959,2546.9 962,2549.3 965,2551.9 968,2554.5 971,2557.3 974,2560.1 977,2563.1 980,2566.1 983,2569.3 986,2572.5 989,2575.9 992,2579.3 995,2582.8 998,2586.4 1001,2590.2 1004,2594 1007,2597.9 1010,2601.8 1013,2605.9 1016,2610 1019,2614.3 1022,2618.6 1025,2623 1028,2627.5 1031,2632 1034,2636.6 1037,2641.3 1040,2646.1 1043,2651 1046,2655.9 1049,2660.9 1052,2665.9 1055,2671 1058,2676.2 1061,2681.4 1064,2686.7 1067,2692.1 1070,2697.5 1073,2703 1076,2708.5 1079,2714 1082,2719.6 1085,2725.3 1088,2731 1091,2736.7 1094,2742.5 1097,2748.3 1100,2754.2 1103,2760.1 1106,2766 1109,2772 1112,2777.9 1115,2783.9 1118,2790 1121,2796 1124,2802.1 1127,2808.2 1130,2814.3 1133,2820.4 1136,2826.5 1139,2832.7 1142,2838.8 1145,2845 1148,2851.1 1151,2857.3 1154,2863.5 1157,2869.6 1160,2875.8 1163,2881.9 1166,2888 1169,2894.2 1172,2900.3 1175,2906.4 1178,2912.4 1181,2918.5 1184,2924.5 1187,2930.5 1190,2936.5 1193,2942.5 1196,2948.4 1199,2954.3 1202,2960.1 1205,2966 1208,2971.7 1211,2977.5 1214,2983.2 1217,2988.9 1220,2994.5 1223,3000 1226,3005.5 1229,3011 1232,3016.4 1235,3021.8 1238,3027.1 1241,3032.3 1244,3037.5 1247,3042.6 1250,3047.7 1253,3052.6 1256,3057.6 1259,3062.4 1262,3067.2 1265,3071.9 1268,3076.5 1271,3081.1 1274,3085.6 1277,3090 1280,3094.3 1283,3098.5 1286,3102.7 1289,3106.7 1292,3110.7 1295,3114.6 1298,3118.4 1301,3122.1 1304,3125.8 1307,3129.3 1310,3132.8 1313,3136.1 1316,3139.3 1319,3142.5 1322,3145.6 1325,3148.5 1328,3151.4 1331,3154.1 1334,3156.8 1337,3159.3 1340,3161.8 1343,3164.1 1346,3166.3 1349,3168.5 1352,3170.5 1355,3172.4 1358,3174.2 1361,3175.9 1364,3177.5 1367,3179 1370,3180.3 1373,3181.6 1376,3182.7 1379,3183.8 1382,3184.7 1385,3185.5 1388,3186.2 1391,3186.8 1394,3187.2 1397,3187.6 1400,3187.8 1403,3187.9 1406,3188 1409,3187.9 1412,3187.6 1415,3187.3 1418,3186.9 1421,3186.3 1424,3185.6 1427,3184.9 1430,3184 1433,3183 1436,3181.8 1439,3180.6 1442,3179.3 1445,3177.8 1448,3176.3 1451,3174.6 1454,3172.8 1457,3170.9 1460,3168.9 1463,3166.8 1466,3164.6 1469,3162.3 1472,3159.9 1475,3157.3 1478,3154.7 1481,3152 1484,3149.2 1487,3146.2 1490,3143.2 1493,3140.1 1496,3136.8 1499,3133.5 1502,3130.1 1505,3126.6 1508,3123 1511,3119.3 1514,3115.5 1517,3111.6 1520,3107.6 1523,3103.6 1526,3099.4 1529,3095.2 1532,3090.9 1535,3086.5 1538,3082.1 1541,3077.5 1544,3072.9 1547,3068.2 1550,3063.5 1553,3058.6 1556,3053.7 1559,3048.8 1562,3043.7 1565,3038.6 1568,3033.5 1571,3028.2 1574,3023 1577,3017.6 1580,3012.2 1583,3006.8 1586,3001.3 1589,2995.7 1592,2990.1 1595,2984.5 1598,2978.8 1601,2973 1604,2967.3 1607,2961.4 1610,2955.6 1613,2949.7 1616,2943.8 1619,2937.8 1622,2931.9 1625,2925.9 1628,2919.8 1631,2913.8 1634,2907.7 1637,2901.6 1640,2895.5 1643,2889.4 1646,2883.3 1649,2877.1 1652,2871 1655,2864.8 1658,2858.7 1661,2852.5 1664,2846.4 1667,2840.2 1670,2834.1 1673,2827.9 1676,2821.8 1679,2815.7 1682,2809.5 1685,2803.5 1688,2797.4 1691,2791.3 1694,2785.3 1697,2779.3 1700,2773.3 1703,2767.3 1706,2761.4 1709,2755.5 1712,2749.6 1715,2743.8 1718,2738 1721,2732.3 1724,2726.6 1727,2720.9 1730,2715.3 1733,2709.7 1736,2704.2 1739,2698.7 1742,2693.3 1745,2687.9 1748,2682.6 1751,2677.4 1754,2672.2 1757,2667 1760,2662 1763,2657 1766,2652.1 1769,2647.2 1772,2642.4 1775,2637.7 1778,2633 1781,2628.5 1784,2624 1787,2619.6 1790,2615.2 1793,2611 1796,2606.8 1799,2602.7 1802,2598.7 1805,2594.8 1808,2591 1811,2587.3 1814,2583.6 1817,2580.1 1820,2576.6 1823,2573.3 1826,2570 1829,2566.8 1832,2563.7 1835,2560.8 1838,2557.9 1841,2555.1 1844,2552.5 1847,2549.9 1850,2547.4 1853,2545.1 1856,2542.8 1859,2540.7 1862,2538.6 1865,2536.7 1868,2534.9 1871,2533.2 1874,2531.6 1877,2530.1 1880,2528.7 1883,2527.4 1886,2526.3 1889,2525.2 1892,2524.3 1895,2523.4 1898,2522.7 1901,2522.1 1904,2521.7 1907,2521.3 1910,2521 1913,2520.9 1916,2520.8 1919,2520.9 1922,2521.1 1925,2521.4 1928,2521.9 1931,2522.4 1934,2523 1937,2523.8 1940,2524.7 1943,2525.7 1946,2526.8 1949,2528 1952,2529.3 1955,2530.7 1958,2532.3 1961,2533.9 1964,2535.7 1967,2537.6 1970,2539.5 1973,2541.6 1976,2543.8 1979,2546.1 1982,2548.5 1985,2551 1988,2553.6 1991,2556.4 1994,2559.2 1997,2562.1 2000,2565.1 2003,2568.2 2006,2571.4 2009,2574.7 2012,2578.1 2015,2581.6 2018,2585.2 2021,2588.9 2024,2592.7 2027,2596.5 2030,2600.5 2033,2604.5 2036,2608.7 2039,2612.9 2042,2617.2 2045,2621.5 2048,2626 2051,2630.5 2054,2635.1 2057,2639.8 2060,2644.5 2063,2649.3 2066,2654.2 2069,2659.2 2072,2664.2 2075,2669.3 2078,2674.5 2081,2679.7 2084,2685 2087,2690.3 2090,2695.7 2093,2701.1 2096,2706.6 2099,2712.2 2102,2717.8 2105,2723.4 2108,2729.1 2111,2734.8 2114,2740.6 2117,2746.4 2120,2752.2 2123,2758.1 2126,2764 2129,2770 2132,2775.9 2135,2781.9 2138,2788 2141,2794 2144,2800.1 2147,2806.2 2150,2812.3 2153,2818.4 2156,2824.5 2159,2830.6 2164,2840.9" fill="none" stroke="#5B9BD5" stroke-width="17.5" stroke-linejoin="round"/>
<polyline points="305,2572.2 308,2575.5 311,2578.9 314,2582.4 317,2586 320,2589.7 323,2593.5 326,2597.4 329,2601.4 332,2605.4 335,2609.6 338,2613.8 341,2618.1 344,2622.5 347,2627 350,2631.5 353,2636.1 356,2640.8 359,2645.6 362,2650.4 365,2655.3 368,2660.3 371,2665.3 374,2670.5 377,2675.6 380,2680.9 383,2686.1 386,2691.5 389,2696.9 392,2702.3 395,2707.8 398,2713.4 401,2719 404,2724.7 407,2730.4 410,2736.1 413,2741.9 416,2747.7 419,2753.5 422,2759.4 425,2765.3 428,2771.3 431,2777.3 434,2783.3 437,2789.3 440,2795.4 443,2801.4 446,2807.5 449,2813.6 452,2819.7 455,2825.9 458,2832 461,2838.2 464,2844.3 467,2850.5 470,2856.6 473,2862.8 476,2868.9 479,2875.1 482,2881.2 485,2887.4 488,2893.5 491,2899.6 494,2905.7 497,2911.8 500,2917.8 503,2923.9 506,2929.9 509,2935.8 512,2941.8 515,2947.7 518,2953.6 521,2959.5 524,2965.3 527,2971.1 530,2976.9 533,2982.6 536,2988.2 539,2993.8 542,2999.4 545,3004.9 548,3010.4 551,3015.8 554,3021.2 557,3026.5 560,3031.7 563,3036.9 566,3042 569,3047.1 572,3052.1 575,3057 578,3061.9 581,3066.7 584,3071.4 587,3076 590,3080.6 593,3085.1 596,3089.5 599,3093.8 602,3098.1 605,3102.2 608,3106.3 611,3110.3 614,3114.2 617,3118 620,3121.7 623,3125.4 626,3128.9 629,3132.4 632,3135.7 635,3139 638,3142.2 641,3145.2 644,3148.2 647,3151.1 650,3153.8 653,3156.5 656,3159 659,3161.5 662,3163.8 665,3166.1 668,3168.2 671,3170.3 674,3172.2 677,3174 680,3175.7 683,3177.3 686,3178.8 689,3180.2 692,3181.4 695,3182.6 698,3183.6 701,3184.6 704,3185.4 707,3186.1 710,3186.7 713,3187.2 716,3187.5 719,3187.8 722,3187.9 725,3188 728,3187.9 731,3187.7 734,3187.3 737,3186.9 740,3186.4 743,3185.7 746,3185 749,3184.1 752,3183.1 755,3182 758,3180.8 761,3179.4 764,3178 767,3176.4 770,3174.8 773,3173 776,3171.1 779,3169.1 782,3167.1 785,3164.9 788,3162.6 791,3160.1 794,3157.6 797,3155 800,3152.3 803,3149.5 806,3146.5 809,3143.5 812,3140.4 815,3137.2 818,3133.9 821,3130.5 824,3127 827,3123.4 830,3119.7 833,3115.9 836,3112 839,3108.1 842,3104 845,3099.9 848,3095.7 851,3091.4 854,3087 857,3082.6 860,3078.1 863,3073.4 866,3068.8 869,3064 872,3059.2 875,3054.3 878,3049.3 881,3044.3 884,3039.2 887,3034 890,3028.8 893,3023.5 896,3018.2 899,3012.8 902,3007.4 905,3001.9 908,2996.3 911,2990.7 914,2985.1 917,2979.4 920,2973.7 923,2967.9 926,2962.1 929,2956.2 932,2950.4 935,2944.4 938,2938.5 941,2932.5 944,2926.5 947,2920.5 950,2914.5 953,2908.4 956,2902.3 959,2896.2 962,2890.1 965,2884 968,2877.8 971,2871.7 974,2865.5 977,2859.4 980,2853.2 983,2847 986,2840.9 989,2834.7 992,2828.6 995,2822.5 998,2816.3 1001,2810.2 1004,2804.1 1007,2798.1 1010,2792 1013,2786 1016,2779.9 1019,2773.9 1022,2768 1025,2762.1 1028,2756.2 1031,2750.3 1034,2744.5 1037,2738.7 1040,2732.9 1043,2727.2 1046,2721.5 1049,2715.9 1052,2710.3 1055,2704.8 1058,2699.3 1061,2693.9 1064,2688.5 1067,2683.2 1070,2677.9 1073,2672.7 1076,2667.6 1079,2662.5 1082,2657.5 1085,2652.6 1088,2647.7 1091,2642.9 1094,2638.2 1097,2633.6 1100,2629 1103,2624.5 1106,2620.1 1109,2615.7 1112,2611.5 1115,2607.3 1118,2603.2 1121,2599.2 1124,2595.3 1127,2591.4 1130,2587.7 1133,2584 1136,2580.5 1139,2577 1142,2573.6 1145,2570.3 1148,2567.2 1151,2564.1 1154,2561.1 1157,2558.2 1160,2555.4 1163,2552.8 1166,2550.2 1169,2547.7 1172,2545.3 1175,2543.1 1178,2540.9 1181,2538.9 1184,2536.9 1187,2535.1 1190,2533.4 1193,2531.7 1196,2530.2 1199,2528.8 1202,2527.6 1205,2526.4 1208,2525.3 1211,2524.4 1214,2523.5 1217,2522.8 1220,2522.2 1223,2521.7 1226,2521.3 1229,2521 1232,2520.9 1235,2520.8 1238,2520.9 1241,2521.1 1244,2521.4 1247,2521.8 1250,2522.3 1253,2523 1256,2523.7 1259,2524.6 1262,2525.5 1265,2526.6 1268,2527.8 1271,2529.1 1274,2530.6 1277,2532.1 1280,2533.7 1283,2535.5 1286,2537.3 1289,2539.3 1292,2541.4 1295,2543.6 1298,2545.9 1301,2548.2 1304,2550.7 1307,2553.3 1310,2556 1313,2558.9 1316,2561.8 1319,2564.8 1322,2567.9 1325,2571.1 1328,2574.4 1331,2577.8 1334,2581.2 1337,2584.8 1340,2588.5 1343,2592.3 1346,2596.1 1349,2600.1 1352,2604.1 1355,2608.2 1358,2612.4 1361,2616.7 1364,2621 1367,2625.5 1370,2630 1373,2634.6 1376,2639.3 1379,2644 1382,2648.8 1385,2653.7 1388,2658.6 1391,2663.7 1394,2668.7 1397,2673.9 1400,2679.1 1403,2684.4 1406,2689.7 1409,2695.1 1412,2700.5 1415,2706 1418,2711.5 1421,2717.1 1424,2722.8 1427,2728.5 1430,2734.2 1433,2739.9 1436,2745.7 1439,2751.6 1442,2757.5 1445,2763.4 1448,2769.3 1451,2775.3 1454,2781.3 1457,2787.3 1460,2793.3 1463,2799.4 1466,2805.5 1469,2811.6 1472,2817.7 1475,2823.8 1478,2830 1481,2836.1 1484,2842.3 1487,2848.4 1490,2854.6 1493,2860.7 1496,2866.9 1499,2873 1502,2879.2 1505,2885.3 1508,2891.4 1511,2897.6 1514,2903.7 1517,2909.7 1520,2915.8 1523,2921.8 1526,2927.9 1529,2933.9 1532,2939.8 1535,2945.8 1538,2951.7 1541,2957.5 1544,2963.4 1547,2969.2 1550,2974.9 1553,2980.7 1556,2986.3 1559,2992 1562,2997.6 1565,3003.1 1568,3008.6 1571,3014 1574,3019.4 1577,3024.7 1580,3030 1583,3035.2 1586,3040.3 1589,3045.4 1592,3050.4 1595,3055.4 1598,3060.3 1601,3065.1 1604,3069.8 1607,3074.5 1610,3079.1 1613,3083.6 1616,3088 1619,3092.4 1622,3096.6 1625,3100.8 1628,3104.9 1631,3109 1634,3112.9 1637,3116.7 1640,3120.5 1643,3124.2 1646,3127.8 1649,3131.2 1652,3134.6 1655,3137.9 1658,3141.1 1661,3144.2 1664,3147.2 1667,3150.1 1670,3152.9 1673,3155.6 1676,3158.2 1679,3160.7 1682,3163.1 1685,3165.4 1688,3167.5 1691,3169.6 1694,3171.6 1697,3173.4 1700,3175.2 1703,3176.8 1706,3178.3 1709,3179.7 1712,3181 1715,3182.2 1718,3183.3 1721,3184.3 1724,3185.1 1727,3185.9 1730,3186.5 1733,3187 1736,3187.4 1739,3187.7 1742,3187.9 1745,3188 1748,3187.9 1751,3187.7 1754,3187.5 1757,3187.1 1760,3186.6 1763,3186 1766,3185.2 1769,3184.4 1772,3183.4 1775,3182.4 1778,3181.2 1781,3179.9 1784,3178.5 1787,3177 1790,3175.3 1793,3173.6 1796,3171.8 1799,3169.8 1802,3167.8 1805,3165.6 1808,3163.3 1811,3161 1814,3158.5 1817,3155.9 1820,3153.2 1823,3150.4 1826,3147.5 1829,3144.5 1832,3141.5 1835,3138.3 1838,3135 1841,3131.6 1844,3128.1 1847,3124.6 1850,3120.9 1853,3117.2 1856,3113.3 1859,3109.4 1862,3105.4 1865,3101.3 1868,3097.1 1871,3092.8 1874,3088.5 1877,3084.1 1880,3079.6 1883,3075 1886,3070.3 1889,3065.6 1892,3060.8 1895,3055.9 1898,3051 1901,3046 1904,3040.9 1907,3035.8 1910,3030.6 1913,3025.3 1916,3020 1919,3014.6 1922,3009.2 1925,3003.7 1928,2998.2 1931,2992.6 1934,2987 1937,2981.3 1940,2975.6 1943,2969.8 1946,2964 1949,2958.2 1952,2952.3 1955,2946.4 1958,2940.5 1961,2934.5 1964,2928.5 1967,2922.5 1970,2916.5 1973,2910.4 1976,2904.3 1979,2898.2 1982,2892.1 1985,2886 1988,2879.9 1991,2873.7 1994,2867.6 1997,2861.4 2000,2855.3 2003,2849.1 2006,2842.9 2009,2836.8 2012,2830.6 2015,2824.5 2018,2818.4 2021,2812.3 2024,2806.2 2027,2800.1 2030,2794 2033,2788 2036,2781.9 2039,2775.9 2042,2770 2045,2764 2048,2758.1 2051,2752.2 2054,2746.4 2057,2740.6 2060,2734.8 2063,2729.1 2066,2723.4 2069,2717.8 2072,2712.2 2075,2706.6 2078,2701.1 2081,2695.7 2084,2690.3 2087,2685 2090,2679.7 2093,2674.5 2096,2669.3 2099,2664.2 2102,2659.2 2105,2654.2 2108,2649.3 2111,2644.5 2114,2639.8 2117,2635.1 2120,2630.5 2123,2626 2126,2621.5 2129,2617.2 2132,2612.9 2135,2608.7 2138,2604.5 2141,2600.5 2144,2596.5 2147,2592.7 2150,2588.9 2153,2585.2 2156,2581.6 2159,2578.1 2164,2572.5" fill="none" stroke="#000000" stroke-width="17.5" stroke-linejoin="round"/>
<rect x="1705" y="2495" width="437" height="556" fill="#000"/>
<rect x="1711" y="2501" width="425" height="544" fill="#fff"/>
<rect x="1767" y="2532.3" width="194" height="12" fill="#0000FF"/>
<text x="1975" y="2562.3" font-size="76" text-anchor="start">I1a</text>
<rect x="1767" y="2625.7" width="194" height="12" fill="#FF0000"/>
<text x="1975" y="2655.7" font-size="76" text-anchor="start">I1b</text>
<rect x="1767" y="2720" width="194" height="12" fill="#548235"/>
<text x="1975" y="2750" font-size="76" text-anchor="start">I1c</text>
<rect x="1773" y="2812.5" width="182" height="7" fill="#FFC000"/>
<text x="1975" y="2840" font-size="76" text-anchor="start">I2a</text>
<rect x="1767" y="2900" width="194" height="12" fill="#5B9BD5"/>
<text x="1975" y="2930" font-size="76" text-anchor="start">I2b</text>
<rect x="1767" y="2994.8" width="194" height="12" fill="#000000"/>
<text x="1975" y="3024.8" font-size="76" text-anchor="start">I2c</text>
<text x="337" y="2552" font-size="86" text-anchor="start">(c)</text>
<text x="242" y="2486.8" font-size="75" text-anchor="end">18</text>
<text x="242" y="2680.7" font-size="75" text-anchor="end">9</text>
<text x="242" y="2874.7" font-size="75" text-anchor="end">0</text>
<text x="242" y="3067.8" font-size="75" text-anchor="end">-9</text>
<text x="242" y="3261.8" font-size="75" text-anchor="end">-18</text>
<text x="306" y="3348.8" font-size="75" text-anchor="middle">0.0045</text>
<text x="748.6" y="3348.8" font-size="75" text-anchor="middle">0.007</text>
<text x="1191.2" y="3348.8" font-size="75" text-anchor="middle">0.0095</text>
<text x="1633.9" y="3348.8" font-size="75" text-anchor="middle">0.012</text>
<text x="2076.5" y="3348.8" font-size="75" text-anchor="middle">0.0145</text>
<text x="1269" y="3444" font-size="76" text-anchor="middle">Time (Seconds)</text>
<text transform="translate(91 2848) rotate(-90)" font-size="76" text-anchor="middle">Motor&#160;&#160;Currents (A)</text>
<line x1="763" y1="3551" x2="763" y2="4413" stroke="#C2C2C2" stroke-width="6" stroke-dasharray="31 12 13 12" stroke-dashoffset="-0"/>
<line x1="763" y1="3551" x2="763" y2="4413" stroke="#8C8C8C" stroke-width="6" stroke-dasharray="19 49" stroke-dashoffset="-6"/>
<line x1="1228" y1="4045" x2="1228" y2="4413" stroke="#C2C2C2" stroke-width="6" stroke-dasharray="31 12 13 12" stroke-dashoffset="-0"/>
<line x1="1228" y1="4045" x2="1228" y2="4413" stroke="#8C8C8C" stroke-width="6" stroke-dasharray="19 49" stroke-dashoffset="-6"/>
<line x1="1693" y1="4045" x2="1693" y2="4413" stroke="#C2C2C2" stroke-width="6" stroke-dasharray="31 12 13 12" stroke-dashoffset="-0"/>
<line x1="1693" y1="4045" x2="1693" y2="4413" stroke="#8C8C8C" stroke-width="6" stroke-dasharray="19 49" stroke-dashoffset="-6"/>
<line x1="305" y1="3723" x2="1084" y2="3723" stroke="#C2C2C2" stroke-width="6" stroke-dasharray="31 12 13 12" stroke-dashoffset="-62.8"/>
<line x1="305" y1="3723" x2="1084" y2="3723" stroke="#8C8C8C" stroke-width="6" stroke-dasharray="19 49" stroke-dashoffset="-68.8"/>
<line x1="305" y1="3892" x2="1084" y2="3892" stroke="#C2C2C2" stroke-width="6" stroke-dasharray="31 12 13 12" stroke-dashoffset="-62.8"/>
<line x1="305" y1="3892" x2="1084" y2="3892" stroke="#8C8C8C" stroke-width="6" stroke-dasharray="19 49" stroke-dashoffset="-68.8"/>
<line x1="305" y1="4067" x2="2155" y2="4067" stroke="#C2C2C2" stroke-width="6" stroke-dasharray="31 12 13 12" stroke-dashoffset="-66.3"/>
<line x1="305" y1="4067" x2="2155" y2="4067" stroke="#8C8C8C" stroke-width="6" stroke-dasharray="19 49" stroke-dashoffset="-72.3"/>
<rect x="292" y="3545" width="1869" height="6" fill="#000"/>
<rect x="292" y="3545" width="13" height="875" fill="#000"/>
<rect x="2155" y="3545" width="6" height="875" fill="#000"/>
<rect x="292" y="4413" width="1869" height="7" fill="#000"/>
<rect x="298" y="3538" width="19" height="13" fill="#000"/>
<rect x="298" y="4413" width="19" height="13" fill="#000"/>
<rect x="305" y="3717" width="12" height="12" fill="#000"/>
<rect x="305" y="3886" width="12" height="12" fill="#000"/>
<rect x="305" y="4061" width="12" height="12" fill="#000"/>
<rect x="305" y="4236" width="12" height="12" fill="#000"/>
<rect x="760" y="4401" width="6" height="12" fill="#000"/>
<rect x="1225" y="4401" width="6" height="12" fill="#000"/>
<rect x="1690" y="4401" width="6" height="12" fill="#000"/>
<rect x="298" y="4225.2" width="6" height="109.4" fill="#FF0000"/>
<rect x="304" y="4210.1" width="6" height="134.4" fill="#FF0000"/>
<rect x="310" y="4202.6" width="6" height="105.2" fill="#FF0000"/>
<rect x="316" y="4244.4" width="6" height="88.4" fill="#FF0000"/>
<rect x="322" y="4179.3" width="6" height="118.2" fill="#FF0000"/>
<rect x="328" y="4155.7" width="6" height="196.5" fill="#FF0000"/>
<rect x="334" y="4203.8" width="6" height="97.5" fill="#FF0000"/>
<rect x="340" y="4217.9" width="6" height="119.6" fill="#FF0000"/>
<rect x="346" y="4166.5" width="6" height="131.6" fill="#FF0000"/>
<rect x="352" y="4232.4" width="6" height="103.8" fill="#FF0000"/>
<rect x="358" y="4193.7" width="6" height="137.8" fill="#FF0000"/>
<rect x="364" y="4199.3" width="6" height="153.7" fill="#FF0000"/>
<rect x="370" y="4244.9" width="6" height="63.8" fill="#FF0000"/>
<rect x="376" y="4171.7" width="6" height="186.4" fill="#FF0000"/>
<rect x="382" y="4212.8" width="6" height="90.6" fill="#FF0000"/>
<rect x="388" y="4174.6" width="6" height="183" fill="#FF0000"/>
<rect x="394" y="4247" width="6" height="63.9" fill="#FF0000"/>
<rect x="400" y="4157.4" width="6" height="186.3" fill="#FF0000"/>
<rect x="406" y="4213.9" width="6" height="76.3" fill="#FF0000"/>
<rect x="412" y="4242.4" width="6" height="121" fill="#FF0000"/>
<rect x="418" y="4188.9" width="6" height="163.4" fill="#FF0000"/>
<rect x="424" y="4204.8" width="6" height="123.2" fill="#FF0000"/>
<rect x="430" y="4189.7" width="6" height="149.1" fill="#FF0000"/>
<rect x="436" y="4236.8" width="6" height="94.5" fill="#FF0000"/>
<rect x="442" y="4194" width="6" height="161.6" fill="#FF0000"/>
<rect x="448" y="4191.7" width="6" height="136.9" fill="#FF0000"/>
<rect x="454" y="4168.6" width="6" height="170.2" fill="#FF0000"/>
<rect x="460" y="4176" width="6" height="160.3" fill="#FF0000"/>
<rect x="466" y="4226.2" width="6" height="91.5" fill="#FF0000"/>
<rect x="472" y="4167.9" width="6" height="185" fill="#FF0000"/>
<rect x="478" y="4212.4" width="6" height="122.7" fill="#FF0000"/>
<rect x="484" y="4200" width="6" height="127.5" fill="#FF0000"/>
<rect x="490" y="4211.7" width="6" height="141.8" fill="#FF0000"/>
<rect x="496" y="4158.4" width="6" height="205.7" fill="#FF0000"/>
<rect x="502" y="4255.2" width="6" height="41.8" fill="#FF0000"/>
<rect x="508" y="4169.6" width="6" height="197.1" fill="#FF0000"/>
<rect x="514" y="4210.1" width="6" height="106.8" fill="#FF0000"/>
<rect x="520" y="4184" width="6" height="182.8" fill="#FF0000"/>
<rect x="526" y="4228.4" width="6" height="107.4" fill="#FF0000"/>
<rect x="532" y="4152.9" width="6" height="175" fill="#FF0000"/>
<rect x="538" y="4200.4" width="6" height="138.3" fill="#FF0000"/>
<rect x="544" y="4153.5" width="6" height="168" fill="#FF0000"/>
<rect x="550" y="4166.4" width="6" height="194.5" fill="#FF0000"/>
<rect x="556" y="4191.9" width="6" height="142.9" fill="#FF0000"/>
<rect x="562" y="4246.1" width="6" height="105.8" fill="#FF0000"/>
<rect x="568" y="4214.9" width="6" height="142.7" fill="#FF0000"/>
<rect x="574" y="4175.4" width="6" height="180" fill="#FF0000"/>
<rect x="580" y="4229" width="6" height="67.2" fill="#FF0000"/>
<rect x="586" y="4231.2" width="6" height="103" fill="#FF0000"/>
<rect x="592" y="4194.8" width="6" height="111.1" fill="#FF0000"/>
<rect x="598" y="4211.9" width="6" height="154" fill="#FF0000"/>
<rect x="604" y="4169.4" width="6" height="132.6" fill="#FF0000"/>
<rect x="610" y="4153.4" width="6" height="201" fill="#FF0000"/>
<rect x="616" y="4238.8" width="6" height="116.5" fill="#FF0000"/>
<rect x="622" y="4213" width="6" height="96.4" fill="#FF0000"/>
<rect x="628" y="4193.5" width="6" height="126.8" fill="#FF0000"/>
<rect x="634" y="4217.1" width="6" height="140.4" fill="#FF0000"/>
<rect x="640" y="4158.3" width="6" height="146.5" fill="#FF0000"/>
<rect x="646" y="4212.6" width="6" height="133.7" fill="#FF0000"/>
<rect x="652" y="4175.9" width="6" height="165.4" fill="#FF0000"/>
<rect x="658" y="4216" width="6" height="74.5" fill="#FF0000"/>
<rect x="664" y="4163.6" width="6" height="176.9" fill="#FF0000"/>
<rect x="670" y="4226.5" width="6" height="67.5" fill="#FF0000"/>
<rect x="676" y="4206.3" width="6" height="125.9" fill="#FF0000"/>
<rect x="682" y="4193.3" width="6" height="150.4" fill="#FF0000"/>
<rect x="688" y="4237.4" width="6" height="72.8" fill="#FF0000"/>
<rect x="694" y="4190.9" width="6" height="136.5" fill="#FF0000"/>
<rect x="700" y="4251.1" width="6" height="81.4" fill="#FF0000"/>
<rect x="706" y="4223.6" width="6" height="82.4" fill="#FF0000"/>
<rect x="712" y="4187.9" width="6" height="148.5" fill="#FF0000"/>
<rect x="718" y="4249.8" width="6" height="48.6" fill="#FF0000"/>
<rect x="724" y="4157.2" width="6" height="197.5" fill="#FF0000"/>
<rect x="730" y="4160.2" width="6" height="133" fill="#FF0000"/>
<rect x="736" y="4237.2" width="6" height="114.2" fill="#FF0000"/>
<rect x="742" y="4154.7" width="6" height="167.8" fill="#FF0000"/>
<rect x="748" y="4208.4" width="6" height="128.7" fill="#FF0000"/>
<rect x="754" y="4155.7" width="6" height="155.4" fill="#FF0000"/>
<rect x="760" y="4196.7" width="6" height="166.6" fill="#FF0000"/>
<rect x="766" y="4236.5" width="6" height="77.9" fill="#FF0000"/>
<rect x="772" y="4173.4" width="6" height="176.2" fill="#FF0000"/>
<rect x="778" y="4215.4" width="6" height="96" fill="#FF0000"/>
<rect x="784" y="4253.3" width="6" height="80.6" fill="#FF0000"/>
<rect x="790" y="4211.4" width="6" height="86.5" fill="#FF0000"/>
<rect x="796" y="4152.7" width="6" height="183.9" fill="#FF0000"/>
<rect x="802" y="4216.6" width="6" height="84.1" fill="#FF0000"/>
<rect x="808" y="4189.2" width="6" height="166.9" fill="#FF0000"/>
<rect x="814" y="4216.8" width="6" height="81.9" fill="#FF0000"/>
<rect x="820" y="4187.9" width="6" height="111" fill="#FF0000"/>
<rect x="826" y="4259.4" width="6" height="81.7" fill="#FF0000"/>
<rect x="832" y="4241.5" width="6" height="86.4" fill="#FF0000"/>
<rect x="838" y="4183.6" width="6" height="156.6" fill="#FF0000"/>
<rect x="844" y="4254.1" width="6" height="52.8" fill="#FF0000"/>
<rect x="850" y="4157.2" width="6" height="194.3" fill="#FF0000"/>
<rect x="856" y="4249.1" width="6" height="48.7" fill="#FF0000"/>
<rect x="862" y="4190" width="6" height="169.9" fill="#FF0000"/>
<rect x="868" y="4228.8" width="6" height="124.6" fill="#FF0000"/>
<rect x="874" y="4201.7" width="6" height="87.7" fill="#FF0000"/>
<rect x="880" y="4209.8" width="6" height="139.4" fill="#FF0000"/>
<rect x="886" y="4181.5" width="6" height="125" fill="#FF0000"/>
<rect x="892" y="4227.9" width="6" height="120.1" fill="#FF0000"/>
<rect x="898" y="4183.1" width="6" height="105.8" fill="#FF0000"/>
<rect x="904" y="4214.6" width="6" height="118.6" fill="#FF0000"/>
<rect x="910" y="4208.3" width="6" height="133.9" fill="#FF0000"/>
<rect x="916" y="4200.3" width="6" height="124.8" fill="#FF0000"/>
<rect x="922" y="4227.6" width="6" height="106.9" fill="#FF0000"/>
<rect x="928" y="4173.3" width="6" height="178.9" fill="#FF0000"/>
<rect x="934" y="4199.9" width="6" height="156.6" fill="#FF0000"/>
<rect x="940" y="4221.1" width="6" height="103.6" fill="#FF0000"/>
<rect x="946" y="4191.7" width="6" height="155.2" fill="#FF0000"/>
<rect x="952" y="4232.6" width="6" height="92.9" fill="#FF0000"/>
<rect x="958" y="4203.1" width="6" height="107.2" fill="#FF0000"/>
<rect x="964" y="4222.1" width="6" height="126" fill="#FF0000"/>
<rect x="970" y="4253.3" width="6" height="64" fill="#FF0000"/>
<rect x="976" y="4248.7" width="6" height="105.4" fill="#FF0000"/>
<rect x="982" y="4204" width="6" height="106.4" fill="#FF0000"/>
<rect x="988" y="4186.1" width="6" height="170.2" fill="#FF0000"/>
<rect x="994" y="4238.9" width="6" height="92.4" fill="#FF0000"/>
<rect x="1000" y="4155.9" width="6" height="134.2" fill="#FF0000"/>
<rect x="1006" y="4164.1" width="6" height="198.2" fill="#FF0000"/>
<rect x="1012" y="4198.7" width="6" height="128.2" fill="#FF0000"/>
<rect x="1018" y="4214.5" width="6" height="152.7" fill="#FF0000"/>
<rect x="1024" y="4151.7" width="6" height="179.7" fill="#FF0000"/>
<rect x="1030" y="4197.6" width="6" height="134.1" fill="#FF0000"/>
<rect x="1036" y="4259.9" width="6" height="98.3" fill="#FF0000"/>
<rect x="1042" y="4160.6" width="6" height="173.7" fill="#FF0000"/>
<rect x="1048" y="4254.6" width="6" height="80.9" fill="#FF0000"/>
<rect x="1054" y="4163.6" width="6" height="131.6" fill="#FF0000"/>
<rect x="1060" y="4257.8" width="6" height="88.7" fill="#FF0000"/>
<rect x="1066" y="4250.3" width="6" height="105.2" fill="#FF0000"/>
<rect x="1072" y="4234.7" width="6" height="82.5" fill="#FF0000"/>
<rect x="1078" y="4196.6" width="6" height="138.4" fill="#FF0000"/>
<rect x="1084" y="4226.3" width="6" height="108.3" fill="#FF0000"/>
<rect x="1090" y="4159.5" width="6" height="138.8" fill="#FF0000"/>
<rect x="1096" y="4215.3" width="6" height="94.5" fill="#FF0000"/>
<rect x="1102" y="4159.8" width="6" height="175" fill="#FF0000"/>
<rect x="1108" y="4214" width="6" height="93.3" fill="#FF0000"/>
<rect x="1114" y="4170.4" width="6" height="169.6" fill="#FF0000"/>
<rect x="1120" y="4230.9" width="6" height="93.3" fill="#FF0000"/>
<rect x="1126" y="4160.8" width="6" height="182.6" fill="#FF0000"/>
<rect x="1132" y="4242.7" width="6" height="49.2" fill="#FF0000"/>
<rect x="1138" y="4251.9" width="6" height="84.6" fill="#FF0000"/>
<rect x="1144" y="4183.3" width="6" height="159.1" fill="#FF0000"/>
<rect x="1150" y="4201.7" width="6" height="138.1" fill="#FF0000"/>
<rect x="1156" y="4193.3" width="6" height="111" fill="#FF0000"/>
<rect x="1162" y="4258.8" width="6" height="73.4" fill="#FF0000"/>
<rect x="1168" y="4200.1" width="6" height="130" fill="#FF0000"/>
<rect x="1174" y="4200.1" width="6" height="95.4" fill="#FF0000"/>
<rect x="1180" y="4210.8" width="6" height="97.4" fill="#FF0000"/>
<rect x="1186" y="4176.6" width="6" height="180.8" fill="#FF0000"/>
<rect x="1192" y="4244.7" width="6" height="76.5" fill="#FF0000"/>
<rect x="1198" y="4223.7" width="6" height="116.4" fill="#FF0000"/>
<rect x="1204" y="4217.4" width="6" height="107.8" fill="#FF0000"/>
<rect x="1210" y="4183.8" width="6" height="154.9" fill="#FF0000"/>
<rect x="1216" y="4190.1" width="6" height="171.5" fill="#FF0000"/>
<rect x="1222" y="4226.4" width="6" height="106.8" fill="#FF0000"/>
<rect x="1228" y="4169.4" width="6" height="160.2" fill="#FF0000"/>
<rect x="1234" y="4221.5" width="6" height="142.4" fill="#FF0000"/>
<rect x="1240" y="4205.6" width="6" height="93.2" fill="#FF0000"/>
<rect x="1246" y="4174.8" width="6" height="131.7" fill="#FF0000"/>
<rect x="1252" y="4185.5" width="6" height="171.6" fill="#FF0000"/>
<rect x="1258" y="4191.1" width="6" height="111.3" fill="#FF0000"/>
<rect x="1264" y="4245.2" width="6" height="94.2" fill="#FF0000"/>
<rect x="1270" y="4199" width="6" height="96.7" fill="#FF0000"/>
<rect x="1276" y="4223.2" width="6" height="136.1" fill="#FF0000"/>
<rect x="1282" y="4155.2" width="6" height="133.3" fill="#FF0000"/>
<rect x="1288" y="4175.4" width="6" height="183.1" fill="#FF0000"/>
<rect x="1294" y="4244" width="6" height="50" fill="#FF0000"/>
<rect x="1300" y="4202.6" width="6" height="128.5" fill="#FF0000"/>
<rect x="1306" y="4255.2" width="6" height="102.5" fill="#FF0000"/>
<rect x="1312" y="4191.7" width="6" height="171.5" fill="#FF0000"/>
<rect x="1318" y="4207.1" width="6" height="115.8" fill="#FF0000"/>
<rect x="1324" y="4241.8" width="6" height="90.3" fill="#FF0000"/>
<rect x="1330" y="4177.7" width="6" height="120" fill="#FF0000"/>
<rect x="1336" y="4188.8" width="6" height="158.7" fill="#FF0000"/>
<rect x="1342" y="4162" width="6" height="135.3" fill="#FF0000"/>
<rect x="1348" y="4216.5" width="6" height="127.3" fill="#FF0000"/>
<rect x="1354" y="4197.4" width="6" height="95.6" fill="#FF0000"/>
<rect x="1360" y="4245.5" width="6" height="97.9" fill="#FF0000"/>
<rect x="1366" y="4212.9" width="6" height="131.4" fill="#FF0000"/>
<rect x="1372" y="4191.5" width="6" height="148" fill="#FF0000"/>
<rect x="1378" y="4207.2" width="6" height="106.9" fill="#FF0000"/>
<rect x="1384" y="4182.6" width="6" height="176.1" fill="#FF0000"/>
<rect x="1390" y="4213.7" width="6" height="120" fill="#FF0000"/>
<rect x="1396" y="4202.2" width="6" height="142" fill="#FF0000"/>
<rect x="1402" y="4152.6" width="6" height="186.3" fill="#FF0000"/>
<rect x="1408" y="4209.7" width="6" height="156.5" fill="#FF0000"/>
<rect x="1414" y="4169.6" width="6" height="137.3" fill="#FF0000"/>
<rect x="1420" y="4165.6" width="6" height="169.3" fill="#FF0000"/>
<rect x="1426" y="4198.1" width="6" height="107.5" fill="#FF0000"/>
<rect x="1432" y="4252" width="6" height="82.4" fill="#FF0000"/>
<rect x="1438" y="4169.5" width="6" height="145.4" fill="#FF0000"/>
<rect x="1444" y="4259.2" width="6" height="53.8" fill="#FF0000"/>
<rect x="1450" y="4180.8" width="6" height="179.2" fill="#FF0000"/>
<rect x="1456" y="4249.1" width="6" height="95.4" fill="#FF0000"/>
<rect x="1462" y="4189.2" width="6" height="161.5" fill="#FF0000"/>
<rect x="1468" y="4156.5" width="6" height="150.1" fill="#FF0000"/>
<rect x="1474" y="4255.5" width="6" height="103.7" fill="#FF0000"/>
<rect x="1480" y="4248.3" width="6" height="44.2" fill="#FF0000"/>
<rect x="1486" y="4222.4" width="6" height="110.3" fill="#FF0000"/>
<rect x="1492" y="4168.6" width="6" height="131.8" fill="#FF0000"/>
<rect x="1498" y="4191" width="6" height="172.7" fill="#FF0000"/>
<rect x="1504" y="4241" width="6" height="69.6" fill="#FF0000"/>
<rect x="1510" y="4155.4" width="6" height="208.3" fill="#FF0000"/>
<rect x="1516" y="4206.4" width="6" height="117.3" fill="#FF0000"/>
<rect x="1522" y="4182.3" width="6" height="165.3" fill="#FF0000"/>
<rect x="1528" y="4210.8" width="6" height="123.9" fill="#FF0000"/>
<rect x="1534" y="4200.2" width="6" height="157.3" fill="#FF0000"/>
<rect x="1540" y="4199" width="6" height="128.6" fill="#FF0000"/>
<rect x="1546" y="4208.4" width="6" height="149" fill="#FF0000"/>
<rect x="1552" y="4178.2" width="6" height="172.5" fill="#FF0000"/>
<rect x="1558" y="4248.3" width="6" height="62.4" fill="#FF0000"/>
<rect x="1564" y="4203.6" width="6" height="92.3" fill="#FF0000"/>
<rect x="1570" y="4177.8" width="6" height="168.4" fill="#FF0000"/>
<rect x="1576" y="4225.8" width="6" height="142.9" fill="#FF0000"/>
<rect x="1582" y="4178.4" width="6" height="157.4" fill="#FF0000"/>
<rect x="1588" y="4243.4" width="6" height="112.1" fill="#FF0000"/>
<rect x="1594" y="4211" width="6" height="89.7" fill="#FF0000"/>
<rect x="1600" y="4153.9" width="6" height="179.9" fill="#FF0000"/>
<rect x="1606" y="4224.3" width="6" height="65" fill="#FF0000"/>
<rect x="1612" y="4203.2" width="6" height="99" fill="#FF0000"/>
<rect x="1618" y="4225.8" width="6" height="89.7" fill="#FF0000"/>
<rect x="1624" y="4188.4" width="6" height="173.1" fill="#FF0000"/>
<rect x="1630" y="4168.4" width="6" height="131.9" fill="#FF0000"/>
<rect x="1636" y="4175.4" width="6" height="170.8" fill="#FF0000"/>
<rect x="1642" y="4228.5" width="6" height="103.1" fill="#FF0000"/>
<rect x="1648" y="4163.9" width="6" height="145.9" fill="#FF0000"/>
<rect x="1654" y="4251.9" width="6" height="70.5" fill="#FF0000"/>
<rect x="1660" y="4162" width="6" height="190.9" fill="#FF0000"/>
<rect x="1666" y="4213.5" width="6" height="91" fill="#FF0000"/>
<rect x="1672" y="4198.1" width="6" height="144.2" fill="#FF0000"/>
<rect x="1678" y="4211.2" width="6" height="100" fill="#FF0000"/>
<rect x="1684" y="4203.9" width="6" height="119.3" fill="#FF0000"/>
<rect x="1690" y="4173.6" width="6" height="178.5" fill="#FF0000"/>
<rect x="1696" y="4240" width="6" height="56" fill="#FF0000"/>
<rect x="1702" y="4229.5" width="6" height="119.5" fill="#FF0000"/>
<rect x="1708" y="4194" width="6" height="97.1" fill="#FF0000"/>
<rect x="1714" y="4174.7" width="6" height="159.4" fill="#FF0000"/>
<rect x="1720" y="4181.8" width="6" height="171.5" fill="#FF0000"/>
<rect x="1726" y="4201.1" width="6" height="164.5" fill="#FF0000"/>
<rect x="1732" y="4188.5" width="6" height="120" fill="#FF0000"/>
<rect x="1738" y="4250.5" width="6" height="116.7" fill="#FF0000"/>
<rect x="1744" y="4180" width="6" height="141" fill="#FF0000"/>
<rect x="1750" y="4246.4" width="6" height="101" fill="#FF0000"/>
<rect x="1756" y="4246.3" width="6" height="67.3" fill="#FF0000"/>
<rect x="1762" y="4196.1" width="6" height="116.5" fill="#FF0000"/>
<rect x="1768" y="4223.5" width="6" height="138" fill="#FF0000"/>
<rect x="1774" y="4221.7" width="6" height="100.5" fill="#FF0000"/>
<rect x="1780" y="4169.2" width="6" height="170.7" fill="#FF0000"/>
<rect x="1786" y="4151.8" width="6" height="141.9" fill="#FF0000"/>
<rect x="1792" y="4221.1" width="6" height="113.7" fill="#FF0000"/>
<rect x="1798" y="4151.8" width="6" height="146" fill="#FF0000"/>
<rect x="1804" y="4215.5" width="6" height="77.8" fill="#FF0000"/>
<rect x="1810" y="4194.6" width="6" height="161" fill="#FF0000"/>
<rect x="1816" y="4163.6" width="6" height="171.4" fill="#FF0000"/>
<rect x="1822" y="4242.3" width="6" height="46.2" fill="#FF0000"/>
<rect x="1828" y="4195.5" width="6" height="149.3" fill="#FF0000"/>
<rect x="1834" y="4255.9" width="6" height="40.9" fill="#FF0000"/>
<rect x="1840" y="4246.2" width="6" height="89.4" fill="#FF0000"/>
<rect x="1846" y="4196.2" width="6" height="172.3" fill="#FF0000"/>
<rect x="1852" y="4153.2" width="6" height="159" fill="#FF0000"/>
<rect x="1858" y="4214.7" width="6" height="139.1" fill="#FF0000"/>
<rect x="1864" y="4219.8" width="6" height="112.4" fill="#FF0000"/>
<rect x="1870" y="4167.9" width="6" height="163.4" fill="#FF0000"/>
<rect x="1876" y="4224.6" width="6" height="81" fill="#FF0000"/>
<rect x="1882" y="4182.2" width="6" height="170.8" fill="#FF0000"/>
<rect x="1888" y="4168.4" width="6" height="164.3" fill="#FF0000"/>
<rect x="1894" y="4228.8" width="6" height="67.4" fill="#FF0000"/>
<rect x="1900" y="4152.7" width="6" height="168.7" fill="#FF0000"/>
<rect x="1906" y="4221" width="6" height="110.6" fill="#FF0000"/>
<rect x="1912" y="4218.7" width="6" height="120.3" fill="#FF0000"/>
<rect x="1918" y="4171.1" width="6" height="154.7" fill="#FF0000"/>
<rect x="1924" y="4245.3" width="6" height="90.5" fill="#FF0000"/>
<rect x="1930" y="4159.1" width="6" height="138.1" fill="#FF0000"/>
<rect x="1936" y="4204.1" width="6" height="130.1" fill="#FF0000"/>
<rect x="1942" y="4191.2" width="6" height="104" fill="#FF0000"/>
<rect x="1948" y="4255" width="6" height="103.6" fill="#FF0000"/>
<rect x="1954" y="4202.9" width="6" height="164.3" fill="#FF0000"/>
<rect x="1960" y="4223.7" width="6" height="77" fill="#FF0000"/>
<rect x="1966" y="4158.1" width="6" height="186.6" fill="#FF0000"/>
<rect x="1972" y="4225.3" width="6" height="84.8" fill="#FF0000"/>
<rect x="1978" y="4183.8" width="6" height="157.6" fill="#FF0000"/>
<rect x="1984" y="4220.9" width="6" height="111" fill="#FF0000"/>
<rect x="1990" y="4154.5" width="6" height="194.2" fill="#FF0000"/>
<rect x="1996" y="4212.7" width="6" height="117.4" fill="#FF0000"/>
<rect x="2002" y="4250.1" width="6" height="89.9" fill="#FF0000"/>
<rect x="2008" y="4174.1" width="6" height="144.7" fill="#FF0000"/>
<rect x="2014" y="4258.1" width="6" height="81.7" fill="#FF0000"/>
<rect x="2020" y="4156.6" width="6" height="150.6" fill="#FF0000"/>
<rect x="2026" y="4234.9" width="6" height="127.4" fill="#FF0000"/>
<rect x="2032" y="4163.9" width="6" height="146.5" fill="#FF0000"/>
<rect x="2038" y="4247.7" width="6" height="52.6" fill="#FF0000"/>
<rect x="2044" y="4168.5" width="6" height="167.2" fill="#FF0000"/>
<rect x="2050" y="4200" width="6" height="93.6" fill="#FF0000"/>
<rect x="2056" y="4158" width="6" height="189.6" fill="#FF0000"/>
<rect x="2062" y="4250.3" width="6" height="60.6" fill="#FF0000"/>
<rect x="2068" y="4161.9" width="6" height="154.7" fill="#FF0000"/>
<rect x="2074" y="4208.5" width="6" height="139.4" fill="#FF0000"/>
<rect x="2080" y="4164.1" width="6" height="147.5" fill="#FF0000"/>
<rect x="2086" y="4171.8" width="6" height="151" fill="#FF0000"/>
<rect x="2092" y="4254.7" width="6" height="111" fill="#FF0000"/>
<rect x="2098" y="4178" width="6" height="136.4" fill="#FF0000"/>
<rect x="2104" y="4246.3" width="6" height="66.4" fill="#FF0000"/>
<rect x="2110" y="4155.1" width="6" height="195.4" fill="#FF0000"/>
<rect x="2116" y="4224.8" width="6" height="99.8" fill="#FF0000"/>
<rect x="2122" y="4198.9" width="6" height="159" fill="#FF0000"/>
<rect x="2128" y="4239" width="6" height="78" fill="#FF0000"/>
<rect x="2134" y="4161.9" width="6" height="206" fill="#FF0000"/>
<rect x="2140" y="4239.1" width="6" height="62" fill="#FF0000"/>
<rect x="2146" y="4225.8" width="6" height="129.9" fill="#FF0000"/>
<rect x="2152" y="4152.8" width="6" height="142.4" fill="#FF0000"/>
<rect x="1280" y="3595" width="850" height="398" fill="#000"/>
<rect x="1286" y="3601" width="838" height="386" fill="#fff"/>
<polyline points="1281,3912 1283.4,3856 1288.5,3832 1295.4,3771 1298.8,3702 1303.9,3668 1314.2,3641 1319.3,3685 1326.1,3719.5 1334.6,3753.7 1339.8,3805 1346.6,3822 1353.4,3866 1360.3,3900.5 1365.4,3924.5 1372.2,3880 1377.3,3822 1382.5,3753.7 1387.6,3695.6 1389.3,3668 1399.5,3668 1406.4,3692 1411.5,3716 1420,3695.6 1432,3695.6 1437.1,3747 1447.3,3753.7 1454.2,3770.8 1461,3839 1467.8,3873 1478,3890 1484.9,3938 1495.2,3907 1505.4,3934.7 1512.2,3941.5 1515.7,3883.5 1520.8,3818.6 1525.9,3787.8 1532.7,3743.4 1539.6,3685.4 1548.1,3634 1553.2,3685.4 1560,3736.6 1566.9,3781 1573.7,3822 1580.5,3873 1589.1,3890 1595.9,3927.9 1602.7,3924.5 1606.2,3856 1611.3,3811.7 1616.4,3753.7 1625,3746.9 1635.2,3764 1642,3777.6 1648.9,3777.6 1652.3,3729.8 1657.4,3705.9 1666,3719.5 1669.3,3767.3 1676.2,3784.4 1684.7,3764 1689.8,3787.8 1693.2,3845.9 1698.4,3873.2 1706.8,3897 1715.4,3917.6 1722.2,3962 1727.3,3924.5 1737.6,3924.5 1746.1,3873.2 1749.5,3849.3 1761.5,3849.3 1764.9,3753.7 1771.7,3712.7 1779.2,3637.6 1783.7,3719.5 1790.5,3753.7 1797.3,3770.8 1802.5,3822 1809.3,3856 1816.1,3900.5 1824.7,3927.9 1833.2,3941.5 1836.6,3890.3 1840,3832.2 1850.3,3818.6 1858.8,3866.4 1863.9,3825.4 1870.8,3811.7 1877.6,3777.6 1884.4,3753.7 1891.3,3719.5 1898.1,3760.5 1908.3,3770.8 1915.2,3770.8 1916.9,3852.7 1925.4,3873.2 1935.7,3907.4 1942.5,3941.5 1949.3,3975.7 1959.6,3941.5 1973.2,3958.6 1973.2,3883.5 1986.9,3839 1993.7,3805 2000.5,3736.6 2010.8,3682 2019.3,3709.3 2027.9,3746.9 2036.4,3805 2044.9,3859.6 2051.8,3900.5 2060.3,3924.5 2067.1,3965.4 2072.3,3890.3 2080.8,3907.4 2092.8,3914.2 2096.2,3839 2106.4,3798 2113.3,3746.9 2121.8,3709.3 2124,3700" fill="none" stroke="#FF0000" stroke-width="13" stroke-linejoin="round" stroke-linejoin="miter" stroke-miterlimit="2"/>
<text x="1206" y="3674.8" font-size="77" text-anchor="end">4.15</text>
<text x="1219" y="3983.8" font-size="77" text-anchor="end">3.90</text>
<ellipse cx="1664.5" cy="4258.5" rx="130.5" ry="138.5" fill="none" stroke="#000" stroke-width="8"/>
<polygon points="1666.5,3996 1697,4044 1684,4032 1673,4029 1673,4122 1661,4122 1661,4029 1649,4032 1636,4044" fill="#000"/>
<text x="337" y="3663" font-size="86" text-anchor="start">(d)</text>
<text x="230" y="3567.8" font-size="75" text-anchor="end">4.8</text>
<text x="230" y="3743.2" font-size="75" text-anchor="end">4.6</text>
<text x="230" y="3918.5" font-size="75" text-anchor="end">4.4</text>
<text x="230" y="4093.7" font-size="75" text-anchor="end">4.2</text>
<text x="230" y="4268.8" font-size="75" text-anchor="end">4</text>
<text x="230" y="4437.8" font-size="75" text-anchor="end">3.8</text>
<text x="298" y="4530.9" font-size="75" text-anchor="middle">0.004</text>
<text x="763" y="4530.9" font-size="75" text-anchor="middle">0.005</text>
<text x="1228" y="4530.9" font-size="75" text-anchor="middle">0.006</text>
<text x="1693" y="4530.9" font-size="75" text-anchor="middle">0.007</text>
<text x="2158" y="4530.9" font-size="75" text-anchor="middle">0.008</text>
<text x="1238" y="4636" font-size="76" text-anchor="middle">Time (Seconds)</text>
<text transform="translate(85 3986) rotate(-90)" font-size="76" text-anchor="middle">Output Torque (Nm)</text>
</svg>
</body></html>
